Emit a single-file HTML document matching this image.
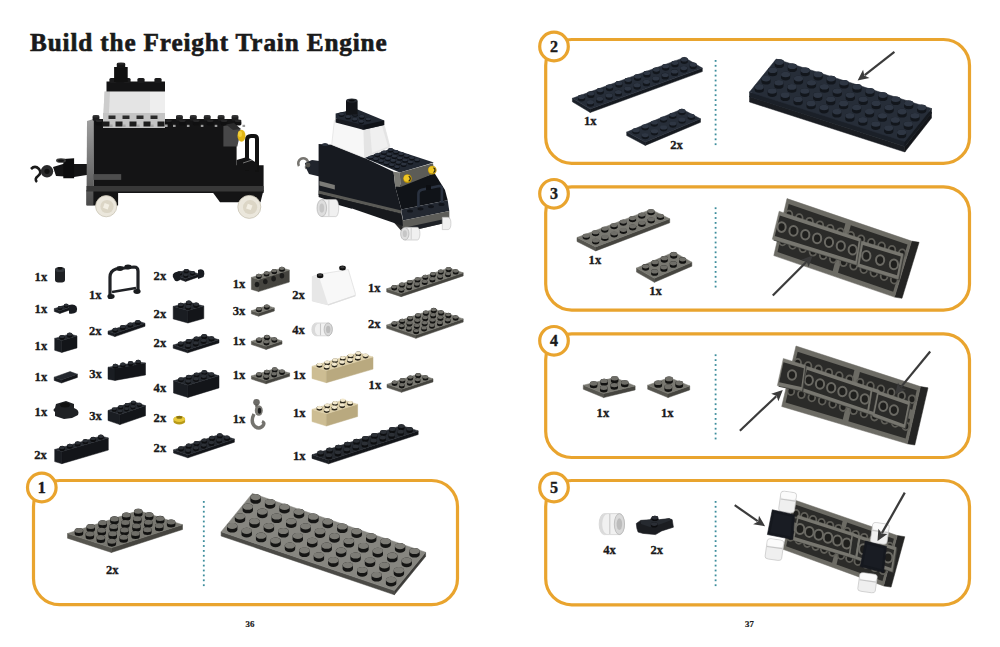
<!DOCTYPE html>
<html><head><meta charset="utf-8"><style>
html,body{margin:0;padding:0;background:#fff;}
svg{display:block;font-family:"Liberation Serif",serif;}
</style></head><body>
<svg width="1000" height="647" viewBox="0 0 1000 647">
<rect width="1000" height="647" fill="#ffffff"/>
<text x="30.0" y="50.6" font-size="25.2" text-anchor="start" font-weight="bold" fill="#1a1a1a" stroke="#1a1a1a" stroke-width="0.63" letter-spacing="0.86">Build the Freight Train Engine</text>
<rect x="33.5" y="480.5" width="424.0" height="124.20000000000005" rx="26" ry="26" fill="none" stroke="#e9a42e" stroke-width="3.2"/>
<circle cx="41.8" cy="487.5" r="14.3" fill="#fff" stroke="#e9a42e" stroke-width="3.2"/>
<text x="41.8" y="492.9" font-size="16" text-anchor="middle" font-weight="bold" fill="#1a1a1a" stroke="#1a1a1a" stroke-width="0.40" >1</text>
<rect x="202.9" y="501.0" width="1.8" height="1.8" fill="#3d8d9c"/><rect x="202.9" y="505.9" width="1.8" height="1.8" fill="#3d8d9c"/><rect x="202.9" y="510.8" width="1.8" height="1.8" fill="#3d8d9c"/><rect x="202.9" y="515.7" width="1.8" height="1.8" fill="#3d8d9c"/><rect x="202.9" y="520.6" width="1.8" height="1.8" fill="#3d8d9c"/><rect x="202.9" y="525.5" width="1.8" height="1.8" fill="#3d8d9c"/><rect x="202.9" y="530.4" width="1.8" height="1.8" fill="#3d8d9c"/><rect x="202.9" y="535.3" width="1.8" height="1.8" fill="#3d8d9c"/><rect x="202.9" y="540.2" width="1.8" height="1.8" fill="#3d8d9c"/><rect x="202.9" y="545.1" width="1.8" height="1.8" fill="#3d8d9c"/><rect x="202.9" y="550.0" width="1.8" height="1.8" fill="#3d8d9c"/><rect x="202.9" y="554.9" width="1.8" height="1.8" fill="#3d8d9c"/><rect x="202.9" y="559.8" width="1.8" height="1.8" fill="#3d8d9c"/><rect x="202.9" y="564.7" width="1.8" height="1.8" fill="#3d8d9c"/><rect x="202.9" y="569.6" width="1.8" height="1.8" fill="#3d8d9c"/><rect x="202.9" y="574.5" width="1.8" height="1.8" fill="#3d8d9c"/><rect x="202.9" y="579.4" width="1.8" height="1.8" fill="#3d8d9c"/><rect x="202.9" y="584.3" width="1.8" height="1.8" fill="#3d8d9c"/>
<rect x="545.7" y="39.5" width="423.79999999999995" height="123.80000000000001" rx="26" ry="26" fill="none" stroke="#e9a42e" stroke-width="3.2"/>
<circle cx="554.0" cy="46.5" r="14.3" fill="#fff" stroke="#e9a42e" stroke-width="3.2"/>
<text x="554.0" y="51.9" font-size="16" text-anchor="middle" font-weight="bold" fill="#1a1a1a" stroke="#1a1a1a" stroke-width="0.40" >2</text>
<rect x="714.7" y="60.0" width="1.8" height="1.8" fill="#3d8d9c"/><rect x="714.7" y="64.9" width="1.8" height="1.8" fill="#3d8d9c"/><rect x="714.7" y="69.8" width="1.8" height="1.8" fill="#3d8d9c"/><rect x="714.7" y="74.7" width="1.8" height="1.8" fill="#3d8d9c"/><rect x="714.7" y="79.6" width="1.8" height="1.8" fill="#3d8d9c"/><rect x="714.7" y="84.5" width="1.8" height="1.8" fill="#3d8d9c"/><rect x="714.7" y="89.4" width="1.8" height="1.8" fill="#3d8d9c"/><rect x="714.7" y="94.3" width="1.8" height="1.8" fill="#3d8d9c"/><rect x="714.7" y="99.2" width="1.8" height="1.8" fill="#3d8d9c"/><rect x="714.7" y="104.1" width="1.8" height="1.8" fill="#3d8d9c"/><rect x="714.7" y="109.0" width="1.8" height="1.8" fill="#3d8d9c"/><rect x="714.7" y="113.9" width="1.8" height="1.8" fill="#3d8d9c"/><rect x="714.7" y="118.8" width="1.8" height="1.8" fill="#3d8d9c"/><rect x="714.7" y="123.7" width="1.8" height="1.8" fill="#3d8d9c"/><rect x="714.7" y="128.6" width="1.8" height="1.8" fill="#3d8d9c"/><rect x="714.7" y="133.5" width="1.8" height="1.8" fill="#3d8d9c"/><rect x="714.7" y="138.4" width="1.8" height="1.8" fill="#3d8d9c"/><rect x="714.7" y="143.3" width="1.8" height="1.8" fill="#3d8d9c"/>
<rect x="545.7" y="186.8" width="423.79999999999995" height="123.30000000000001" rx="26" ry="26" fill="none" stroke="#e9a42e" stroke-width="3.2"/>
<circle cx="554.0" cy="193.8" r="14.3" fill="#fff" stroke="#e9a42e" stroke-width="3.2"/>
<text x="554.0" y="199.20000000000002" font-size="16" text-anchor="middle" font-weight="bold" fill="#1a1a1a" stroke="#1a1a1a" stroke-width="0.40" >3</text>
<rect x="714.7" y="207.3" width="1.8" height="1.8" fill="#3d8d9c"/><rect x="714.7" y="212.2" width="1.8" height="1.8" fill="#3d8d9c"/><rect x="714.7" y="217.1" width="1.8" height="1.8" fill="#3d8d9c"/><rect x="714.7" y="222.0" width="1.8" height="1.8" fill="#3d8d9c"/><rect x="714.7" y="226.9" width="1.8" height="1.8" fill="#3d8d9c"/><rect x="714.7" y="231.8" width="1.8" height="1.8" fill="#3d8d9c"/><rect x="714.7" y="236.7" width="1.8" height="1.8" fill="#3d8d9c"/><rect x="714.7" y="241.6" width="1.8" height="1.8" fill="#3d8d9c"/><rect x="714.7" y="246.5" width="1.8" height="1.8" fill="#3d8d9c"/><rect x="714.7" y="251.4" width="1.8" height="1.8" fill="#3d8d9c"/><rect x="714.7" y="256.3" width="1.8" height="1.8" fill="#3d8d9c"/><rect x="714.7" y="261.2" width="1.8" height="1.8" fill="#3d8d9c"/><rect x="714.7" y="266.1" width="1.8" height="1.8" fill="#3d8d9c"/><rect x="714.7" y="271.0" width="1.8" height="1.8" fill="#3d8d9c"/><rect x="714.7" y="275.9" width="1.8" height="1.8" fill="#3d8d9c"/><rect x="714.7" y="280.8" width="1.8" height="1.8" fill="#3d8d9c"/><rect x="714.7" y="285.7" width="1.8" height="1.8" fill="#3d8d9c"/>
<rect x="545.7" y="333.8" width="423.79999999999995" height="123.69999999999999" rx="26" ry="26" fill="none" stroke="#e9a42e" stroke-width="3.2"/>
<circle cx="554.0" cy="340.8" r="14.3" fill="#fff" stroke="#e9a42e" stroke-width="3.2"/>
<text x="554.0" y="346.2" font-size="16" text-anchor="middle" font-weight="bold" fill="#1a1a1a" stroke="#1a1a1a" stroke-width="0.40" >4</text>
<rect x="714.7" y="354.3" width="1.8" height="1.8" fill="#3d8d9c"/><rect x="714.7" y="359.2" width="1.8" height="1.8" fill="#3d8d9c"/><rect x="714.7" y="364.1" width="1.8" height="1.8" fill="#3d8d9c"/><rect x="714.7" y="369.0" width="1.8" height="1.8" fill="#3d8d9c"/><rect x="714.7" y="373.9" width="1.8" height="1.8" fill="#3d8d9c"/><rect x="714.7" y="378.8" width="1.8" height="1.8" fill="#3d8d9c"/><rect x="714.7" y="383.7" width="1.8" height="1.8" fill="#3d8d9c"/><rect x="714.7" y="388.6" width="1.8" height="1.8" fill="#3d8d9c"/><rect x="714.7" y="393.5" width="1.8" height="1.8" fill="#3d8d9c"/><rect x="714.7" y="398.4" width="1.8" height="1.8" fill="#3d8d9c"/><rect x="714.7" y="403.3" width="1.8" height="1.8" fill="#3d8d9c"/><rect x="714.7" y="408.2" width="1.8" height="1.8" fill="#3d8d9c"/><rect x="714.7" y="413.1" width="1.8" height="1.8" fill="#3d8d9c"/><rect x="714.7" y="418.0" width="1.8" height="1.8" fill="#3d8d9c"/><rect x="714.7" y="422.9" width="1.8" height="1.8" fill="#3d8d9c"/><rect x="714.7" y="427.8" width="1.8" height="1.8" fill="#3d8d9c"/><rect x="714.7" y="432.7" width="1.8" height="1.8" fill="#3d8d9c"/><rect x="714.7" y="437.6" width="1.8" height="1.8" fill="#3d8d9c"/>
<rect x="545.7" y="480.5" width="423.79999999999995" height="124.29999999999995" rx="26" ry="26" fill="none" stroke="#e9a42e" stroke-width="3.2"/>
<circle cx="554.0" cy="487.5" r="14.3" fill="#fff" stroke="#e9a42e" stroke-width="3.2"/>
<text x="554.0" y="492.9" font-size="16" text-anchor="middle" font-weight="bold" fill="#1a1a1a" stroke="#1a1a1a" stroke-width="0.40" >5</text>
<rect x="714.7" y="501.0" width="1.8" height="1.8" fill="#3d8d9c"/><rect x="714.7" y="505.9" width="1.8" height="1.8" fill="#3d8d9c"/><rect x="714.7" y="510.8" width="1.8" height="1.8" fill="#3d8d9c"/><rect x="714.7" y="515.7" width="1.8" height="1.8" fill="#3d8d9c"/><rect x="714.7" y="520.6" width="1.8" height="1.8" fill="#3d8d9c"/><rect x="714.7" y="525.5" width="1.8" height="1.8" fill="#3d8d9c"/><rect x="714.7" y="530.4" width="1.8" height="1.8" fill="#3d8d9c"/><rect x="714.7" y="535.3" width="1.8" height="1.8" fill="#3d8d9c"/><rect x="714.7" y="540.2" width="1.8" height="1.8" fill="#3d8d9c"/><rect x="714.7" y="545.1" width="1.8" height="1.8" fill="#3d8d9c"/><rect x="714.7" y="550.0" width="1.8" height="1.8" fill="#3d8d9c"/><rect x="714.7" y="554.9" width="1.8" height="1.8" fill="#3d8d9c"/><rect x="714.7" y="559.8" width="1.8" height="1.8" fill="#3d8d9c"/><rect x="714.7" y="564.7" width="1.8" height="1.8" fill="#3d8d9c"/><rect x="714.7" y="569.6" width="1.8" height="1.8" fill="#3d8d9c"/><rect x="714.7" y="574.5" width="1.8" height="1.8" fill="#3d8d9c"/><rect x="714.7" y="579.4" width="1.8" height="1.8" fill="#3d8d9c"/><rect x="714.7" y="584.3" width="1.8" height="1.8" fill="#3d8d9c"/>
<text x="250" y="627" font-size="8.8" text-anchor="middle" font-weight="bold" fill="#1a1a1a" stroke="#1a1a1a" stroke-width="0.22" >36</text>
<text x="749.5" y="627" font-size="8.8" text-anchor="middle" font-weight="bold" fill="#1a1a1a" stroke="#1a1a1a" stroke-width="0.22" >37</text>
<text x="34.6" y="281.3" font-size="12.6" text-anchor="start" font-weight="bold" fill="#1a1a1a" stroke="#1a1a1a" stroke-width="0.32" >1x</text>
<text x="34.6" y="312.5" font-size="12.6" text-anchor="start" font-weight="bold" fill="#1a1a1a" stroke="#1a1a1a" stroke-width="0.32" >1x</text>
<text x="34.6" y="349.6" font-size="12.6" text-anchor="start" font-weight="bold" fill="#1a1a1a" stroke="#1a1a1a" stroke-width="0.32" >1x</text>
<text x="34.6" y="381.2" font-size="12.6" text-anchor="start" font-weight="bold" fill="#1a1a1a" stroke="#1a1a1a" stroke-width="0.32" >1x</text>
<text x="34.6" y="416.1" font-size="12.6" text-anchor="start" font-weight="bold" fill="#1a1a1a" stroke="#1a1a1a" stroke-width="0.32" >1x</text>
<text x="34.3" y="459.4" font-size="12.6" text-anchor="start" font-weight="bold" fill="#1a1a1a" stroke="#1a1a1a" stroke-width="0.32" >2x</text>
<text x="89.0" y="298.6" font-size="12.6" text-anchor="start" font-weight="bold" fill="#1a1a1a" stroke="#1a1a1a" stroke-width="0.32" >1x</text>
<text x="89.0" y="334.7" font-size="12.6" text-anchor="start" font-weight="bold" fill="#1a1a1a" stroke="#1a1a1a" stroke-width="0.32" >2x</text>
<text x="89.3" y="377.8" font-size="12.6" text-anchor="start" font-weight="bold" fill="#1a1a1a" stroke="#1a1a1a" stroke-width="0.32" >3x</text>
<text x="89.3" y="419.5" font-size="12.6" text-anchor="start" font-weight="bold" fill="#1a1a1a" stroke="#1a1a1a" stroke-width="0.32" >3x</text>
<text x="153.6" y="279.7" font-size="12.6" text-anchor="start" font-weight="bold" fill="#1a1a1a" stroke="#1a1a1a" stroke-width="0.32" >2x</text>
<text x="153.6" y="317.6" font-size="12.6" text-anchor="start" font-weight="bold" fill="#1a1a1a" stroke="#1a1a1a" stroke-width="0.32" >2x</text>
<text x="153.6" y="346.8" font-size="12.6" text-anchor="start" font-weight="bold" fill="#1a1a1a" stroke="#1a1a1a" stroke-width="0.32" >2x</text>
<text x="153.6" y="391.5" font-size="12.6" text-anchor="start" font-weight="bold" fill="#1a1a1a" stroke="#1a1a1a" stroke-width="0.32" >4x</text>
<text x="153.6" y="422.1" font-size="12.6" text-anchor="start" font-weight="bold" fill="#1a1a1a" stroke="#1a1a1a" stroke-width="0.32" >2x</text>
<text x="153.6" y="451.8" font-size="12.6" text-anchor="start" font-weight="bold" fill="#1a1a1a" stroke="#1a1a1a" stroke-width="0.32" >2x</text>
<text x="232.7" y="288.2" font-size="12.6" text-anchor="start" font-weight="bold" fill="#1a1a1a" stroke="#1a1a1a" stroke-width="0.32" >1x</text>
<text x="232.7" y="315.4" font-size="12.6" text-anchor="start" font-weight="bold" fill="#1a1a1a" stroke="#1a1a1a" stroke-width="0.32" >3x</text>
<text x="232.7" y="345.1" font-size="12.6" text-anchor="start" font-weight="bold" fill="#1a1a1a" stroke="#1a1a1a" stroke-width="0.32" >1x</text>
<text x="232.7" y="378.7" font-size="12.6" text-anchor="start" font-weight="bold" fill="#1a1a1a" stroke="#1a1a1a" stroke-width="0.32" >1x</text>
<text x="232.7" y="422.6" font-size="12.6" text-anchor="start" font-weight="bold" fill="#1a1a1a" stroke="#1a1a1a" stroke-width="0.32" >1x</text>
<text x="292.2" y="299.2" font-size="12.6" text-anchor="start" font-weight="bold" fill="#1a1a1a" stroke="#1a1a1a" stroke-width="0.32" >2x</text>
<text x="292.2" y="334.0" font-size="12.6" text-anchor="start" font-weight="bold" fill="#1a1a1a" stroke="#1a1a1a" stroke-width="0.32" >4x</text>
<text x="293.0" y="378.7" font-size="12.6" text-anchor="start" font-weight="bold" fill="#1a1a1a" stroke="#1a1a1a" stroke-width="0.32" >1x</text>
<text x="293.0" y="417.0" font-size="12.6" text-anchor="start" font-weight="bold" fill="#1a1a1a" stroke="#1a1a1a" stroke-width="0.32" >1x</text>
<text x="293.0" y="460.3" font-size="12.6" text-anchor="start" font-weight="bold" fill="#1a1a1a" stroke="#1a1a1a" stroke-width="0.32" >1x</text>
<text x="368.0" y="292.0" font-size="12.6" text-anchor="start" font-weight="bold" fill="#1a1a1a" stroke="#1a1a1a" stroke-width="0.32" >1x</text>
<text x="368.0" y="328.1" font-size="12.6" text-anchor="start" font-weight="bold" fill="#1a1a1a" stroke="#1a1a1a" stroke-width="0.32" >2x</text>
<text x="368.6" y="388.5" font-size="12.6" text-anchor="start" font-weight="bold" fill="#1a1a1a" stroke="#1a1a1a" stroke-width="0.32" >1x</text>
<path d="M55,270 a5,2.6 0 0 1 10,0 v10 a5,2.6 0 0 1 -10,0z" fill="#1f2124"/>
<ellipse cx="60" cy="269.5" rx="5" ry="2.6" fill="#33373c"/>
<ellipse cx="60" cy="268.3" rx="2.6" ry="1.4" fill="#111"/>
<polygon points="54.3,308.7 59.9,310.7 59.9,313.4 54.3,311.4" fill="#1a1d22" stroke="#1a1d22" stroke-width="0.5" stroke-linejoin="round" />
<polygon points="59.9,310.7 72.0,306.5 72.0,309.2 59.9,313.4" fill="#131519" stroke="#131519" stroke-width="0.5" stroke-linejoin="round" />
<polygon points="54.3,308.7 59.9,310.7 72.0,306.5 66.4,304.5" fill="#25292f" stroke="#25292f" stroke-width="0.5" stroke-linejoin="round" />
<path d="M64.0,306.6 v-1.5 a2.2,1.3 0 0 1 4.4,0 v1.5 a2.2,1.3 0 0 1 -4.4,0z" fill="#0d0e10"/>
<ellipse cx="66.2" cy="305.1" rx="2.2" ry="1.3" fill="#2c3036"/>
<path d="M57.9,308.7 v-1.5 a2.2,1.3 0 0 1 4.4,0 v1.5 a2.2,1.3 0 0 1 -4.4,0z" fill="#0d0e10"/>
<ellipse cx="60.1" cy="307.2" rx="2.2" ry="1.3" fill="#2c3036"/>
<path d="M69,305 q5,-1.5 7.5,1.5 q1.5,3 0,5.5 q-3,2.5 -7.5,1.5z" fill="#181b20"/>
<polygon points="54.7,338.4 61.8,340.5 61.8,352.4 54.7,350.3" fill="#1a1d22" stroke="#1a1d22" stroke-width="0.5" stroke-linejoin="round" />
<polygon points="61.8,340.5 77.0,336.0 77.0,347.9 61.8,352.4" fill="#131519" stroke="#131519" stroke-width="0.5" stroke-linejoin="round" />
<polygon points="54.7,338.4 61.8,340.5 77.0,336.0 69.9,333.9" fill="#25292f" stroke="#25292f" stroke-width="0.5" stroke-linejoin="round" />
<path d="M67.0,336.1 v-1.8 a2.7,1.6 0 0 1 5.4,0 v1.8 a2.7,1.6 0 0 1 -5.4,0z" fill="#0d0e10"/>
<ellipse cx="69.7" cy="334.2" rx="2.7" ry="1.6" fill="#2c3036"/>
<path d="M59.3,338.3 v-1.8 a2.7,1.6 0 0 1 5.4,0 v1.8 a2.7,1.6 0 0 1 -5.4,0z" fill="#0d0e10"/>
<ellipse cx="62.0" cy="336.5" rx="2.7" ry="1.6" fill="#2c3036"/>
<polygon points="54.2,377.2 61.5,379.7 61.5,383.0 54.2,380.4" fill="#1a1d22" stroke="#1a1d22" stroke-width="0.5" stroke-linejoin="round" />
<polygon points="61.5,379.7 77.4,374.2 77.4,377.4 61.5,383.0" fill="#131519" stroke="#131519" stroke-width="0.5" stroke-linejoin="round" />
<polygon points="54.2,377.2 61.5,379.7 77.4,374.2 70.1,371.6" fill="#25292f" stroke="#25292f" stroke-width="0.5" stroke-linejoin="round" />
<path d="M56,404 l10,-3 l8,3 v4 q6,2 4,7 l-6,3 l-8,1 l-9,-3 v-4 q-3,-2 0,-4z" fill="#1f2124"/>
<ellipse cx="65" cy="405" rx="5" ry="2.5" fill="#111"/>
<polygon points="54.7,449.5 61.9,451.6 61.9,463.7 54.7,461.6" fill="#1a1d22" stroke="#1a1d22" stroke-width="0.5" stroke-linejoin="round" />
<polygon points="61.9,451.6 108.3,438.0 108.3,450.1 61.9,463.7" fill="#131519" stroke="#131519" stroke-width="0.5" stroke-linejoin="round" />
<polygon points="54.7,449.5 61.9,451.6 108.3,438.0 101.1,435.9" fill="#25292f" stroke="#25292f" stroke-width="0.5" stroke-linejoin="round" />
<path d="M98.1,438.1 v-1.9 a2.7,1.6 0 0 1 5.5,0 v1.9 a2.7,1.6 0 0 1 -5.5,0z" fill="#0d0e10"/>
<ellipse cx="100.9" cy="436.3" rx="2.7" ry="1.6" fill="#2c3036"/>
<path d="M90.4,440.4 v-1.9 a2.7,1.6 0 0 1 5.5,0 v1.9 a2.7,1.6 0 0 1 -5.5,0z" fill="#0d0e10"/>
<ellipse cx="93.1" cy="438.5" rx="2.7" ry="1.6" fill="#2c3036"/>
<path d="M82.6,442.6 v-1.9 a2.7,1.6 0 0 1 5.5,0 v1.9 a2.7,1.6 0 0 1 -5.5,0z" fill="#0d0e10"/>
<ellipse cx="85.4" cy="440.8" rx="2.7" ry="1.6" fill="#2c3036"/>
<path d="M74.9,444.9 v-1.9 a2.7,1.6 0 0 1 5.5,0 v1.9 a2.7,1.6 0 0 1 -5.5,0z" fill="#0d0e10"/>
<ellipse cx="77.6" cy="443.0" rx="2.7" ry="1.6" fill="#2c3036"/>
<path d="M67.1,447.2 v-1.9 a2.7,1.6 0 0 1 5.5,0 v1.9 a2.7,1.6 0 0 1 -5.5,0z" fill="#0d0e10"/>
<ellipse cx="69.9" cy="445.3" rx="2.7" ry="1.6" fill="#2c3036"/>
<path d="M59.4,449.4 v-1.9 a2.7,1.6 0 0 1 5.5,0 v1.9 a2.7,1.6 0 0 1 -5.5,0z" fill="#0d0e10"/>
<ellipse cx="62.1" cy="447.6" rx="2.7" ry="1.6" fill="#2c3036"/>
<path d="M110,299 v-22 q0,-6 6,-8 l18,-2 q4,0 4,4 v20" fill="none" stroke="#202226" stroke-width="3.2"/>
<path d="M112,292 l24,-4" stroke="#202226" stroke-width="2.6"/>
<ellipse cx="111" cy="296.5" rx="3.6" ry="2.4" fill="#1a1c1f"/>
<ellipse cx="137" cy="291.5" rx="3.6" ry="2.4" fill="#1a1c1f"/>
<ellipse cx="120" cy="268.5" rx="3.6" ry="2.4" fill="#1a1c1f"/>
<ellipse cx="128" cy="267" rx="3.6" ry="2.4" fill="#1a1c1f"/>
<polygon points="108.0,331.2 114.9,333.6 114.9,336.6 108.0,334.2" fill="#1a1d22" stroke="#1a1d22" stroke-width="0.5" stroke-linejoin="round" />
<polygon points="114.9,333.6 145.0,323.3 145.0,326.3 114.9,336.6" fill="#131519" stroke="#131519" stroke-width="0.5" stroke-linejoin="round" />
<polygon points="108.0,331.2 114.9,333.6 145.0,323.3 138.1,320.9" fill="#25292f" stroke="#25292f" stroke-width="0.5" stroke-linejoin="round" />
<path d="M135.1,323.4 v-1.8 a2.7,1.6 0 0 1 5.4,0 v1.8 a2.7,1.6 0 0 1 -5.4,0z" fill="#0d0e10"/>
<ellipse cx="137.8" cy="321.5" rx="2.7" ry="1.6" fill="#2c3036"/>
<path d="M127.6,325.9 v-1.8 a2.7,1.6 0 0 1 5.4,0 v1.8 a2.7,1.6 0 0 1 -5.4,0z" fill="#0d0e10"/>
<ellipse cx="130.3" cy="324.1" rx="2.7" ry="1.6" fill="#2c3036"/>
<path d="M120.0,328.5 v-1.8 a2.7,1.6 0 0 1 5.4,0 v1.8 a2.7,1.6 0 0 1 -5.4,0z" fill="#0d0e10"/>
<ellipse cx="122.7" cy="326.7" rx="2.7" ry="1.6" fill="#2c3036"/>
<path d="M112.5,331.1 v-1.8 a2.7,1.6 0 0 1 5.4,0 v1.8 a2.7,1.6 0 0 1 -5.4,0z" fill="#0d0e10"/>
<ellipse cx="115.2" cy="329.3" rx="2.7" ry="1.6" fill="#2c3036"/>
<polygon points="108.0,367.3 115.0,368.5 115.0,380.4 108.0,379.2" fill="#1a1d22" stroke="#1a1d22" stroke-width="0.5" stroke-linejoin="round" />
<polygon points="115.0,368.5 145.5,363.1 145.5,375.0 115.0,380.4" fill="#131519" stroke="#131519" stroke-width="0.5" stroke-linejoin="round" />
<polygon points="108.0,367.3 115.0,368.5 145.5,363.1 138.5,361.9" fill="#25292f" stroke="#25292f" stroke-width="0.5" stroke-linejoin="round" />
<path d="M135.5,363.2 v-1.8 a2.6,1.6 0 0 1 5.3,0 v1.8 a2.6,1.6 0 0 1 -5.3,0z" fill="#0d0e10"/>
<ellipse cx="138.2" cy="361.4" rx="2.6" ry="1.6" fill="#2c3036"/>
<path d="M127.9,364.5 v-1.8 a2.6,1.6 0 0 1 5.3,0 v1.8 a2.6,1.6 0 0 1 -5.3,0z" fill="#0d0e10"/>
<ellipse cx="130.6" cy="362.7" rx="2.6" ry="1.6" fill="#2c3036"/>
<path d="M120.3,365.9 v-1.8 a2.6,1.6 0 0 1 5.3,0 v1.8 a2.6,1.6 0 0 1 -5.3,0z" fill="#0d0e10"/>
<ellipse cx="122.9" cy="364.1" rx="2.6" ry="1.6" fill="#2c3036"/>
<path d="M112.7,367.2 v-1.8 a2.6,1.6 0 0 1 5.3,0 v1.8 a2.6,1.6 0 0 1 -5.3,0z" fill="#0d0e10"/>
<ellipse cx="115.3" cy="365.4" rx="2.6" ry="1.6" fill="#2c3036"/>
<polygon points="108.0,410.5 119.9,414.6 119.9,424.6 108.0,420.5" fill="#1a1d22" stroke="#1a1d22" stroke-width="0.5" stroke-linejoin="round" />
<polygon points="119.9,414.6 145.5,405.7 145.5,415.7 119.9,424.6" fill="#131519" stroke="#131519" stroke-width="0.5" stroke-linejoin="round" />
<polygon points="108.0,410.5 119.9,414.6 145.5,405.7 133.6,401.6" fill="#25292f" stroke="#25292f" stroke-width="0.5" stroke-linejoin="round" />
<path d="M131.1,403.7 v-1.6 a2.3,1.4 0 0 1 4.6,0 v1.6 a2.3,1.4 0 0 1 -4.6,0z" fill="#0d0e10"/>
<ellipse cx="133.4" cy="402.2" rx="2.3" ry="1.4" fill="#2c3036"/>
<path d="M137.0,405.8 v-1.6 a2.3,1.4 0 0 1 4.6,0 v1.6 a2.3,1.4 0 0 1 -4.6,0z" fill="#0d0e10"/>
<ellipse cx="139.3" cy="404.2" rx="2.3" ry="1.4" fill="#2c3036"/>
<path d="M124.7,406.0 v-1.6 a2.3,1.4 0 0 1 4.6,0 v1.6 a2.3,1.4 0 0 1 -4.6,0z" fill="#0d0e10"/>
<ellipse cx="127.0" cy="404.4" rx="2.3" ry="1.4" fill="#2c3036"/>
<path d="M130.6,408.0 v-1.6 a2.3,1.4 0 0 1 4.6,0 v1.6 a2.3,1.4 0 0 1 -4.6,0z" fill="#0d0e10"/>
<ellipse cx="132.9" cy="406.4" rx="2.3" ry="1.4" fill="#2c3036"/>
<path d="M118.3,408.2 v-1.6 a2.3,1.4 0 0 1 4.6,0 v1.6 a2.3,1.4 0 0 1 -4.6,0z" fill="#0d0e10"/>
<ellipse cx="120.6" cy="406.6" rx="2.3" ry="1.4" fill="#2c3036"/>
<path d="M124.2,410.2 v-1.6 a2.3,1.4 0 0 1 4.6,0 v1.6 a2.3,1.4 0 0 1 -4.6,0z" fill="#0d0e10"/>
<ellipse cx="126.5" cy="408.7" rx="2.3" ry="1.4" fill="#2c3036"/>
<path d="M111.9,410.4 v-1.6 a2.3,1.4 0 0 1 4.6,0 v1.6 a2.3,1.4 0 0 1 -4.6,0z" fill="#0d0e10"/>
<ellipse cx="114.2" cy="408.8" rx="2.3" ry="1.4" fill="#2c3036"/>
<path d="M117.8,412.4 v-1.6 a2.3,1.4 0 0 1 4.6,0 v1.6 a2.3,1.4 0 0 1 -4.6,0z" fill="#0d0e10"/>
<ellipse cx="120.1" cy="410.9" rx="2.3" ry="1.4" fill="#2c3036"/>
<polygon points="173.2,274.4 185.6,278.7 185.6,281.4 173.2,277.0" fill="#1a1d22" stroke="#1a1d22" stroke-width="0.5" stroke-linejoin="round" />
<polygon points="185.6,278.7 199.0,274.0 199.0,276.7 185.6,281.4" fill="#131519" stroke="#131519" stroke-width="0.5" stroke-linejoin="round" />
<polygon points="173.2,274.4 185.6,278.7 199.0,274.0 186.6,269.7" fill="#25292f" stroke="#25292f" stroke-width="0.5" stroke-linejoin="round" />
<path d="M183.9,271.9 v-1.6 a2.4,1.4 0 0 1 4.8,0 v1.6 a2.4,1.4 0 0 1 -4.8,0z" fill="#0d0e10"/>
<ellipse cx="186.4" cy="270.3" rx="2.4" ry="1.4" fill="#2c3036"/>
<path d="M190.1,274.1 v-1.6 a2.4,1.4 0 0 1 4.8,0 v1.6 a2.4,1.4 0 0 1 -4.8,0z" fill="#0d0e10"/>
<ellipse cx="192.5" cy="272.5" rx="2.4" ry="1.4" fill="#2c3036"/>
<path d="M177.2,274.3 v-1.6 a2.4,1.4 0 0 1 4.8,0 v1.6 a2.4,1.4 0 0 1 -4.8,0z" fill="#0d0e10"/>
<ellipse cx="179.6" cy="272.6" rx="2.4" ry="1.4" fill="#2c3036"/>
<path d="M183.4,276.5 v-1.6 a2.4,1.4 0 0 1 4.8,0 v1.6 a2.4,1.4 0 0 1 -4.8,0z" fill="#0d0e10"/>
<ellipse cx="185.8" cy="274.8" rx="2.4" ry="1.4" fill="#2c3036"/>
<path d="M174,273 q-2,3 0,6 q1,3 4,2 l2,-1 v-8 q-3,-1 -6,1z M198,270 q4,-2 6,1 q1,3 -0.5,6 l-5.5,2z" fill="#181b20"/>
<polygon points="173.2,306.4 187.9,310.6 187.9,323.0 173.2,318.9" fill="#1a1d22" stroke="#1a1d22" stroke-width="0.5" stroke-linejoin="round" />
<polygon points="187.9,310.6 203.8,306.1 203.8,318.5 187.9,323.0" fill="#131519" stroke="#131519" stroke-width="0.5" stroke-linejoin="round" />
<polygon points="173.2,306.4 187.9,310.6 203.8,306.1 189.1,302.0" fill="#25292f" stroke="#25292f" stroke-width="0.5" stroke-linejoin="round" />
<path d="M186.0,304.1 v-1.9 a2.8,1.7 0 0 1 5.6,0 v1.9 a2.8,1.7 0 0 1 -5.6,0z" fill="#0d0e10"/>
<ellipse cx="188.8" cy="302.2" rx="2.8" ry="1.7" fill="#2c3036"/>
<path d="M193.3,306.2 v-1.9 a2.8,1.7 0 0 1 5.6,0 v1.9 a2.8,1.7 0 0 1 -5.6,0z" fill="#0d0e10"/>
<ellipse cx="196.2" cy="304.3" rx="2.8" ry="1.7" fill="#2c3036"/>
<path d="M178.0,306.4 v-1.9 a2.8,1.7 0 0 1 5.6,0 v1.9 a2.8,1.7 0 0 1 -5.6,0z" fill="#0d0e10"/>
<ellipse cx="180.8" cy="304.5" rx="2.8" ry="1.7" fill="#2c3036"/>
<path d="M185.4,308.4 v-1.9 a2.8,1.7 0 0 1 5.6,0 v1.9 a2.8,1.7 0 0 1 -5.6,0z" fill="#0d0e10"/>
<ellipse cx="188.2" cy="306.5" rx="2.8" ry="1.7" fill="#2c3036"/>
<polygon points="173.2,345.1 187.7,349.7 187.7,352.8 173.2,348.2" fill="#1a1d22" stroke="#1a1d22" stroke-width="0.5" stroke-linejoin="round" />
<polygon points="187.7,349.7 219.0,339.8 219.0,342.9 187.7,352.8" fill="#131519" stroke="#131519" stroke-width="0.5" stroke-linejoin="round" />
<polygon points="173.2,345.1 187.7,349.7 219.0,339.8 204.5,335.2" fill="#25292f" stroke="#25292f" stroke-width="0.5" stroke-linejoin="round" />
<path d="M201.4,337.5 v-1.9 a2.8,1.7 0 0 1 5.6,0 v1.9 a2.8,1.7 0 0 1 -5.6,0z" fill="#0d0e10"/>
<ellipse cx="204.2" cy="335.6" rx="2.8" ry="1.7" fill="#2c3036"/>
<path d="M208.7,339.8 v-1.9 a2.8,1.7 0 0 1 5.6,0 v1.9 a2.8,1.7 0 0 1 -5.6,0z" fill="#0d0e10"/>
<ellipse cx="211.5" cy="337.9" rx="2.8" ry="1.7" fill="#2c3036"/>
<path d="M193.6,340.0 v-1.9 a2.8,1.7 0 0 1 5.6,0 v1.9 a2.8,1.7 0 0 1 -5.6,0z" fill="#0d0e10"/>
<ellipse cx="196.4" cy="338.1" rx="2.8" ry="1.7" fill="#2c3036"/>
<path d="M200.8,342.3 v-1.9 a2.8,1.7 0 0 1 5.6,0 v1.9 a2.8,1.7 0 0 1 -5.6,0z" fill="#0d0e10"/>
<ellipse cx="203.6" cy="340.4" rx="2.8" ry="1.7" fill="#2c3036"/>
<path d="M185.8,342.5 v-1.9 a2.8,1.7 0 0 1 5.6,0 v1.9 a2.8,1.7 0 0 1 -5.6,0z" fill="#0d0e10"/>
<ellipse cx="188.6" cy="340.6" rx="2.8" ry="1.7" fill="#2c3036"/>
<path d="M193.0,344.8 v-1.9 a2.8,1.7 0 0 1 5.6,0 v1.9 a2.8,1.7 0 0 1 -5.6,0z" fill="#0d0e10"/>
<ellipse cx="195.8" cy="342.9" rx="2.8" ry="1.7" fill="#2c3036"/>
<path d="M177.9,345.0 v-1.9 a2.8,1.7 0 0 1 5.6,0 v1.9 a2.8,1.7 0 0 1 -5.6,0z" fill="#0d0e10"/>
<ellipse cx="180.7" cy="343.1" rx="2.8" ry="1.7" fill="#2c3036"/>
<path d="M185.2,347.3 v-1.9 a2.8,1.7 0 0 1 5.6,0 v1.9 a2.8,1.7 0 0 1 -5.6,0z" fill="#0d0e10"/>
<ellipse cx="188.0" cy="345.4" rx="2.8" ry="1.7" fill="#2c3036"/>
<polygon points="173.5,380.8 187.9,385.2 187.9,397.4 173.5,393.0" fill="#1a1d22" stroke="#1a1d22" stroke-width="0.5" stroke-linejoin="round" />
<polygon points="187.9,385.2 219.0,375.8 219.0,387.9 187.9,397.4" fill="#131519" stroke="#131519" stroke-width="0.5" stroke-linejoin="round" />
<polygon points="173.5,380.8 187.9,385.2 219.0,375.8 204.6,371.3" fill="#25292f" stroke="#25292f" stroke-width="0.5" stroke-linejoin="round" />
<path d="M201.6,373.6 v-1.9 a2.8,1.7 0 0 1 5.5,0 v1.9 a2.8,1.7 0 0 1 -5.5,0z" fill="#0d0e10"/>
<ellipse cx="204.3" cy="371.8" rx="2.8" ry="1.7" fill="#2c3036"/>
<path d="M208.7,375.8 v-1.9 a2.8,1.7 0 0 1 5.5,0 v1.9 a2.8,1.7 0 0 1 -5.5,0z" fill="#0d0e10"/>
<ellipse cx="211.5" cy="374.0" rx="2.8" ry="1.7" fill="#2c3036"/>
<path d="M193.8,376.0 v-1.9 a2.8,1.7 0 0 1 5.5,0 v1.9 a2.8,1.7 0 0 1 -5.5,0z" fill="#0d0e10"/>
<ellipse cx="196.5" cy="374.1" rx="2.8" ry="1.7" fill="#2c3036"/>
<path d="M201.0,378.2 v-1.9 a2.8,1.7 0 0 1 5.5,0 v1.9 a2.8,1.7 0 0 1 -5.5,0z" fill="#0d0e10"/>
<ellipse cx="203.7" cy="376.3" rx="2.8" ry="1.7" fill="#2c3036"/>
<path d="M186.0,378.4 v-1.9 a2.8,1.7 0 0 1 5.5,0 v1.9 a2.8,1.7 0 0 1 -5.5,0z" fill="#0d0e10"/>
<ellipse cx="188.8" cy="376.5" rx="2.8" ry="1.7" fill="#2c3036"/>
<path d="M193.2,380.6 v-1.9 a2.8,1.7 0 0 1 5.5,0 v1.9 a2.8,1.7 0 0 1 -5.5,0z" fill="#0d0e10"/>
<ellipse cx="196.0" cy="378.7" rx="2.8" ry="1.7" fill="#2c3036"/>
<path d="M178.2,380.8 v-1.9 a2.8,1.7 0 0 1 5.5,0 v1.9 a2.8,1.7 0 0 1 -5.5,0z" fill="#0d0e10"/>
<ellipse cx="181.0" cy="378.9" rx="2.8" ry="1.7" fill="#2c3036"/>
<path d="M185.4,383.0 v-1.9 a2.8,1.7 0 0 1 5.5,0 v1.9 a2.8,1.7 0 0 1 -5.5,0z" fill="#0d0e10"/>
<ellipse cx="188.2" cy="381.1" rx="2.8" ry="1.7" fill="#2c3036"/>
<path d="M173.5,419 a5.8,3 0 0 1 11.6,0 v2.5 a5.8,3 0 0 1 -11.6,0z" fill="#b89a18"/>
<ellipse cx="179.3" cy="419" rx="5.8" ry="3" fill="#e8c93a"/>
<ellipse cx="179.3" cy="417.3" rx="3" ry="1.5" fill="#8a7412"/>
<polygon points="173.5,449.9 187.9,454.7 187.9,457.8 173.5,453.0" fill="#1a1d22" stroke="#1a1d22" stroke-width="0.5" stroke-linejoin="round" />
<polygon points="187.9,454.7 234.4,439.1 234.4,442.2 187.9,457.8" fill="#131519" stroke="#131519" stroke-width="0.5" stroke-linejoin="round" />
<polygon points="173.5,449.9 187.9,454.7 234.4,439.1 220.0,434.2" fill="#25292f" stroke="#25292f" stroke-width="0.5" stroke-linejoin="round" />
<path d="M217.0,436.8 v-1.9 a2.8,1.7 0 0 1 5.6,0 v1.9 a2.8,1.7 0 0 1 -5.6,0z" fill="#0d0e10"/>
<ellipse cx="219.8" cy="434.9" rx="2.8" ry="1.7" fill="#2c3036"/>
<path d="M224.2,439.2 v-1.9 a2.8,1.7 0 0 1 5.6,0 v1.9 a2.8,1.7 0 0 1 -5.6,0z" fill="#0d0e10"/>
<ellipse cx="226.9" cy="437.3" rx="2.8" ry="1.7" fill="#2c3036"/>
<path d="M209.2,439.4 v-1.9 a2.8,1.7 0 0 1 5.6,0 v1.9 a2.8,1.7 0 0 1 -5.6,0z" fill="#0d0e10"/>
<ellipse cx="212.0" cy="437.5" rx="2.8" ry="1.7" fill="#2c3036"/>
<path d="M216.4,441.8 v-1.9 a2.8,1.7 0 0 1 5.6,0 v1.9 a2.8,1.7 0 0 1 -5.6,0z" fill="#0d0e10"/>
<ellipse cx="219.2" cy="439.9" rx="2.8" ry="1.7" fill="#2c3036"/>
<path d="M201.5,442.0 v-1.9 a2.8,1.7 0 0 1 5.6,0 v1.9 a2.8,1.7 0 0 1 -5.6,0z" fill="#0d0e10"/>
<ellipse cx="204.2" cy="440.1" rx="2.8" ry="1.7" fill="#2c3036"/>
<path d="M208.6,444.4 v-1.9 a2.8,1.7 0 0 1 5.6,0 v1.9 a2.8,1.7 0 0 1 -5.6,0z" fill="#0d0e10"/>
<ellipse cx="211.4" cy="442.5" rx="2.8" ry="1.7" fill="#2c3036"/>
<path d="M193.7,444.6 v-1.9 a2.8,1.7 0 0 1 5.6,0 v1.9 a2.8,1.7 0 0 1 -5.6,0z" fill="#0d0e10"/>
<ellipse cx="196.5" cy="442.7" rx="2.8" ry="1.7" fill="#2c3036"/>
<path d="M200.9,447.0 v-1.9 a2.8,1.7 0 0 1 5.6,0 v1.9 a2.8,1.7 0 0 1 -5.6,0z" fill="#0d0e10"/>
<ellipse cx="203.7" cy="445.1" rx="2.8" ry="1.7" fill="#2c3036"/>
<path d="M185.9,447.2 v-1.9 a2.8,1.7 0 0 1 5.6,0 v1.9 a2.8,1.7 0 0 1 -5.6,0z" fill="#0d0e10"/>
<ellipse cx="188.7" cy="445.3" rx="2.8" ry="1.7" fill="#2c3036"/>
<path d="M193.1,449.6 v-1.9 a2.8,1.7 0 0 1 5.6,0 v1.9 a2.8,1.7 0 0 1 -5.6,0z" fill="#0d0e10"/>
<ellipse cx="195.9" cy="447.7" rx="2.8" ry="1.7" fill="#2c3036"/>
<path d="M178.2,449.8 v-1.9 a2.8,1.7 0 0 1 5.6,0 v1.9 a2.8,1.7 0 0 1 -5.6,0z" fill="#0d0e10"/>
<ellipse cx="181.0" cy="447.9" rx="2.8" ry="1.7" fill="#2c3036"/>
<path d="M185.4,452.2 v-1.9 a2.8,1.7 0 0 1 5.6,0 v1.9 a2.8,1.7 0 0 1 -5.6,0z" fill="#0d0e10"/>
<ellipse cx="188.1" cy="450.3" rx="2.8" ry="1.7" fill="#2c3036"/>
<polygon points="251.4,277.4 258.5,279.6 258.5,291.6 251.4,289.4" fill="#56554f" stroke="#56554f" stroke-width="0.5" stroke-linejoin="round" />
<polygon points="258.5,279.6 289.3,270.1 289.3,282.1 258.5,291.6" fill="#45443f" stroke="#45443f" stroke-width="0.5" stroke-linejoin="round" />
<polygon points="251.4,277.4 258.5,279.6 289.3,270.1 282.2,267.9" fill="#797871" stroke="#797871" stroke-width="0.5" stroke-linejoin="round" />
<path d="M279.2,270.2 v-1.9 a2.7,1.6 0 0 1 5.5,0 v1.9 a2.7,1.6 0 0 1 -5.5,0z" fill="#121211"/>
<ellipse cx="281.9" cy="268.3" rx="2.7" ry="1.6" fill="#6f6e68"/>
<path d="M271.5,272.6 v-1.9 a2.7,1.6 0 0 1 5.5,0 v1.9 a2.7,1.6 0 0 1 -5.5,0z" fill="#121211"/>
<ellipse cx="274.2" cy="270.7" rx="2.7" ry="1.6" fill="#6f6e68"/>
<path d="M263.8,274.9 v-1.9 a2.7,1.6 0 0 1 5.5,0 v1.9 a2.7,1.6 0 0 1 -5.5,0z" fill="#121211"/>
<ellipse cx="266.5" cy="273.1" rx="2.7" ry="1.6" fill="#6f6e68"/>
<path d="M256.1,277.3 v-1.9 a2.7,1.6 0 0 1 5.5,0 v1.9 a2.7,1.6 0 0 1 -5.5,0z" fill="#121211"/>
<ellipse cx="258.8" cy="275.4" rx="2.7" ry="1.6" fill="#6f6e68"/>
<ellipse cx="257.0" cy="284.5" rx="2.3" ry="2.7" fill="#1c1c1b"/>
<ellipse cx="265.3" cy="281.6" rx="2.3" ry="2.7" fill="#1c1c1b"/>
<ellipse cx="273.6" cy="278.7" rx="2.3" ry="2.7" fill="#1c1c1b"/>
<ellipse cx="281.9" cy="275.8" rx="2.3" ry="2.7" fill="#1c1c1b"/>
<polygon points="251.4,310.7 258.6,313.1 258.6,316.2 251.4,313.8" fill="#56554f" stroke="#56554f" stroke-width="0.5" stroke-linejoin="round" />
<polygon points="258.6,313.1 274.3,307.9 274.3,311.0 258.6,316.2" fill="#45443f" stroke="#45443f" stroke-width="0.5" stroke-linejoin="round" />
<polygon points="251.4,310.7 258.6,313.1 274.3,307.9 267.1,305.5" fill="#797871" stroke="#797871" stroke-width="0.5" stroke-linejoin="round" />
<path d="M264.0,308.0 v-1.9 a2.8,1.7 0 0 1 5.6,0 v1.9 a2.8,1.7 0 0 1 -5.6,0z" fill="#121211"/>
<ellipse cx="266.8" cy="306.1" rx="2.8" ry="1.7" fill="#6f6e68"/>
<path d="M256.1,310.6 v-1.9 a2.8,1.7 0 0 1 5.6,0 v1.9 a2.8,1.7 0 0 1 -5.6,0z" fill="#121211"/>
<ellipse cx="258.9" cy="308.7" rx="2.8" ry="1.7" fill="#6f6e68"/>
<polygon points="251.4,341.3 266.1,346.2 266.1,349.4 251.4,344.5" fill="#56554f" stroke="#56554f" stroke-width="0.5" stroke-linejoin="round" />
<polygon points="266.1,346.2 282.0,340.9 282.0,344.1 266.1,349.4" fill="#45443f" stroke="#45443f" stroke-width="0.5" stroke-linejoin="round" />
<polygon points="251.4,341.3 266.1,346.2 282.0,340.9 267.3,336.0" fill="#797871" stroke="#797871" stroke-width="0.5" stroke-linejoin="round" />
<path d="M264.1,338.5 v-1.9 a2.8,1.7 0 0 1 5.7,0 v1.9 a2.8,1.7 0 0 1 -5.7,0z" fill="#121211"/>
<ellipse cx="267.0" cy="336.6" rx="2.8" ry="1.7" fill="#6f6e68"/>
<path d="M271.5,341.0 v-1.9 a2.8,1.7 0 0 1 5.7,0 v1.9 a2.8,1.7 0 0 1 -5.7,0z" fill="#121211"/>
<ellipse cx="274.3" cy="339.1" rx="2.8" ry="1.7" fill="#6f6e68"/>
<path d="M256.2,341.2 v-1.9 a2.8,1.7 0 0 1 5.7,0 v1.9 a2.8,1.7 0 0 1 -5.7,0z" fill="#121211"/>
<ellipse cx="259.1" cy="339.3" rx="2.8" ry="1.7" fill="#6f6e68"/>
<path d="M263.6,343.7 v-1.9 a2.8,1.7 0 0 1 5.7,0 v1.9 a2.8,1.7 0 0 1 -5.7,0z" fill="#121211"/>
<ellipse cx="266.4" cy="341.7" rx="2.8" ry="1.7" fill="#6f6e68"/>
<polygon points="251.4,376.0 266.0,380.6 266.0,383.8 251.4,379.1" fill="#56554f" stroke="#56554f" stroke-width="0.5" stroke-linejoin="round" />
<polygon points="266.0,380.6 289.6,373.1 289.6,376.3 266.0,383.8" fill="#45443f" stroke="#45443f" stroke-width="0.5" stroke-linejoin="round" />
<polygon points="251.4,376.0 266.0,380.6 289.6,373.1 275.0,368.5" fill="#797871" stroke="#797871" stroke-width="0.5" stroke-linejoin="round" />
<path d="M271.9,370.9 v-1.9 a2.8,1.7 0 0 1 5.6,0 v1.9 a2.8,1.7 0 0 1 -5.6,0z" fill="#121211"/>
<ellipse cx="274.7" cy="369.0" rx="2.8" ry="1.7" fill="#6f6e68"/>
<path d="M279.2,373.2 v-1.9 a2.8,1.7 0 0 1 5.6,0 v1.9 a2.8,1.7 0 0 1 -5.6,0z" fill="#121211"/>
<ellipse cx="282.0" cy="371.3" rx="2.8" ry="1.7" fill="#6f6e68"/>
<path d="M264.0,373.4 v-1.9 a2.8,1.7 0 0 1 5.6,0 v1.9 a2.8,1.7 0 0 1 -5.6,0z" fill="#121211"/>
<ellipse cx="266.9" cy="371.5" rx="2.8" ry="1.7" fill="#6f6e68"/>
<path d="M271.3,375.7 v-1.9 a2.8,1.7 0 0 1 5.6,0 v1.9 a2.8,1.7 0 0 1 -5.6,0z" fill="#121211"/>
<ellipse cx="274.1" cy="373.8" rx="2.8" ry="1.7" fill="#6f6e68"/>
<path d="M256.2,375.9 v-1.9 a2.8,1.7 0 0 1 5.6,0 v1.9 a2.8,1.7 0 0 1 -5.6,0z" fill="#121211"/>
<ellipse cx="259.0" cy="374.0" rx="2.8" ry="1.7" fill="#6f6e68"/>
<path d="M263.5,378.2 v-1.9 a2.8,1.7 0 0 1 5.6,0 v1.9 a2.8,1.7 0 0 1 -5.6,0z" fill="#121211"/>
<ellipse cx="266.3" cy="376.3" rx="2.8" ry="1.7" fill="#6f6e68"/>
<circle cx="256.5" cy="402.2" r="3.3" fill="#6b6a66"/>
<rect x="255.3" y="404" width="2.6" height="3.5" fill="#5e5d59"/>
<path d="M254,414 q-4,8 1,12.5 q5,3.5 8.5,-1.5 q1.2,-2.5 -1.5,-3.5" fill="none" stroke="#74736e" stroke-width="3.4"/>
<ellipse cx="258.8" cy="410.5" rx="4" ry="5.2" fill="#7a7974"/>
<ellipse cx="259.5" cy="410.8" rx="1.7" ry="3" fill="#1e1e1e"/>
<polygon points="312.3,276.6 318,274.5 348.3,269.5 355.3,293.3 355.3,295.6 328.2,304.9 312.3,301" fill="#f8f8f8" stroke="#d6d6d6" stroke-width="0.6"/>
<polygon points="312.3,276.6 319,276.5 328.2,304.9 312.3,301" fill="#e7e7e7"/>
<polyline points="328.2,304.9 355.3,295.6" fill="none" stroke="#dedede" stroke-width="1.2"/>
<ellipse cx="320.1" cy="276.2" rx="3.9" ry="2.4" fill="#f0f0f0"/>
<path d="M316.90000000000003,276.5 v-1.5 a3.2,1.7 0 0 1 6.4,0 v1.5 a3.2,1.7 0 0 1 -6.4,0z" fill="#111"/>
<ellipse cx="320.1" cy="275.0" rx="2.2" ry="1.1" fill="#3a3a3a"/>
<ellipse cx="342.5" cy="268.5" rx="3.9" ry="2.4" fill="#f0f0f0"/>
<path d="M339.3,268.8 v-1.5 a3.2,1.7 0 0 1 6.4,0 v1.5 a3.2,1.7 0 0 1 -6.4,0z" fill="#111"/>
<ellipse cx="342.5" cy="267.3" rx="2.2" ry="1.1" fill="#3a3a3a"/>
<path d="M316.0,323.0 H328.2 a4.1,6.4 0 0 1 0,12.8 H316.0 a4.1,6.4 0 0 1 0,-12.8z" fill="#f1f1f1" stroke="#c4c4c4" stroke-width="0.6"/>
<path d="M316.0,323.4 a4.1,6.0 0 0 0 0,12.0 h3 a4.1,6.0 0 0 1 0,-12.0z" fill="#dadada"/>
<line x1="320.5" y1="323.5" x2="320.5" y2="335.3" stroke="#c9c9c9" stroke-width="1.1"/>
<ellipse cx="328.2" cy="329.4" rx="4.1" ry="6.4" fill="#d9d9d9" stroke="#a8a8a8" stroke-width="0.6"/>
<ellipse cx="328.2" cy="329.4" rx="2.2" ry="3.6" fill="#bcbcbc"/>
<polygon points="312.0,366.3 326.4,370.6 326.4,382.7 312.0,378.5" fill="#cdbd93" stroke="#cdbd93" stroke-width="0.5" stroke-linejoin="round" />
<polygon points="326.4,370.6 373.0,357.0 373.0,369.1 326.4,382.7" fill="#b9a97f" stroke="#b9a97f" stroke-width="0.5" stroke-linejoin="round" />
<polygon points="312.0,366.3 326.4,370.6 373.0,357.0 358.6,352.7" fill="#ddcfa8" stroke="#ddcfa8" stroke-width="0.5" stroke-linejoin="round" />
<path d="M355.6,354.9 v-1.9 a2.8,1.7 0 0 1 5.5,0 v1.9 a2.8,1.7 0 0 1 -5.5,0z" fill="#2a261c"/>
<ellipse cx="358.3" cy="353.1" rx="2.8" ry="1.7" fill="#f2e8cc"/>
<path d="M362.8,357.0 v-1.9 a2.8,1.7 0 0 1 5.5,0 v1.9 a2.8,1.7 0 0 1 -5.5,0z" fill="#2a261c"/>
<ellipse cx="365.5" cy="355.2" rx="2.8" ry="1.7" fill="#f2e8cc"/>
<path d="M347.8,357.2 v-1.9 a2.8,1.7 0 0 1 5.5,0 v1.9 a2.8,1.7 0 0 1 -5.5,0z" fill="#2a261c"/>
<ellipse cx="350.6" cy="355.3" rx="2.8" ry="1.7" fill="#f2e8cc"/>
<path d="M355.0,359.3 v-1.9 a2.8,1.7 0 0 1 5.5,0 v1.9 a2.8,1.7 0 0 1 -5.5,0z" fill="#2a261c"/>
<ellipse cx="357.8" cy="357.4" rx="2.8" ry="1.7" fill="#f2e8cc"/>
<path d="M340.0,359.5 v-1.9 a2.8,1.7 0 0 1 5.5,0 v1.9 a2.8,1.7 0 0 1 -5.5,0z" fill="#2a261c"/>
<ellipse cx="342.8" cy="357.6" rx="2.8" ry="1.7" fill="#f2e8cc"/>
<path d="M347.2,361.6 v-1.9 a2.8,1.7 0 0 1 5.5,0 v1.9 a2.8,1.7 0 0 1 -5.5,0z" fill="#2a261c"/>
<ellipse cx="350.0" cy="359.7" rx="2.8" ry="1.7" fill="#f2e8cc"/>
<path d="M332.3,361.7 v-1.9 a2.8,1.7 0 0 1 5.5,0 v1.9 a2.8,1.7 0 0 1 -5.5,0z" fill="#2a261c"/>
<ellipse cx="335.0" cy="359.9" rx="2.8" ry="1.7" fill="#f2e8cc"/>
<path d="M339.5,363.8 v-1.9 a2.8,1.7 0 0 1 5.5,0 v1.9 a2.8,1.7 0 0 1 -5.5,0z" fill="#2a261c"/>
<ellipse cx="342.2" cy="362.0" rx="2.8" ry="1.7" fill="#f2e8cc"/>
<path d="M324.5,364.0 v-1.9 a2.8,1.7 0 0 1 5.5,0 v1.9 a2.8,1.7 0 0 1 -5.5,0z" fill="#2a261c"/>
<ellipse cx="327.2" cy="362.1" rx="2.8" ry="1.7" fill="#f2e8cc"/>
<path d="M331.7,366.1 v-1.9 a2.8,1.7 0 0 1 5.5,0 v1.9 a2.8,1.7 0 0 1 -5.5,0z" fill="#2a261c"/>
<ellipse cx="334.4" cy="364.2" rx="2.8" ry="1.7" fill="#f2e8cc"/>
<path d="M316.7,366.3 v-1.9 a2.8,1.7 0 0 1 5.5,0 v1.9 a2.8,1.7 0 0 1 -5.5,0z" fill="#2a261c"/>
<ellipse cx="319.5" cy="364.4" rx="2.8" ry="1.7" fill="#f2e8cc"/>
<path d="M323.9,368.4 v-1.9 a2.8,1.7 0 0 1 5.5,0 v1.9 a2.8,1.7 0 0 1 -5.5,0z" fill="#2a261c"/>
<ellipse cx="326.7" cy="366.5" rx="2.8" ry="1.7" fill="#f2e8cc"/>
<polygon points="312.0,409.4 326.4,413.8 326.4,426.0 312.0,421.6" fill="#cdbd93" stroke="#cdbd93" stroke-width="0.5" stroke-linejoin="round" />
<polygon points="326.4,413.8 357.6,404.3 357.6,416.5 326.4,426.0" fill="#b9a97f" stroke="#b9a97f" stroke-width="0.5" stroke-linejoin="round" />
<polygon points="312.0,409.4 326.4,413.8 357.6,404.3 343.2,399.9" fill="#ddcfa8" stroke="#ddcfa8" stroke-width="0.5" stroke-linejoin="round" />
<path d="M340.1,402.2 v-1.9 a2.8,1.7 0 0 1 5.5,0 v1.9 a2.8,1.7 0 0 1 -5.5,0z" fill="#2a261c"/>
<ellipse cx="342.9" cy="400.3" rx="2.8" ry="1.7" fill="#f2e8cc"/>
<path d="M347.3,404.4 v-1.9 a2.8,1.7 0 0 1 5.5,0 v1.9 a2.8,1.7 0 0 1 -5.5,0z" fill="#2a261c"/>
<ellipse cx="350.1" cy="402.5" rx="2.8" ry="1.7" fill="#f2e8cc"/>
<path d="M332.3,404.6 v-1.9 a2.8,1.7 0 0 1 5.5,0 v1.9 a2.8,1.7 0 0 1 -5.5,0z" fill="#2a261c"/>
<ellipse cx="335.1" cy="402.7" rx="2.8" ry="1.7" fill="#f2e8cc"/>
<path d="M339.5,406.8 v-1.9 a2.8,1.7 0 0 1 5.5,0 v1.9 a2.8,1.7 0 0 1 -5.5,0z" fill="#2a261c"/>
<ellipse cx="342.3" cy="404.9" rx="2.8" ry="1.7" fill="#f2e8cc"/>
<path d="M324.5,407.0 v-1.9 a2.8,1.7 0 0 1 5.5,0 v1.9 a2.8,1.7 0 0 1 -5.5,0z" fill="#2a261c"/>
<ellipse cx="327.3" cy="405.1" rx="2.8" ry="1.7" fill="#f2e8cc"/>
<path d="M331.7,409.2 v-1.9 a2.8,1.7 0 0 1 5.5,0 v1.9 a2.8,1.7 0 0 1 -5.5,0z" fill="#2a261c"/>
<ellipse cx="334.5" cy="407.3" rx="2.8" ry="1.7" fill="#f2e8cc"/>
<path d="M316.7,409.3 v-1.9 a2.8,1.7 0 0 1 5.5,0 v1.9 a2.8,1.7 0 0 1 -5.5,0z" fill="#2a261c"/>
<ellipse cx="319.5" cy="407.5" rx="2.8" ry="1.7" fill="#f2e8cc"/>
<path d="M323.9,411.5 v-1.9 a2.8,1.7 0 0 1 5.5,0 v1.9 a2.8,1.7 0 0 1 -5.5,0z" fill="#2a261c"/>
<ellipse cx="326.7" cy="409.7" rx="2.8" ry="1.7" fill="#f2e8cc"/>
<polygon points="312.0,454.8 328.6,460.2 328.6,463.8 312.0,458.4" fill="#1a1d22" stroke="#1a1d22" stroke-width="0.5" stroke-linejoin="round" />
<polygon points="328.6,460.2 418.2,430.9 418.2,434.5 328.6,463.8" fill="#131519" stroke="#131519" stroke-width="0.5" stroke-linejoin="round" />
<polygon points="312.0,454.8 328.6,460.2 418.2,430.9 401.6,425.4" fill="#25292f" stroke="#25292f" stroke-width="0.5" stroke-linejoin="round" />
<path d="M398.1,428.3 v-2.2 a3.2,1.9 0 0 1 6.4,0 v2.2 a3.2,1.9 0 0 1 -6.4,0z" fill="#0d0e10"/>
<ellipse cx="401.3" cy="426.1" rx="3.2" ry="1.9" fill="#2c3036"/>
<path d="M406.4,431.0 v-2.2 a3.2,1.9 0 0 1 6.4,0 v2.2 a3.2,1.9 0 0 1 -6.4,0z" fill="#0d0e10"/>
<ellipse cx="409.6" cy="428.8" rx="3.2" ry="1.9" fill="#2c3036"/>
<path d="M389.1,431.2 v-2.2 a3.2,1.9 0 0 1 6.4,0 v2.2 a3.2,1.9 0 0 1 -6.4,0z" fill="#0d0e10"/>
<ellipse cx="392.3" cy="429.0" rx="3.2" ry="1.9" fill="#2c3036"/>
<path d="M397.4,433.9 v-2.2 a3.2,1.9 0 0 1 6.4,0 v2.2 a3.2,1.9 0 0 1 -6.4,0z" fill="#0d0e10"/>
<ellipse cx="400.6" cy="431.7" rx="3.2" ry="1.9" fill="#2c3036"/>
<path d="M380.2,434.1 v-2.2 a3.2,1.9 0 0 1 6.4,0 v2.2 a3.2,1.9 0 0 1 -6.4,0z" fill="#0d0e10"/>
<ellipse cx="383.4" cy="432.0" rx="3.2" ry="1.9" fill="#2c3036"/>
<path d="M388.4,436.9 v-2.2 a3.2,1.9 0 0 1 6.4,0 v2.2 a3.2,1.9 0 0 1 -6.4,0z" fill="#0d0e10"/>
<ellipse cx="391.7" cy="434.7" rx="3.2" ry="1.9" fill="#2c3036"/>
<path d="M371.2,437.1 v-2.2 a3.2,1.9 0 0 1 6.4,0 v2.2 a3.2,1.9 0 0 1 -6.4,0z" fill="#0d0e10"/>
<ellipse cx="374.4" cy="434.9" rx="3.2" ry="1.9" fill="#2c3036"/>
<path d="M379.5,439.8 v-2.2 a3.2,1.9 0 0 1 6.4,0 v2.2 a3.2,1.9 0 0 1 -6.4,0z" fill="#0d0e10"/>
<ellipse cx="382.7" cy="437.6" rx="3.2" ry="1.9" fill="#2c3036"/>
<path d="M362.2,440.0 v-2.2 a3.2,1.9 0 0 1 6.4,0 v2.2 a3.2,1.9 0 0 1 -6.4,0z" fill="#0d0e10"/>
<ellipse cx="365.4" cy="437.8" rx="3.2" ry="1.9" fill="#2c3036"/>
<path d="M370.5,442.7 v-2.2 a3.2,1.9 0 0 1 6.4,0 v2.2 a3.2,1.9 0 0 1 -6.4,0z" fill="#0d0e10"/>
<ellipse cx="373.7" cy="440.5" rx="3.2" ry="1.9" fill="#2c3036"/>
<path d="M353.3,442.9 v-2.2 a3.2,1.9 0 0 1 6.4,0 v2.2 a3.2,1.9 0 0 1 -6.4,0z" fill="#0d0e10"/>
<ellipse cx="356.5" cy="440.8" rx="3.2" ry="1.9" fill="#2c3036"/>
<path d="M361.6,445.7 v-2.2 a3.2,1.9 0 0 1 6.4,0 v2.2 a3.2,1.9 0 0 1 -6.4,0z" fill="#0d0e10"/>
<ellipse cx="364.8" cy="443.5" rx="3.2" ry="1.9" fill="#2c3036"/>
<path d="M344.3,445.9 v-2.2 a3.2,1.9 0 0 1 6.4,0 v2.2 a3.2,1.9 0 0 1 -6.4,0z" fill="#0d0e10"/>
<ellipse cx="347.5" cy="443.7" rx="3.2" ry="1.9" fill="#2c3036"/>
<path d="M352.6,448.6 v-2.2 a3.2,1.9 0 0 1 6.4,0 v2.2 a3.2,1.9 0 0 1 -6.4,0z" fill="#0d0e10"/>
<ellipse cx="355.8" cy="446.4" rx="3.2" ry="1.9" fill="#2c3036"/>
<path d="M335.3,448.8 v-2.2 a3.2,1.9 0 0 1 6.4,0 v2.2 a3.2,1.9 0 0 1 -6.4,0z" fill="#0d0e10"/>
<ellipse cx="338.6" cy="446.6" rx="3.2" ry="1.9" fill="#2c3036"/>
<path d="M343.6,451.5 v-2.2 a3.2,1.9 0 0 1 6.4,0 v2.2 a3.2,1.9 0 0 1 -6.4,0z" fill="#0d0e10"/>
<ellipse cx="346.8" cy="449.3" rx="3.2" ry="1.9" fill="#2c3036"/>
<path d="M326.4,451.7 v-2.2 a3.2,1.9 0 0 1 6.4,0 v2.2 a3.2,1.9 0 0 1 -6.4,0z" fill="#0d0e10"/>
<ellipse cx="329.6" cy="449.6" rx="3.2" ry="1.9" fill="#2c3036"/>
<path d="M334.7,454.5 v-2.2 a3.2,1.9 0 0 1 6.4,0 v2.2 a3.2,1.9 0 0 1 -6.4,0z" fill="#0d0e10"/>
<ellipse cx="337.9" cy="452.3" rx="3.2" ry="1.9" fill="#2c3036"/>
<path d="M317.4,454.7 v-2.2 a3.2,1.9 0 0 1 6.4,0 v2.2 a3.2,1.9 0 0 1 -6.4,0z" fill="#0d0e10"/>
<ellipse cx="320.6" cy="452.5" rx="3.2" ry="1.9" fill="#2c3036"/>
<path d="M325.7,457.4 v-2.2 a3.2,1.9 0 0 1 6.4,0 v2.2 a3.2,1.9 0 0 1 -6.4,0z" fill="#0d0e10"/>
<ellipse cx="328.9" cy="455.2" rx="3.2" ry="1.9" fill="#2c3036"/>
<polygon points="386.7,288.8 401.1,293.6 401.1,296.7 386.7,291.9" fill="#56554f" stroke="#56554f" stroke-width="0.5" stroke-linejoin="round" />
<polygon points="401.1,293.6 463.2,272.8 463.2,275.9 401.1,296.7" fill="#45443f" stroke="#45443f" stroke-width="0.5" stroke-linejoin="round" />
<polygon points="386.7,288.8 401.1,293.6 463.2,272.8 448.8,267.9" fill="#797871" stroke="#797871" stroke-width="0.5" stroke-linejoin="round" />
<path d="M445.8,270.5 v-1.9 a2.8,1.7 0 0 1 5.6,0 v1.9 a2.8,1.7 0 0 1 -5.6,0z" fill="#121211"/>
<ellipse cx="448.5" cy="268.6" rx="2.8" ry="1.7" fill="#6f6e68"/>
<path d="M452.9,272.9 v-1.9 a2.8,1.7 0 0 1 5.6,0 v1.9 a2.8,1.7 0 0 1 -5.6,0z" fill="#121211"/>
<ellipse cx="455.7" cy="271.0" rx="2.8" ry="1.7" fill="#6f6e68"/>
<path d="M438.0,273.1 v-1.9 a2.8,1.7 0 0 1 5.6,0 v1.9 a2.8,1.7 0 0 1 -5.6,0z" fill="#121211"/>
<ellipse cx="440.8" cy="271.2" rx="2.8" ry="1.7" fill="#6f6e68"/>
<path d="M445.2,275.5 v-1.9 a2.8,1.7 0 0 1 5.6,0 v1.9 a2.8,1.7 0 0 1 -5.6,0z" fill="#121211"/>
<ellipse cx="448.0" cy="273.6" rx="2.8" ry="1.7" fill="#6f6e68"/>
<path d="M430.2,275.7 v-1.9 a2.8,1.7 0 0 1 5.6,0 v1.9 a2.8,1.7 0 0 1 -5.6,0z" fill="#121211"/>
<ellipse cx="433.0" cy="273.8" rx="2.8" ry="1.7" fill="#6f6e68"/>
<path d="M437.4,278.1 v-1.9 a2.8,1.7 0 0 1 5.6,0 v1.9 a2.8,1.7 0 0 1 -5.6,0z" fill="#121211"/>
<ellipse cx="440.2" cy="276.2" rx="2.8" ry="1.7" fill="#6f6e68"/>
<path d="M422.5,278.3 v-1.9 a2.8,1.7 0 0 1 5.6,0 v1.9 a2.8,1.7 0 0 1 -5.6,0z" fill="#121211"/>
<ellipse cx="425.2" cy="276.4" rx="2.8" ry="1.7" fill="#6f6e68"/>
<path d="M429.6,280.7 v-1.9 a2.8,1.7 0 0 1 5.6,0 v1.9 a2.8,1.7 0 0 1 -5.6,0z" fill="#121211"/>
<ellipse cx="432.4" cy="278.8" rx="2.8" ry="1.7" fill="#6f6e68"/>
<path d="M414.7,280.9 v-1.9 a2.8,1.7 0 0 1 5.6,0 v1.9 a2.8,1.7 0 0 1 -5.6,0z" fill="#121211"/>
<ellipse cx="417.5" cy="279.0" rx="2.8" ry="1.7" fill="#6f6e68"/>
<path d="M421.9,283.3 v-1.9 a2.8,1.7 0 0 1 5.6,0 v1.9 a2.8,1.7 0 0 1 -5.6,0z" fill="#121211"/>
<ellipse cx="424.7" cy="281.4" rx="2.8" ry="1.7" fill="#6f6e68"/>
<path d="M406.9,283.5 v-1.9 a2.8,1.7 0 0 1 5.6,0 v1.9 a2.8,1.7 0 0 1 -5.6,0z" fill="#121211"/>
<ellipse cx="409.7" cy="281.6" rx="2.8" ry="1.7" fill="#6f6e68"/>
<path d="M414.1,285.9 v-1.9 a2.8,1.7 0 0 1 5.6,0 v1.9 a2.8,1.7 0 0 1 -5.6,0z" fill="#121211"/>
<ellipse cx="416.9" cy="284.0" rx="2.8" ry="1.7" fill="#6f6e68"/>
<path d="M399.2,286.1 v-1.9 a2.8,1.7 0 0 1 5.6,0 v1.9 a2.8,1.7 0 0 1 -5.6,0z" fill="#121211"/>
<ellipse cx="401.9" cy="284.2" rx="2.8" ry="1.7" fill="#6f6e68"/>
<path d="M406.3,288.5 v-1.9 a2.8,1.7 0 0 1 5.6,0 v1.9 a2.8,1.7 0 0 1 -5.6,0z" fill="#121211"/>
<ellipse cx="409.1" cy="286.6" rx="2.8" ry="1.7" fill="#6f6e68"/>
<path d="M391.4,288.7 v-1.9 a2.8,1.7 0 0 1 5.6,0 v1.9 a2.8,1.7 0 0 1 -5.6,0z" fill="#121211"/>
<ellipse cx="394.2" cy="286.8" rx="2.8" ry="1.7" fill="#6f6e68"/>
<path d="M398.6,291.1 v-1.9 a2.8,1.7 0 0 1 5.6,0 v1.9 a2.8,1.7 0 0 1 -5.6,0z" fill="#121211"/>
<ellipse cx="401.4" cy="289.2" rx="2.8" ry="1.7" fill="#6f6e68"/>
<polygon points="386.7,325.1 415.9,335.1 415.9,338.3 386.7,328.3" fill="#56554f" stroke="#56554f" stroke-width="0.5" stroke-linejoin="round" />
<polygon points="415.9,335.1 463.2,318.9 463.2,322.1 415.9,338.3" fill="#45443f" stroke="#45443f" stroke-width="0.5" stroke-linejoin="round" />
<polygon points="386.7,325.1 415.9,335.1 463.2,318.9 434.0,308.9" fill="#797871" stroke="#797871" stroke-width="0.5" stroke-linejoin="round" />
<path d="M430.9,311.5 v-1.9 a2.8,1.7 0 0 1 5.7,0 v1.9 a2.8,1.7 0 0 1 -5.7,0z" fill="#121211"/>
<ellipse cx="433.7" cy="309.6" rx="2.8" ry="1.7" fill="#6f6e68"/>
<path d="M438.2,314.0 v-1.9 a2.8,1.7 0 0 1 5.7,0 v1.9 a2.8,1.7 0 0 1 -5.7,0z" fill="#121211"/>
<ellipse cx="441.0" cy="312.1" rx="2.8" ry="1.7" fill="#6f6e68"/>
<path d="M445.5,316.5 v-1.9 a2.8,1.7 0 0 1 5.7,0 v1.9 a2.8,1.7 0 0 1 -5.7,0z" fill="#121211"/>
<ellipse cx="448.3" cy="314.6" rx="2.8" ry="1.7" fill="#6f6e68"/>
<path d="M452.8,319.0 v-1.9 a2.8,1.7 0 0 1 5.7,0 v1.9 a2.8,1.7 0 0 1 -5.7,0z" fill="#121211"/>
<ellipse cx="455.6" cy="317.1" rx="2.8" ry="1.7" fill="#6f6e68"/>
<path d="M423.0,314.2 v-1.9 a2.8,1.7 0 0 1 5.7,0 v1.9 a2.8,1.7 0 0 1 -5.7,0z" fill="#121211"/>
<ellipse cx="425.8" cy="312.3" rx="2.8" ry="1.7" fill="#6f6e68"/>
<path d="M430.3,316.7 v-1.9 a2.8,1.7 0 0 1 5.7,0 v1.9 a2.8,1.7 0 0 1 -5.7,0z" fill="#121211"/>
<ellipse cx="433.1" cy="314.8" rx="2.8" ry="1.7" fill="#6f6e68"/>
<path d="M437.6,319.2 v-1.9 a2.8,1.7 0 0 1 5.7,0 v1.9 a2.8,1.7 0 0 1 -5.7,0z" fill="#121211"/>
<ellipse cx="440.4" cy="317.3" rx="2.8" ry="1.7" fill="#6f6e68"/>
<path d="M444.9,321.7 v-1.9 a2.8,1.7 0 0 1 5.7,0 v1.9 a2.8,1.7 0 0 1 -5.7,0z" fill="#121211"/>
<ellipse cx="447.7" cy="319.8" rx="2.8" ry="1.7" fill="#6f6e68"/>
<path d="M415.1,316.9 v-1.9 a2.8,1.7 0 0 1 5.7,0 v1.9 a2.8,1.7 0 0 1 -5.7,0z" fill="#121211"/>
<ellipse cx="418.0" cy="315.0" rx="2.8" ry="1.7" fill="#6f6e68"/>
<path d="M422.4,319.4 v-1.9 a2.8,1.7 0 0 1 5.7,0 v1.9 a2.8,1.7 0 0 1 -5.7,0z" fill="#121211"/>
<ellipse cx="425.2" cy="317.5" rx="2.8" ry="1.7" fill="#6f6e68"/>
<path d="M429.7,321.9 v-1.9 a2.8,1.7 0 0 1 5.7,0 v1.9 a2.8,1.7 0 0 1 -5.7,0z" fill="#121211"/>
<ellipse cx="432.5" cy="320.0" rx="2.8" ry="1.7" fill="#6f6e68"/>
<path d="M437.0,324.4 v-1.9 a2.8,1.7 0 0 1 5.7,0 v1.9 a2.8,1.7 0 0 1 -5.7,0z" fill="#121211"/>
<ellipse cx="439.8" cy="322.5" rx="2.8" ry="1.7" fill="#6f6e68"/>
<path d="M407.2,319.6 v-1.9 a2.8,1.7 0 0 1 5.7,0 v1.9 a2.8,1.7 0 0 1 -5.7,0z" fill="#121211"/>
<ellipse cx="410.1" cy="317.7" rx="2.8" ry="1.7" fill="#6f6e68"/>
<path d="M414.5,322.1 v-1.9 a2.8,1.7 0 0 1 5.7,0 v1.9 a2.8,1.7 0 0 1 -5.7,0z" fill="#121211"/>
<ellipse cx="417.4" cy="320.2" rx="2.8" ry="1.7" fill="#6f6e68"/>
<path d="M421.8,324.6 v-1.9 a2.8,1.7 0 0 1 5.7,0 v1.9 a2.8,1.7 0 0 1 -5.7,0z" fill="#121211"/>
<ellipse cx="424.7" cy="322.7" rx="2.8" ry="1.7" fill="#6f6e68"/>
<path d="M429.1,327.1 v-1.9 a2.8,1.7 0 0 1 5.7,0 v1.9 a2.8,1.7 0 0 1 -5.7,0z" fill="#121211"/>
<ellipse cx="431.9" cy="325.2" rx="2.8" ry="1.7" fill="#6f6e68"/>
<path d="M399.3,322.3 v-1.9 a2.8,1.7 0 0 1 5.7,0 v1.9 a2.8,1.7 0 0 1 -5.7,0z" fill="#121211"/>
<ellipse cx="402.2" cy="320.4" rx="2.8" ry="1.7" fill="#6f6e68"/>
<path d="M406.6,324.8 v-1.9 a2.8,1.7 0 0 1 5.7,0 v1.9 a2.8,1.7 0 0 1 -5.7,0z" fill="#121211"/>
<ellipse cx="409.5" cy="322.9" rx="2.8" ry="1.7" fill="#6f6e68"/>
<path d="M413.9,327.3 v-1.9 a2.8,1.7 0 0 1 5.7,0 v1.9 a2.8,1.7 0 0 1 -5.7,0z" fill="#121211"/>
<ellipse cx="416.8" cy="325.4" rx="2.8" ry="1.7" fill="#6f6e68"/>
<path d="M421.2,329.8 v-1.9 a2.8,1.7 0 0 1 5.7,0 v1.9 a2.8,1.7 0 0 1 -5.7,0z" fill="#121211"/>
<ellipse cx="424.1" cy="327.9" rx="2.8" ry="1.7" fill="#6f6e68"/>
<path d="M391.5,325.0 v-1.9 a2.8,1.7 0 0 1 5.7,0 v1.9 a2.8,1.7 0 0 1 -5.7,0z" fill="#121211"/>
<ellipse cx="394.3" cy="323.1" rx="2.8" ry="1.7" fill="#6f6e68"/>
<path d="M398.8,327.5 v-1.9 a2.8,1.7 0 0 1 5.7,0 v1.9 a2.8,1.7 0 0 1 -5.7,0z" fill="#121211"/>
<ellipse cx="401.6" cy="325.6" rx="2.8" ry="1.7" fill="#6f6e68"/>
<path d="M406.0,330.0 v-1.9 a2.8,1.7 0 0 1 5.7,0 v1.9 a2.8,1.7 0 0 1 -5.7,0z" fill="#121211"/>
<ellipse cx="408.9" cy="328.1" rx="2.8" ry="1.7" fill="#6f6e68"/>
<path d="M413.3,332.5 v-1.9 a2.8,1.7 0 0 1 5.7,0 v1.9 a2.8,1.7 0 0 1 -5.7,0z" fill="#121211"/>
<ellipse cx="416.2" cy="330.6" rx="2.8" ry="1.7" fill="#6f6e68"/>
<polygon points="387.0,384.3 401.5,389.2 401.5,392.3 387.0,387.5" fill="#56554f" stroke="#56554f" stroke-width="0.5" stroke-linejoin="round" />
<polygon points="401.5,389.2 433.0,378.8 433.0,381.9 401.5,392.3" fill="#45443f" stroke="#45443f" stroke-width="0.5" stroke-linejoin="round" />
<polygon points="387.0,384.3 401.5,389.2 433.0,378.8 418.5,374.0" fill="#797871" stroke="#797871" stroke-width="0.5" stroke-linejoin="round" />
<path d="M415.3,376.5 v-1.9 a2.8,1.7 0 0 1 5.6,0 v1.9 a2.8,1.7 0 0 1 -5.6,0z" fill="#121211"/>
<ellipse cx="418.2" cy="374.6" rx="2.8" ry="1.7" fill="#6f6e68"/>
<path d="M422.6,378.9 v-1.9 a2.8,1.7 0 0 1 5.6,0 v1.9 a2.8,1.7 0 0 1 -5.6,0z" fill="#121211"/>
<ellipse cx="425.4" cy="377.0" rx="2.8" ry="1.7" fill="#6f6e68"/>
<path d="M407.5,379.1 v-1.9 a2.8,1.7 0 0 1 5.6,0 v1.9 a2.8,1.7 0 0 1 -5.6,0z" fill="#121211"/>
<ellipse cx="410.3" cy="377.1" rx="2.8" ry="1.7" fill="#6f6e68"/>
<path d="M414.8,381.5 v-1.9 a2.8,1.7 0 0 1 5.6,0 v1.9 a2.8,1.7 0 0 1 -5.6,0z" fill="#121211"/>
<ellipse cx="417.6" cy="379.6" rx="2.8" ry="1.7" fill="#6f6e68"/>
<path d="M399.6,381.7 v-1.9 a2.8,1.7 0 0 1 5.6,0 v1.9 a2.8,1.7 0 0 1 -5.6,0z" fill="#121211"/>
<ellipse cx="402.4" cy="379.7" rx="2.8" ry="1.7" fill="#6f6e68"/>
<path d="M406.9,384.1 v-1.9 a2.8,1.7 0 0 1 5.6,0 v1.9 a2.8,1.7 0 0 1 -5.6,0z" fill="#121211"/>
<ellipse cx="409.7" cy="382.1" rx="2.8" ry="1.7" fill="#6f6e68"/>
<path d="M391.8,384.2 v-1.9 a2.8,1.7 0 0 1 5.6,0 v1.9 a2.8,1.7 0 0 1 -5.6,0z" fill="#121211"/>
<ellipse cx="394.6" cy="382.3" rx="2.8" ry="1.7" fill="#6f6e68"/>
<path d="M399.0,386.7 v-1.9 a2.8,1.7 0 0 1 5.6,0 v1.9 a2.8,1.7 0 0 1 -5.6,0z" fill="#121211"/>
<ellipse cx="401.8" cy="384.7" rx="2.8" ry="1.7" fill="#6f6e68"/>
<polygon points="67.5,533.5 111.4,547.8 111.4,552.5 67.5,538.2" fill="#56554f" stroke="#56554f" stroke-width="0.5" stroke-linejoin="round" />
<polygon points="111.4,547.8 182.5,524.7 182.5,529.5 111.4,552.5" fill="#45443f" stroke="#45443f" stroke-width="0.5" stroke-linejoin="round" />
<polygon points="67.5,533.5 111.4,547.8 182.5,524.7 138.6,510.5" fill="#797871" stroke="#797871" stroke-width="0.5" stroke-linejoin="round" />
<path d="M134.0,514.2 v-2.9 a4.2,2.5 0 0 1 8.5,0 v2.9 a4.2,2.5 0 0 1 -8.5,0z" fill="#121211"/>
<ellipse cx="138.2" cy="511.3" rx="4.2" ry="2.5" fill="#6f6e68"/>
<path d="M144.9,517.7 v-2.9 a4.2,2.5 0 0 1 8.5,0 v2.9 a4.2,2.5 0 0 1 -8.5,0z" fill="#121211"/>
<ellipse cx="149.2" cy="514.8" rx="4.2" ry="2.5" fill="#6f6e68"/>
<path d="M155.9,521.3 v-2.9 a4.2,2.5 0 0 1 8.5,0 v2.9 a4.2,2.5 0 0 1 -8.5,0z" fill="#121211"/>
<ellipse cx="160.1" cy="518.4" rx="4.2" ry="2.5" fill="#6f6e68"/>
<path d="M166.9,524.9 v-2.9 a4.2,2.5 0 0 1 8.5,0 v2.9 a4.2,2.5 0 0 1 -8.5,0z" fill="#121211"/>
<ellipse cx="171.1" cy="522.0" rx="4.2" ry="2.5" fill="#6f6e68"/>
<path d="M122.1,518.0 v-2.9 a4.2,2.5 0 0 1 8.5,0 v2.9 a4.2,2.5 0 0 1 -8.5,0z" fill="#121211"/>
<ellipse cx="126.3" cy="515.1" rx="4.2" ry="2.5" fill="#6f6e68"/>
<path d="M133.1,521.6 v-2.9 a4.2,2.5 0 0 1 8.5,0 v2.9 a4.2,2.5 0 0 1 -8.5,0z" fill="#121211"/>
<ellipse cx="137.3" cy="518.7" rx="4.2" ry="2.5" fill="#6f6e68"/>
<path d="M144.0,525.1 v-2.9 a4.2,2.5 0 0 1 8.5,0 v2.9 a4.2,2.5 0 0 1 -8.5,0z" fill="#121211"/>
<ellipse cx="148.3" cy="522.3" rx="4.2" ry="2.5" fill="#6f6e68"/>
<path d="M155.0,528.7 v-2.9 a4.2,2.5 0 0 1 8.5,0 v2.9 a4.2,2.5 0 0 1 -8.5,0z" fill="#121211"/>
<ellipse cx="159.2" cy="525.8" rx="4.2" ry="2.5" fill="#6f6e68"/>
<path d="M110.2,521.8 v-2.9 a4.2,2.5 0 0 1 8.5,0 v2.9 a4.2,2.5 0 0 1 -8.5,0z" fill="#121211"/>
<ellipse cx="114.5" cy="519.0" rx="4.2" ry="2.5" fill="#6f6e68"/>
<path d="M121.2,525.4 v-2.9 a4.2,2.5 0 0 1 8.5,0 v2.9 a4.2,2.5 0 0 1 -8.5,0z" fill="#121211"/>
<ellipse cx="125.4" cy="522.5" rx="4.2" ry="2.5" fill="#6f6e68"/>
<path d="M132.2,529.0 v-2.9 a4.2,2.5 0 0 1 8.5,0 v2.9 a4.2,2.5 0 0 1 -8.5,0z" fill="#121211"/>
<ellipse cx="136.4" cy="526.1" rx="4.2" ry="2.5" fill="#6f6e68"/>
<path d="M143.1,532.5 v-2.9 a4.2,2.5 0 0 1 8.5,0 v2.9 a4.2,2.5 0 0 1 -8.5,0z" fill="#121211"/>
<ellipse cx="147.4" cy="529.7" rx="4.2" ry="2.5" fill="#6f6e68"/>
<path d="M98.4,525.7 v-2.9 a4.2,2.5 0 0 1 8.5,0 v2.9 a4.2,2.5 0 0 1 -8.5,0z" fill="#121211"/>
<ellipse cx="102.6" cy="522.8" rx="4.2" ry="2.5" fill="#6f6e68"/>
<path d="M109.4,529.2 v-2.9 a4.2,2.5 0 0 1 8.5,0 v2.9 a4.2,2.5 0 0 1 -8.5,0z" fill="#121211"/>
<ellipse cx="113.6" cy="526.4" rx="4.2" ry="2.5" fill="#6f6e68"/>
<path d="M120.3,532.8 v-2.9 a4.2,2.5 0 0 1 8.5,0 v2.9 a4.2,2.5 0 0 1 -8.5,0z" fill="#121211"/>
<ellipse cx="124.6" cy="529.9" rx="4.2" ry="2.5" fill="#6f6e68"/>
<path d="M131.3,536.4 v-2.9 a4.2,2.5 0 0 1 8.5,0 v2.9 a4.2,2.5 0 0 1 -8.5,0z" fill="#121211"/>
<ellipse cx="135.5" cy="533.5" rx="4.2" ry="2.5" fill="#6f6e68"/>
<path d="M86.5,529.5 v-2.9 a4.2,2.5 0 0 1 8.5,0 v2.9 a4.2,2.5 0 0 1 -8.5,0z" fill="#121211"/>
<ellipse cx="90.8" cy="526.6" rx="4.2" ry="2.5" fill="#6f6e68"/>
<path d="M97.5,533.1 v-2.9 a4.2,2.5 0 0 1 8.5,0 v2.9 a4.2,2.5 0 0 1 -8.5,0z" fill="#121211"/>
<ellipse cx="101.7" cy="530.2" rx="4.2" ry="2.5" fill="#6f6e68"/>
<path d="M108.5,536.7 v-2.9 a4.2,2.5 0 0 1 8.5,0 v2.9 a4.2,2.5 0 0 1 -8.5,0z" fill="#121211"/>
<ellipse cx="112.7" cy="533.8" rx="4.2" ry="2.5" fill="#6f6e68"/>
<path d="M119.4,540.2 v-2.9 a4.2,2.5 0 0 1 8.5,0 v2.9 a4.2,2.5 0 0 1 -8.5,0z" fill="#121211"/>
<ellipse cx="123.7" cy="537.3" rx="4.2" ry="2.5" fill="#6f6e68"/>
<path d="M74.7,533.4 v-2.9 a4.2,2.5 0 0 1 8.5,0 v2.9 a4.2,2.5 0 0 1 -8.5,0z" fill="#121211"/>
<ellipse cx="78.9" cy="530.5" rx="4.2" ry="2.5" fill="#6f6e68"/>
<path d="M85.6,536.9 v-2.9 a4.2,2.5 0 0 1 8.5,0 v2.9 a4.2,2.5 0 0 1 -8.5,0z" fill="#121211"/>
<ellipse cx="89.9" cy="534.0" rx="4.2" ry="2.5" fill="#6f6e68"/>
<path d="M96.6,540.5 v-2.9 a4.2,2.5 0 0 1 8.5,0 v2.9 a4.2,2.5 0 0 1 -8.5,0z" fill="#121211"/>
<ellipse cx="100.8" cy="537.6" rx="4.2" ry="2.5" fill="#6f6e68"/>
<path d="M107.6,544.1 v-2.9 a4.2,2.5 0 0 1 8.5,0 v2.9 a4.2,2.5 0 0 1 -8.5,0z" fill="#121211"/>
<ellipse cx="111.8" cy="541.2" rx="4.2" ry="2.5" fill="#6f6e68"/>
<text x="106" y="574" font-size="12.6" text-anchor="start" font-weight="bold" fill="#1a1a1a" stroke="#1a1a1a" stroke-width="0.32" >2x</text>
<polygon points="221.1,531.8 394.4,590.6 394.4,594.8 221.1,536.0" fill="#4b4a46" stroke="#4b4a46" stroke-width="0.5" stroke-linejoin="round" />
<polygon points="394.4,590.6 425.6,552.2 425.6,556.4 394.4,594.8" fill="#3d3c39" stroke="#3d3c39" stroke-width="0.5" stroke-linejoin="round" />
<polygon points="221.1,531.8 394.4,590.6 425.6,552.2 252.3,493.4" fill="#878680" stroke="#878680" stroke-width="0.5" stroke-linejoin="round" />
<path d="M250.4,500.7 v-3.5 a5.2,3.1 0 0 1 10.4,0 v3.5 a5.2,3.1 0 0 1 -10.4,0z" fill="#151514"/>
<ellipse cx="255.6" cy="497.1" rx="5.2" ry="3.1" fill="#7d7c76"/>
<path d="M264.9,505.6 v-3.5 a5.2,3.1 0 0 1 10.4,0 v3.5 a5.2,3.1 0 0 1 -10.4,0z" fill="#151514"/>
<ellipse cx="270.1" cy="502.0" rx="5.2" ry="3.1" fill="#7d7c76"/>
<path d="M279.3,510.4 v-3.5 a5.2,3.1 0 0 1 10.4,0 v3.5 a5.2,3.1 0 0 1 -10.4,0z" fill="#151514"/>
<ellipse cx="284.5" cy="506.9" rx="5.2" ry="3.1" fill="#7d7c76"/>
<path d="M293.8,515.3 v-3.5 a5.2,3.1 0 0 1 10.4,0 v3.5 a5.2,3.1 0 0 1 -10.4,0z" fill="#151514"/>
<ellipse cx="298.9" cy="511.8" rx="5.2" ry="3.1" fill="#7d7c76"/>
<path d="M308.2,520.2 v-3.5 a5.2,3.1 0 0 1 10.4,0 v3.5 a5.2,3.1 0 0 1 -10.4,0z" fill="#151514"/>
<ellipse cx="313.4" cy="516.7" rx="5.2" ry="3.1" fill="#7d7c76"/>
<path d="M322.6,525.1 v-3.5 a5.2,3.1 0 0 1 10.4,0 v3.5 a5.2,3.1 0 0 1 -10.4,0z" fill="#151514"/>
<ellipse cx="327.8" cy="521.6" rx="5.2" ry="3.1" fill="#7d7c76"/>
<path d="M337.1,530.0 v-3.5 a5.2,3.1 0 0 1 10.4,0 v3.5 a5.2,3.1 0 0 1 -10.4,0z" fill="#151514"/>
<ellipse cx="342.3" cy="526.5" rx="5.2" ry="3.1" fill="#7d7c76"/>
<path d="M351.5,534.9 v-3.5 a5.2,3.1 0 0 1 10.4,0 v3.5 a5.2,3.1 0 0 1 -10.4,0z" fill="#151514"/>
<ellipse cx="356.7" cy="531.4" rx="5.2" ry="3.1" fill="#7d7c76"/>
<path d="M366.0,539.9 v-3.5 a5.2,3.1 0 0 1 10.4,0 v3.5 a5.2,3.1 0 0 1 -10.4,0z" fill="#151514"/>
<ellipse cx="371.2" cy="536.3" rx="5.2" ry="3.1" fill="#7d7c76"/>
<path d="M380.4,544.8 v-3.5 a5.2,3.1 0 0 1 10.4,0 v3.5 a5.2,3.1 0 0 1 -10.4,0z" fill="#151514"/>
<ellipse cx="385.6" cy="541.2" rx="5.2" ry="3.1" fill="#7d7c76"/>
<path d="M394.9,549.6 v-3.5 a5.2,3.1 0 0 1 10.4,0 v3.5 a5.2,3.1 0 0 1 -10.4,0z" fill="#151514"/>
<ellipse cx="400.0" cy="546.1" rx="5.2" ry="3.1" fill="#7d7c76"/>
<path d="M409.3,554.5 v-3.5 a5.2,3.1 0 0 1 10.4,0 v3.5 a5.2,3.1 0 0 1 -10.4,0z" fill="#151514"/>
<ellipse cx="414.5" cy="551.0" rx="5.2" ry="3.1" fill="#7d7c76"/>
<path d="M242.6,510.2 v-3.5 a5.2,3.1 0 0 1 10.4,0 v3.5 a5.2,3.1 0 0 1 -10.4,0z" fill="#151514"/>
<ellipse cx="247.8" cy="506.7" rx="5.2" ry="3.1" fill="#7d7c76"/>
<path d="M257.1,515.1 v-3.5 a5.2,3.1 0 0 1 10.4,0 v3.5 a5.2,3.1 0 0 1 -10.4,0z" fill="#151514"/>
<ellipse cx="262.3" cy="511.6" rx="5.2" ry="3.1" fill="#7d7c76"/>
<path d="M271.5,520.0 v-3.5 a5.2,3.1 0 0 1 10.4,0 v3.5 a5.2,3.1 0 0 1 -10.4,0z" fill="#151514"/>
<ellipse cx="276.7" cy="516.5" rx="5.2" ry="3.1" fill="#7d7c76"/>
<path d="M286.0,524.9 v-3.5 a5.2,3.1 0 0 1 10.4,0 v3.5 a5.2,3.1 0 0 1 -10.4,0z" fill="#151514"/>
<ellipse cx="291.1" cy="521.4" rx="5.2" ry="3.1" fill="#7d7c76"/>
<path d="M300.4,529.9 v-3.5 a5.2,3.1 0 0 1 10.4,0 v3.5 a5.2,3.1 0 0 1 -10.4,0z" fill="#151514"/>
<ellipse cx="305.6" cy="526.3" rx="5.2" ry="3.1" fill="#7d7c76"/>
<path d="M314.8,534.8 v-3.5 a5.2,3.1 0 0 1 10.4,0 v3.5 a5.2,3.1 0 0 1 -10.4,0z" fill="#151514"/>
<ellipse cx="320.0" cy="531.2" rx="5.2" ry="3.1" fill="#7d7c76"/>
<path d="M329.3,539.6 v-3.5 a5.2,3.1 0 0 1 10.4,0 v3.5 a5.2,3.1 0 0 1 -10.4,0z" fill="#151514"/>
<ellipse cx="334.5" cy="536.1" rx="5.2" ry="3.1" fill="#7d7c76"/>
<path d="M343.7,544.5 v-3.5 a5.2,3.1 0 0 1 10.4,0 v3.5 a5.2,3.1 0 0 1 -10.4,0z" fill="#151514"/>
<ellipse cx="348.9" cy="541.0" rx="5.2" ry="3.1" fill="#7d7c76"/>
<path d="M358.2,549.5 v-3.5 a5.2,3.1 0 0 1 10.4,0 v3.5 a5.2,3.1 0 0 1 -10.4,0z" fill="#151514"/>
<ellipse cx="363.4" cy="545.9" rx="5.2" ry="3.1" fill="#7d7c76"/>
<path d="M372.6,554.4 v-3.5 a5.2,3.1 0 0 1 10.4,0 v3.5 a5.2,3.1 0 0 1 -10.4,0z" fill="#151514"/>
<ellipse cx="377.8" cy="550.8" rx="5.2" ry="3.1" fill="#7d7c76"/>
<path d="M387.1,559.2 v-3.5 a5.2,3.1 0 0 1 10.4,0 v3.5 a5.2,3.1 0 0 1 -10.4,0z" fill="#151514"/>
<ellipse cx="392.2" cy="555.7" rx="5.2" ry="3.1" fill="#7d7c76"/>
<path d="M401.5,564.1 v-3.5 a5.2,3.1 0 0 1 10.4,0 v3.5 a5.2,3.1 0 0 1 -10.4,0z" fill="#151514"/>
<ellipse cx="406.7" cy="560.6" rx="5.2" ry="3.1" fill="#7d7c76"/>
<path d="M234.8,519.9 v-3.5 a5.2,3.1 0 0 1 10.4,0 v3.5 a5.2,3.1 0 0 1 -10.4,0z" fill="#151514"/>
<ellipse cx="240.0" cy="516.3" rx="5.2" ry="3.1" fill="#7d7c76"/>
<path d="M249.3,524.8 v-3.5 a5.2,3.1 0 0 1 10.4,0 v3.5 a5.2,3.1 0 0 1 -10.4,0z" fill="#151514"/>
<ellipse cx="254.5" cy="521.2" rx="5.2" ry="3.1" fill="#7d7c76"/>
<path d="M263.7,529.6 v-3.5 a5.2,3.1 0 0 1 10.4,0 v3.5 a5.2,3.1 0 0 1 -10.4,0z" fill="#151514"/>
<ellipse cx="268.9" cy="526.1" rx="5.2" ry="3.1" fill="#7d7c76"/>
<path d="M278.2,534.5 v-3.5 a5.2,3.1 0 0 1 10.4,0 v3.5 a5.2,3.1 0 0 1 -10.4,0z" fill="#151514"/>
<ellipse cx="283.3" cy="531.0" rx="5.2" ry="3.1" fill="#7d7c76"/>
<path d="M292.6,539.5 v-3.5 a5.2,3.1 0 0 1 10.4,0 v3.5 a5.2,3.1 0 0 1 -10.4,0z" fill="#151514"/>
<ellipse cx="297.8" cy="535.9" rx="5.2" ry="3.1" fill="#7d7c76"/>
<path d="M307.0,544.4 v-3.5 a5.2,3.1 0 0 1 10.4,0 v3.5 a5.2,3.1 0 0 1 -10.4,0z" fill="#151514"/>
<ellipse cx="312.2" cy="540.8" rx="5.2" ry="3.1" fill="#7d7c76"/>
<path d="M321.5,549.2 v-3.5 a5.2,3.1 0 0 1 10.4,0 v3.5 a5.2,3.1 0 0 1 -10.4,0z" fill="#151514"/>
<ellipse cx="326.7" cy="545.7" rx="5.2" ry="3.1" fill="#7d7c76"/>
<path d="M335.9,554.1 v-3.5 a5.2,3.1 0 0 1 10.4,0 v3.5 a5.2,3.1 0 0 1 -10.4,0z" fill="#151514"/>
<ellipse cx="341.1" cy="550.6" rx="5.2" ry="3.1" fill="#7d7c76"/>
<path d="M350.4,559.1 v-3.5 a5.2,3.1 0 0 1 10.4,0 v3.5 a5.2,3.1 0 0 1 -10.4,0z" fill="#151514"/>
<ellipse cx="355.6" cy="555.5" rx="5.2" ry="3.1" fill="#7d7c76"/>
<path d="M364.8,564.0 v-3.5 a5.2,3.1 0 0 1 10.4,0 v3.5 a5.2,3.1 0 0 1 -10.4,0z" fill="#151514"/>
<ellipse cx="370.0" cy="560.4" rx="5.2" ry="3.1" fill="#7d7c76"/>
<path d="M379.3,568.9 v-3.5 a5.2,3.1 0 0 1 10.4,0 v3.5 a5.2,3.1 0 0 1 -10.4,0z" fill="#151514"/>
<ellipse cx="384.4" cy="565.3" rx="5.2" ry="3.1" fill="#7d7c76"/>
<path d="M393.7,573.8 v-3.5 a5.2,3.1 0 0 1 10.4,0 v3.5 a5.2,3.1 0 0 1 -10.4,0z" fill="#151514"/>
<ellipse cx="398.9" cy="570.2" rx="5.2" ry="3.1" fill="#7d7c76"/>
<path d="M227.0,529.5 v-3.5 a5.2,3.1 0 0 1 10.4,0 v3.5 a5.2,3.1 0 0 1 -10.4,0z" fill="#151514"/>
<ellipse cx="232.2" cy="525.9" rx="5.2" ry="3.1" fill="#7d7c76"/>
<path d="M241.5,534.4 v-3.5 a5.2,3.1 0 0 1 10.4,0 v3.5 a5.2,3.1 0 0 1 -10.4,0z" fill="#151514"/>
<ellipse cx="246.7" cy="530.8" rx="5.2" ry="3.1" fill="#7d7c76"/>
<path d="M255.9,539.2 v-3.5 a5.2,3.1 0 0 1 10.4,0 v3.5 a5.2,3.1 0 0 1 -10.4,0z" fill="#151514"/>
<ellipse cx="261.1" cy="535.7" rx="5.2" ry="3.1" fill="#7d7c76"/>
<path d="M270.4,544.1 v-3.5 a5.2,3.1 0 0 1 10.4,0 v3.5 a5.2,3.1 0 0 1 -10.4,0z" fill="#151514"/>
<ellipse cx="275.5" cy="540.6" rx="5.2" ry="3.1" fill="#7d7c76"/>
<path d="M284.8,549.1 v-3.5 a5.2,3.1 0 0 1 10.4,0 v3.5 a5.2,3.1 0 0 1 -10.4,0z" fill="#151514"/>
<ellipse cx="290.0" cy="545.5" rx="5.2" ry="3.1" fill="#7d7c76"/>
<path d="M299.2,554.0 v-3.5 a5.2,3.1 0 0 1 10.4,0 v3.5 a5.2,3.1 0 0 1 -10.4,0z" fill="#151514"/>
<ellipse cx="304.4" cy="550.4" rx="5.2" ry="3.1" fill="#7d7c76"/>
<path d="M313.7,558.9 v-3.5 a5.2,3.1 0 0 1 10.4,0 v3.5 a5.2,3.1 0 0 1 -10.4,0z" fill="#151514"/>
<ellipse cx="318.9" cy="555.3" rx="5.2" ry="3.1" fill="#7d7c76"/>
<path d="M328.1,563.8 v-3.5 a5.2,3.1 0 0 1 10.4,0 v3.5 a5.2,3.1 0 0 1 -10.4,0z" fill="#151514"/>
<ellipse cx="333.3" cy="560.2" rx="5.2" ry="3.1" fill="#7d7c76"/>
<path d="M342.6,568.7 v-3.5 a5.2,3.1 0 0 1 10.4,0 v3.5 a5.2,3.1 0 0 1 -10.4,0z" fill="#151514"/>
<ellipse cx="347.8" cy="565.1" rx="5.2" ry="3.1" fill="#7d7c76"/>
<path d="M357.0,573.6 v-3.5 a5.2,3.1 0 0 1 10.4,0 v3.5 a5.2,3.1 0 0 1 -10.4,0z" fill="#151514"/>
<ellipse cx="362.2" cy="570.0" rx="5.2" ry="3.1" fill="#7d7c76"/>
<path d="M371.5,578.5 v-3.5 a5.2,3.1 0 0 1 10.4,0 v3.5 a5.2,3.1 0 0 1 -10.4,0z" fill="#151514"/>
<ellipse cx="376.6" cy="574.9" rx="5.2" ry="3.1" fill="#7d7c76"/>
<path d="M385.9,583.4 v-3.5 a5.2,3.1 0 0 1 10.4,0 v3.5 a5.2,3.1 0 0 1 -10.4,0z" fill="#151514"/>
<ellipse cx="391.1" cy="579.8" rx="5.2" ry="3.1" fill="#7d7c76"/>
<polygon points="572.4,98.3 590.2,109.0 590.2,112.5 572.4,101.8" fill="#1b2028" stroke="#1b2028" stroke-width="0.5" stroke-linejoin="round" />
<polygon points="590.2,109.0 702.3,68.1 702.3,71.6 590.2,112.5" fill="#15191f" stroke="#15191f" stroke-width="0.5" stroke-linejoin="round" />
<polygon points="572.4,98.3 590.2,109.0 702.3,68.1 684.5,57.4" fill="#262d38" stroke="#262d38" stroke-width="0.5" stroke-linejoin="round" />
<path d="M680.7,61.8 v-2.4 a3.5,2.1 0 0 1 7.1,0 v2.4 a3.5,2.1 0 0 1 -7.1,0z" fill="#12161c"/>
<ellipse cx="684.3" cy="59.4" rx="3.5" ry="2.1" fill="#2e3643"/>
<path d="M689.6,67.1 v-2.4 a3.5,2.1 0 0 1 7.1,0 v2.4 a3.5,2.1 0 0 1 -7.1,0z" fill="#12161c"/>
<ellipse cx="693.2" cy="64.7" rx="3.5" ry="2.1" fill="#2e3643"/>
<path d="M671.4,65.2 v-2.4 a3.5,2.1 0 0 1 7.1,0 v2.4 a3.5,2.1 0 0 1 -7.1,0z" fill="#12161c"/>
<ellipse cx="674.9" cy="62.8" rx="3.5" ry="2.1" fill="#2e3643"/>
<path d="M680.3,70.5 v-2.4 a3.5,2.1 0 0 1 7.1,0 v2.4 a3.5,2.1 0 0 1 -7.1,0z" fill="#12161c"/>
<ellipse cx="683.8" cy="68.1" rx="3.5" ry="2.1" fill="#2e3643"/>
<path d="M662.1,68.6 v-2.4 a3.5,2.1 0 0 1 7.1,0 v2.4 a3.5,2.1 0 0 1 -7.1,0z" fill="#12161c"/>
<ellipse cx="665.6" cy="66.2" rx="3.5" ry="2.1" fill="#2e3643"/>
<path d="M671.0,73.9 v-2.4 a3.5,2.1 0 0 1 7.1,0 v2.4 a3.5,2.1 0 0 1 -7.1,0z" fill="#12161c"/>
<ellipse cx="674.5" cy="71.5" rx="3.5" ry="2.1" fill="#2e3643"/>
<path d="M652.7,72.0 v-2.4 a3.5,2.1 0 0 1 7.1,0 v2.4 a3.5,2.1 0 0 1 -7.1,0z" fill="#12161c"/>
<ellipse cx="656.3" cy="69.6" rx="3.5" ry="2.1" fill="#2e3643"/>
<path d="M661.6,77.4 v-2.4 a3.5,2.1 0 0 1 7.1,0 v2.4 a3.5,2.1 0 0 1 -7.1,0z" fill="#12161c"/>
<ellipse cx="665.2" cy="75.0" rx="3.5" ry="2.1" fill="#2e3643"/>
<path d="M643.4,75.4 v-2.4 a3.5,2.1 0 0 1 7.1,0 v2.4 a3.5,2.1 0 0 1 -7.1,0z" fill="#12161c"/>
<ellipse cx="646.9" cy="73.0" rx="3.5" ry="2.1" fill="#2e3643"/>
<path d="M652.3,80.8 v-2.4 a3.5,2.1 0 0 1 7.1,0 v2.4 a3.5,2.1 0 0 1 -7.1,0z" fill="#12161c"/>
<ellipse cx="655.8" cy="78.4" rx="3.5" ry="2.1" fill="#2e3643"/>
<path d="M634.0,78.8 v-2.4 a3.5,2.1 0 0 1 7.1,0 v2.4 a3.5,2.1 0 0 1 -7.1,0z" fill="#12161c"/>
<ellipse cx="637.6" cy="76.4" rx="3.5" ry="2.1" fill="#2e3643"/>
<path d="M642.9,84.2 v-2.4 a3.5,2.1 0 0 1 7.1,0 v2.4 a3.5,2.1 0 0 1 -7.1,0z" fill="#12161c"/>
<ellipse cx="646.5" cy="81.8" rx="3.5" ry="2.1" fill="#2e3643"/>
<path d="M624.7,82.2 v-2.4 a3.5,2.1 0 0 1 7.1,0 v2.4 a3.5,2.1 0 0 1 -7.1,0z" fill="#12161c"/>
<ellipse cx="628.2" cy="79.8" rx="3.5" ry="2.1" fill="#2e3643"/>
<path d="M633.6,87.6 v-2.4 a3.5,2.1 0 0 1 7.1,0 v2.4 a3.5,2.1 0 0 1 -7.1,0z" fill="#12161c"/>
<ellipse cx="637.1" cy="85.2" rx="3.5" ry="2.1" fill="#2e3643"/>
<path d="M615.4,85.6 v-2.4 a3.5,2.1 0 0 1 7.1,0 v2.4 a3.5,2.1 0 0 1 -7.1,0z" fill="#12161c"/>
<ellipse cx="618.9" cy="83.2" rx="3.5" ry="2.1" fill="#2e3643"/>
<path d="M624.3,91.0 v-2.4 a3.5,2.1 0 0 1 7.1,0 v2.4 a3.5,2.1 0 0 1 -7.1,0z" fill="#12161c"/>
<ellipse cx="627.8" cy="88.6" rx="3.5" ry="2.1" fill="#2e3643"/>
<path d="M606.0,89.0 v-2.4 a3.5,2.1 0 0 1 7.1,0 v2.4 a3.5,2.1 0 0 1 -7.1,0z" fill="#12161c"/>
<ellipse cx="609.5" cy="86.6" rx="3.5" ry="2.1" fill="#2e3643"/>
<path d="M614.9,94.4 v-2.4 a3.5,2.1 0 0 1 7.1,0 v2.4 a3.5,2.1 0 0 1 -7.1,0z" fill="#12161c"/>
<ellipse cx="618.4" cy="92.0" rx="3.5" ry="2.1" fill="#2e3643"/>
<path d="M596.7,92.5 v-2.4 a3.5,2.1 0 0 1 7.1,0 v2.4 a3.5,2.1 0 0 1 -7.1,0z" fill="#12161c"/>
<ellipse cx="600.2" cy="90.1" rx="3.5" ry="2.1" fill="#2e3643"/>
<path d="M605.6,97.8 v-2.4 a3.5,2.1 0 0 1 7.1,0 v2.4 a3.5,2.1 0 0 1 -7.1,0z" fill="#12161c"/>
<ellipse cx="609.1" cy="95.4" rx="3.5" ry="2.1" fill="#2e3643"/>
<path d="M587.3,95.9 v-2.4 a3.5,2.1 0 0 1 7.1,0 v2.4 a3.5,2.1 0 0 1 -7.1,0z" fill="#12161c"/>
<ellipse cx="590.9" cy="93.5" rx="3.5" ry="2.1" fill="#2e3643"/>
<path d="M596.2,101.2 v-2.4 a3.5,2.1 0 0 1 7.1,0 v2.4 a3.5,2.1 0 0 1 -7.1,0z" fill="#12161c"/>
<ellipse cx="599.8" cy="98.8" rx="3.5" ry="2.1" fill="#2e3643"/>
<path d="M578.0,99.3 v-2.4 a3.5,2.1 0 0 1 7.1,0 v2.4 a3.5,2.1 0 0 1 -7.1,0z" fill="#12161c"/>
<ellipse cx="581.5" cy="96.9" rx="3.5" ry="2.1" fill="#2e3643"/>
<path d="M586.9,104.6 v-2.4 a3.5,2.1 0 0 1 7.1,0 v2.4 a3.5,2.1 0 0 1 -7.1,0z" fill="#12161c"/>
<ellipse cx="590.4" cy="102.2" rx="3.5" ry="2.1" fill="#2e3643"/>
<text x="584" y="125" font-size="12.6" text-anchor="start" font-weight="bold" fill="#1a1a1a" stroke="#1a1a1a" stroke-width="0.32" >1x</text>
<polygon points="626.7,132.1 645.3,141.9 645.3,145.4 626.7,135.6" fill="#1b2028" stroke="#1b2028" stroke-width="0.5" stroke-linejoin="round" />
<polygon points="645.3,141.9 700.5,118.8 700.5,122.3 645.3,145.4" fill="#15191f" stroke="#15191f" stroke-width="0.5" stroke-linejoin="round" />
<polygon points="626.7,132.1 645.3,141.9 700.5,118.8 681.9,109.0" fill="#262d38" stroke="#262d38" stroke-width="0.5" stroke-linejoin="round" />
<path d="M678.4,113.4 v-2.4 a3.6,2.1 0 0 1 7.1,0 v2.4 a3.6,2.1 0 0 1 -7.1,0z" fill="#12161c"/>
<ellipse cx="682.0" cy="110.9" rx="3.6" ry="2.1" fill="#2e3643"/>
<path d="M687.7,118.3 v-2.4 a3.6,2.1 0 0 1 7.1,0 v2.4 a3.6,2.1 0 0 1 -7.1,0z" fill="#12161c"/>
<ellipse cx="691.2" cy="115.8" rx="3.6" ry="2.1" fill="#2e3643"/>
<path d="M669.2,117.2 v-2.4 a3.6,2.1 0 0 1 7.1,0 v2.4 a3.6,2.1 0 0 1 -7.1,0z" fill="#12161c"/>
<ellipse cx="672.8" cy="114.8" rx="3.6" ry="2.1" fill="#2e3643"/>
<path d="M678.5,122.1 v-2.4 a3.6,2.1 0 0 1 7.1,0 v2.4 a3.6,2.1 0 0 1 -7.1,0z" fill="#12161c"/>
<ellipse cx="682.0" cy="119.7" rx="3.6" ry="2.1" fill="#2e3643"/>
<path d="M660.0,121.1 v-2.4 a3.6,2.1 0 0 1 7.1,0 v2.4 a3.6,2.1 0 0 1 -7.1,0z" fill="#12161c"/>
<ellipse cx="663.6" cy="118.6" rx="3.6" ry="2.1" fill="#2e3643"/>
<path d="M669.3,126.0 v-2.4 a3.6,2.1 0 0 1 7.1,0 v2.4 a3.6,2.1 0 0 1 -7.1,0z" fill="#12161c"/>
<ellipse cx="672.9" cy="123.5" rx="3.6" ry="2.1" fill="#2e3643"/>
<path d="M650.8,124.9 v-2.4 a3.6,2.1 0 0 1 7.1,0 v2.4 a3.6,2.1 0 0 1 -7.1,0z" fill="#12161c"/>
<ellipse cx="654.4" cy="122.5" rx="3.6" ry="2.1" fill="#2e3643"/>
<path d="M660.1,129.8 v-2.4 a3.6,2.1 0 0 1 7.1,0 v2.4 a3.6,2.1 0 0 1 -7.1,0z" fill="#12161c"/>
<ellipse cx="663.6" cy="127.4" rx="3.6" ry="2.1" fill="#2e3643"/>
<path d="M641.6,128.8 v-2.4 a3.6,2.1 0 0 1 7.1,0 v2.4 a3.6,2.1 0 0 1 -7.1,0z" fill="#12161c"/>
<ellipse cx="645.2" cy="126.3" rx="3.6" ry="2.1" fill="#2e3643"/>
<path d="M650.9,133.7 v-2.4 a3.6,2.1 0 0 1 7.1,0 v2.4 a3.6,2.1 0 0 1 -7.1,0z" fill="#12161c"/>
<ellipse cx="654.5" cy="131.2" rx="3.6" ry="2.1" fill="#2e3643"/>
<path d="M632.4,132.6 v-2.4 a3.6,2.1 0 0 1 7.1,0 v2.4 a3.6,2.1 0 0 1 -7.1,0z" fill="#12161c"/>
<ellipse cx="636.0" cy="130.2" rx="3.6" ry="2.1" fill="#2e3643"/>
<path d="M641.7,137.5 v-2.4 a3.6,2.1 0 0 1 7.1,0 v2.4 a3.6,2.1 0 0 1 -7.1,0z" fill="#12161c"/>
<ellipse cx="645.2" cy="135.1" rx="3.6" ry="2.1" fill="#2e3643"/>
<text x="670.2" y="149" font-size="12.6" text-anchor="start" font-weight="bold" fill="#1a1a1a" stroke="#1a1a1a" stroke-width="0.32" >2x</text>
<polygon points="749.5,96.5 904.8,146.5 904.8,152.0 749.5,102.0" fill="#1a1d22" stroke="#1a1d22" stroke-width="0.5" stroke-linejoin="round" />
<polygon points="904.8,146.5 931.5,112.5 931.5,118.0 904.8,152.0" fill="#131519" stroke="#131519" stroke-width="0.5" stroke-linejoin="round" />
<polygon points="749.5,96.5 904.8,146.5 931.5,112.5 776.2,62.5" fill="#25292f" stroke="#25292f" stroke-width="0.5" stroke-linejoin="round" />
<polygon points="749.5,92.1 904.8,141.6 904.8,146.1 749.5,96.6" fill="#1b2028" stroke="#1b2028" stroke-width="0.5" stroke-linejoin="round" />
<polygon points="904.8,141.6 931.5,108.5 931.5,113.0 904.8,146.1" fill="#15191f" stroke="#15191f" stroke-width="0.5" stroke-linejoin="round" />
<polygon points="749.5,92.1 904.8,141.6 931.5,108.5 776.2,59.0" fill="#262d38" stroke="#262d38" stroke-width="0.5" stroke-linejoin="round" />
<path d="M774.7,65.2 v-3.1 a4.6,2.8 0 0 1 9.2,0 v3.1 a4.6,2.8 0 0 1 -9.2,0z" fill="#12161c"/>
<ellipse cx="779.3" cy="62.1" rx="4.6" ry="2.8" fill="#2e3643"/>
<path d="M787.7,69.3 v-3.1 a4.6,2.8 0 0 1 9.2,0 v3.1 a4.6,2.8 0 0 1 -9.2,0z" fill="#12161c"/>
<ellipse cx="792.3" cy="66.2" rx="4.6" ry="2.8" fill="#2e3643"/>
<path d="M800.6,73.5 v-3.1 a4.6,2.8 0 0 1 9.2,0 v3.1 a4.6,2.8 0 0 1 -9.2,0z" fill="#12161c"/>
<ellipse cx="805.2" cy="70.3" rx="4.6" ry="2.8" fill="#2e3643"/>
<path d="M813.5,77.6 v-3.1 a4.6,2.8 0 0 1 9.2,0 v3.1 a4.6,2.8 0 0 1 -9.2,0z" fill="#12161c"/>
<ellipse cx="818.2" cy="74.4" rx="4.6" ry="2.8" fill="#2e3643"/>
<path d="M826.5,81.7 v-3.1 a4.6,2.8 0 0 1 9.2,0 v3.1 a4.6,2.8 0 0 1 -9.2,0z" fill="#12161c"/>
<ellipse cx="831.1" cy="78.6" rx="4.6" ry="2.8" fill="#2e3643"/>
<path d="M839.4,85.8 v-3.1 a4.6,2.8 0 0 1 9.2,0 v3.1 a4.6,2.8 0 0 1 -9.2,0z" fill="#12161c"/>
<ellipse cx="844.0" cy="82.7" rx="4.6" ry="2.8" fill="#2e3643"/>
<path d="M852.4,90.0 v-3.1 a4.6,2.8 0 0 1 9.2,0 v3.1 a4.6,2.8 0 0 1 -9.2,0z" fill="#12161c"/>
<ellipse cx="857.0" cy="86.8" rx="4.6" ry="2.8" fill="#2e3643"/>
<path d="M865.3,94.1 v-3.1 a4.6,2.8 0 0 1 9.2,0 v3.1 a4.6,2.8 0 0 1 -9.2,0z" fill="#12161c"/>
<ellipse cx="869.9" cy="90.9" rx="4.6" ry="2.8" fill="#2e3643"/>
<path d="M878.2,98.2 v-3.1 a4.6,2.8 0 0 1 9.2,0 v3.1 a4.6,2.8 0 0 1 -9.2,0z" fill="#12161c"/>
<ellipse cx="882.9" cy="95.1" rx="4.6" ry="2.8" fill="#2e3643"/>
<path d="M891.2,102.3 v-3.1 a4.6,2.8 0 0 1 9.2,0 v3.1 a4.6,2.8 0 0 1 -9.2,0z" fill="#12161c"/>
<ellipse cx="895.8" cy="99.2" rx="4.6" ry="2.8" fill="#2e3643"/>
<path d="M904.1,106.5 v-3.1 a4.6,2.8 0 0 1 9.2,0 v3.1 a4.6,2.8 0 0 1 -9.2,0z" fill="#12161c"/>
<ellipse cx="908.8" cy="103.3" rx="4.6" ry="2.8" fill="#2e3643"/>
<path d="M917.1,110.6 v-3.1 a4.6,2.8 0 0 1 9.2,0 v3.1 a4.6,2.8 0 0 1 -9.2,0z" fill="#12161c"/>
<ellipse cx="921.7" cy="107.4" rx="4.6" ry="2.8" fill="#2e3643"/>
<path d="M768.0,73.5 v-3.1 a4.6,2.8 0 0 1 9.2,0 v3.1 a4.6,2.8 0 0 1 -9.2,0z" fill="#12161c"/>
<ellipse cx="772.7" cy="70.3" rx="4.6" ry="2.8" fill="#2e3643"/>
<path d="M781.0,77.6 v-3.1 a4.6,2.8 0 0 1 9.2,0 v3.1 a4.6,2.8 0 0 1 -9.2,0z" fill="#12161c"/>
<ellipse cx="785.6" cy="74.5" rx="4.6" ry="2.8" fill="#2e3643"/>
<path d="M793.9,81.7 v-3.1 a4.6,2.8 0 0 1 9.2,0 v3.1 a4.6,2.8 0 0 1 -9.2,0z" fill="#12161c"/>
<ellipse cx="798.5" cy="78.6" rx="4.6" ry="2.8" fill="#2e3643"/>
<path d="M806.9,85.8 v-3.1 a4.6,2.8 0 0 1 9.2,0 v3.1 a4.6,2.8 0 0 1 -9.2,0z" fill="#12161c"/>
<ellipse cx="811.5" cy="82.7" rx="4.6" ry="2.8" fill="#2e3643"/>
<path d="M819.8,90.0 v-3.1 a4.6,2.8 0 0 1 9.2,0 v3.1 a4.6,2.8 0 0 1 -9.2,0z" fill="#12161c"/>
<ellipse cx="824.4" cy="86.8" rx="4.6" ry="2.8" fill="#2e3643"/>
<path d="M832.7,94.1 v-3.1 a4.6,2.8 0 0 1 9.2,0 v3.1 a4.6,2.8 0 0 1 -9.2,0z" fill="#12161c"/>
<ellipse cx="837.4" cy="91.0" rx="4.6" ry="2.8" fill="#2e3643"/>
<path d="M845.7,98.2 v-3.1 a4.6,2.8 0 0 1 9.2,0 v3.1 a4.6,2.8 0 0 1 -9.2,0z" fill="#12161c"/>
<ellipse cx="850.3" cy="95.1" rx="4.6" ry="2.8" fill="#2e3643"/>
<path d="M858.6,102.3 v-3.1 a4.6,2.8 0 0 1 9.2,0 v3.1 a4.6,2.8 0 0 1 -9.2,0z" fill="#12161c"/>
<ellipse cx="863.2" cy="99.2" rx="4.6" ry="2.8" fill="#2e3643"/>
<path d="M871.6,106.5 v-3.1 a4.6,2.8 0 0 1 9.2,0 v3.1 a4.6,2.8 0 0 1 -9.2,0z" fill="#12161c"/>
<ellipse cx="876.2" cy="103.3" rx="4.6" ry="2.8" fill="#2e3643"/>
<path d="M884.5,110.6 v-3.1 a4.6,2.8 0 0 1 9.2,0 v3.1 a4.6,2.8 0 0 1 -9.2,0z" fill="#12161c"/>
<ellipse cx="889.1" cy="107.5" rx="4.6" ry="2.8" fill="#2e3643"/>
<path d="M897.5,114.7 v-3.1 a4.6,2.8 0 0 1 9.2,0 v3.1 a4.6,2.8 0 0 1 -9.2,0z" fill="#12161c"/>
<ellipse cx="902.1" cy="111.6" rx="4.6" ry="2.8" fill="#2e3643"/>
<path d="M910.4,118.8 v-3.1 a4.6,2.8 0 0 1 9.2,0 v3.1 a4.6,2.8 0 0 1 -9.2,0z" fill="#12161c"/>
<ellipse cx="915.0" cy="115.7" rx="4.6" ry="2.8" fill="#2e3643"/>
<path d="M761.4,81.8 v-3.1 a4.6,2.8 0 0 1 9.2,0 v3.1 a4.6,2.8 0 0 1 -9.2,0z" fill="#12161c"/>
<ellipse cx="766.0" cy="78.6" rx="4.6" ry="2.8" fill="#2e3643"/>
<path d="M774.3,85.9 v-3.1 a4.6,2.8 0 0 1 9.2,0 v3.1 a4.6,2.8 0 0 1 -9.2,0z" fill="#12161c"/>
<ellipse cx="778.9" cy="82.7" rx="4.6" ry="2.8" fill="#2e3643"/>
<path d="M787.2,90.0 v-3.1 a4.6,2.8 0 0 1 9.2,0 v3.1 a4.6,2.8 0 0 1 -9.2,0z" fill="#12161c"/>
<ellipse cx="791.9" cy="86.9" rx="4.6" ry="2.8" fill="#2e3643"/>
<path d="M800.2,94.1 v-3.1 a4.6,2.8 0 0 1 9.2,0 v3.1 a4.6,2.8 0 0 1 -9.2,0z" fill="#12161c"/>
<ellipse cx="804.8" cy="91.0" rx="4.6" ry="2.8" fill="#2e3643"/>
<path d="M813.1,98.2 v-3.1 a4.6,2.8 0 0 1 9.2,0 v3.1 a4.6,2.8 0 0 1 -9.2,0z" fill="#12161c"/>
<ellipse cx="817.8" cy="95.1" rx="4.6" ry="2.8" fill="#2e3643"/>
<path d="M826.1,102.4 v-3.1 a4.6,2.8 0 0 1 9.2,0 v3.1 a4.6,2.8 0 0 1 -9.2,0z" fill="#12161c"/>
<ellipse cx="830.7" cy="99.2" rx="4.6" ry="2.8" fill="#2e3643"/>
<path d="M839.0,106.5 v-3.1 a4.6,2.8 0 0 1 9.2,0 v3.1 a4.6,2.8 0 0 1 -9.2,0z" fill="#12161c"/>
<ellipse cx="843.6" cy="103.4" rx="4.6" ry="2.8" fill="#2e3643"/>
<path d="M852.0,110.6 v-3.1 a4.6,2.8 0 0 1 9.2,0 v3.1 a4.6,2.8 0 0 1 -9.2,0z" fill="#12161c"/>
<ellipse cx="856.6" cy="107.5" rx="4.6" ry="2.8" fill="#2e3643"/>
<path d="M864.9,114.8 v-3.1 a4.6,2.8 0 0 1 9.2,0 v3.1 a4.6,2.8 0 0 1 -9.2,0z" fill="#12161c"/>
<ellipse cx="869.5" cy="111.6" rx="4.6" ry="2.8" fill="#2e3643"/>
<path d="M877.8,118.9 v-3.1 a4.6,2.8 0 0 1 9.2,0 v3.1 a4.6,2.8 0 0 1 -9.2,0z" fill="#12161c"/>
<ellipse cx="882.5" cy="115.7" rx="4.6" ry="2.8" fill="#2e3643"/>
<path d="M890.8,123.0 v-3.1 a4.6,2.8 0 0 1 9.2,0 v3.1 a4.6,2.8 0 0 1 -9.2,0z" fill="#12161c"/>
<ellipse cx="895.4" cy="119.9" rx="4.6" ry="2.8" fill="#2e3643"/>
<path d="M903.7,127.1 v-3.1 a4.6,2.8 0 0 1 9.2,0 v3.1 a4.6,2.8 0 0 1 -9.2,0z" fill="#12161c"/>
<ellipse cx="908.3" cy="124.0" rx="4.6" ry="2.8" fill="#2e3643"/>
<path d="M754.7,90.0 v-3.1 a4.6,2.8 0 0 1 9.2,0 v3.1 a4.6,2.8 0 0 1 -9.2,0z" fill="#12161c"/>
<ellipse cx="759.3" cy="86.9" rx="4.6" ry="2.8" fill="#2e3643"/>
<path d="M767.6,94.1 v-3.1 a4.6,2.8 0 0 1 9.2,0 v3.1 a4.6,2.8 0 0 1 -9.2,0z" fill="#12161c"/>
<ellipse cx="772.2" cy="91.0" rx="4.6" ry="2.8" fill="#2e3643"/>
<path d="M780.6,98.3 v-3.1 a4.6,2.8 0 0 1 9.2,0 v3.1 a4.6,2.8 0 0 1 -9.2,0z" fill="#12161c"/>
<ellipse cx="785.2" cy="95.1" rx="4.6" ry="2.8" fill="#2e3643"/>
<path d="M793.5,102.4 v-3.1 a4.6,2.8 0 0 1 9.2,0 v3.1 a4.6,2.8 0 0 1 -9.2,0z" fill="#12161c"/>
<ellipse cx="798.1" cy="99.3" rx="4.6" ry="2.8" fill="#2e3643"/>
<path d="M806.5,106.5 v-3.1 a4.6,2.8 0 0 1 9.2,0 v3.1 a4.6,2.8 0 0 1 -9.2,0z" fill="#12161c"/>
<ellipse cx="811.1" cy="103.4" rx="4.6" ry="2.8" fill="#2e3643"/>
<path d="M819.4,110.6 v-3.1 a4.6,2.8 0 0 1 9.2,0 v3.1 a4.6,2.8 0 0 1 -9.2,0z" fill="#12161c"/>
<ellipse cx="824.0" cy="107.5" rx="4.6" ry="2.8" fill="#2e3643"/>
<path d="M832.3,114.8 v-3.1 a4.6,2.8 0 0 1 9.2,0 v3.1 a4.6,2.8 0 0 1 -9.2,0z" fill="#12161c"/>
<ellipse cx="837.0" cy="111.6" rx="4.6" ry="2.8" fill="#2e3643"/>
<path d="M845.3,118.9 v-3.1 a4.6,2.8 0 0 1 9.2,0 v3.1 a4.6,2.8 0 0 1 -9.2,0z" fill="#12161c"/>
<ellipse cx="849.9" cy="115.8" rx="4.6" ry="2.8" fill="#2e3643"/>
<path d="M858.2,123.0 v-3.1 a4.6,2.8 0 0 1 9.2,0 v3.1 a4.6,2.8 0 0 1 -9.2,0z" fill="#12161c"/>
<ellipse cx="862.8" cy="119.9" rx="4.6" ry="2.8" fill="#2e3643"/>
<path d="M871.2,127.1 v-3.1 a4.6,2.8 0 0 1 9.2,0 v3.1 a4.6,2.8 0 0 1 -9.2,0z" fill="#12161c"/>
<ellipse cx="875.8" cy="124.0" rx="4.6" ry="2.8" fill="#2e3643"/>
<path d="M884.1,131.3 v-3.1 a4.6,2.8 0 0 1 9.2,0 v3.1 a4.6,2.8 0 0 1 -9.2,0z" fill="#12161c"/>
<ellipse cx="888.7" cy="128.1" rx="4.6" ry="2.8" fill="#2e3643"/>
<path d="M897.0,135.4 v-3.1 a4.6,2.8 0 0 1 9.2,0 v3.1 a4.6,2.8 0 0 1 -9.2,0z" fill="#12161c"/>
<ellipse cx="901.7" cy="132.3" rx="4.6" ry="2.8" fill="#2e3643"/>
<line x1="894.4" y1="51.9" x2="864.7" y2="75.1" stroke="#3b3b3b" stroke-width="2.2"/>
<polygon points="857.6,80.6 863.1,69.7 864.3,75.4 869.5,77.9" fill="#3b3b3b"/>
<polygon points="577.0,237.5 595.7,246.9 595.7,250.9 577.0,241.5" fill="#56554f" stroke="#56554f" stroke-width="0.5" stroke-linejoin="round" />
<polygon points="595.7,246.9 669.7,218.8 669.7,222.8 595.7,250.9" fill="#45443f" stroke="#45443f" stroke-width="0.5" stroke-linejoin="round" />
<polygon points="577.0,237.5 595.7,246.9 669.7,218.8 651.0,209.4" fill="#797871" stroke="#797871" stroke-width="0.5" stroke-linejoin="round" />
<path d="M647.5,213.5 v-2.4 a3.6,2.1 0 0 1 7.1,0 v2.4 a3.6,2.1 0 0 1 -7.1,0z" fill="#121211"/>
<ellipse cx="651.0" cy="211.1" rx="3.6" ry="2.1" fill="#6f6e68"/>
<path d="M656.8,218.2 v-2.4 a3.6,2.1 0 0 1 7.1,0 v2.4 a3.6,2.1 0 0 1 -7.1,0z" fill="#121211"/>
<ellipse cx="660.4" cy="215.8" rx="3.6" ry="2.1" fill="#6f6e68"/>
<path d="M638.2,217.0 v-2.4 a3.6,2.1 0 0 1 7.1,0 v2.4 a3.6,2.1 0 0 1 -7.1,0z" fill="#121211"/>
<ellipse cx="641.8" cy="214.6" rx="3.6" ry="2.1" fill="#6f6e68"/>
<path d="M647.6,221.7 v-2.4 a3.6,2.1 0 0 1 7.1,0 v2.4 a3.6,2.1 0 0 1 -7.1,0z" fill="#121211"/>
<ellipse cx="651.2" cy="219.3" rx="3.6" ry="2.1" fill="#6f6e68"/>
<path d="M629.0,220.5 v-2.4 a3.6,2.1 0 0 1 7.1,0 v2.4 a3.6,2.1 0 0 1 -7.1,0z" fill="#121211"/>
<ellipse cx="632.5" cy="218.1" rx="3.6" ry="2.1" fill="#6f6e68"/>
<path d="M638.3,225.2 v-2.4 a3.6,2.1 0 0 1 7.1,0 v2.4 a3.6,2.1 0 0 1 -7.1,0z" fill="#121211"/>
<ellipse cx="641.9" cy="222.8" rx="3.6" ry="2.1" fill="#6f6e68"/>
<path d="M619.7,224.0 v-2.4 a3.6,2.1 0 0 1 7.1,0 v2.4 a3.6,2.1 0 0 1 -7.1,0z" fill="#121211"/>
<ellipse cx="623.3" cy="221.6" rx="3.6" ry="2.1" fill="#6f6e68"/>
<path d="M629.1,228.7 v-2.4 a3.6,2.1 0 0 1 7.1,0 v2.4 a3.6,2.1 0 0 1 -7.1,0z" fill="#121211"/>
<ellipse cx="632.7" cy="226.3" rx="3.6" ry="2.1" fill="#6f6e68"/>
<path d="M610.5,227.6 v-2.4 a3.6,2.1 0 0 1 7.1,0 v2.4 a3.6,2.1 0 0 1 -7.1,0z" fill="#121211"/>
<ellipse cx="614.0" cy="225.1" rx="3.6" ry="2.1" fill="#6f6e68"/>
<path d="M619.8,232.3 v-2.4 a3.6,2.1 0 0 1 7.1,0 v2.4 a3.6,2.1 0 0 1 -7.1,0z" fill="#121211"/>
<ellipse cx="623.4" cy="229.8" rx="3.6" ry="2.1" fill="#6f6e68"/>
<path d="M601.2,231.1 v-2.4 a3.6,2.1 0 0 1 7.1,0 v2.4 a3.6,2.1 0 0 1 -7.1,0z" fill="#121211"/>
<ellipse cx="604.8" cy="228.6" rx="3.6" ry="2.1" fill="#6f6e68"/>
<path d="M610.6,235.8 v-2.4 a3.6,2.1 0 0 1 7.1,0 v2.4 a3.6,2.1 0 0 1 -7.1,0z" fill="#121211"/>
<ellipse cx="614.2" cy="233.3" rx="3.6" ry="2.1" fill="#6f6e68"/>
<path d="M592.0,234.6 v-2.4 a3.6,2.1 0 0 1 7.1,0 v2.4 a3.6,2.1 0 0 1 -7.1,0z" fill="#121211"/>
<ellipse cx="595.5" cy="232.2" rx="3.6" ry="2.1" fill="#6f6e68"/>
<path d="M601.3,239.3 v-2.4 a3.6,2.1 0 0 1 7.1,0 v2.4 a3.6,2.1 0 0 1 -7.1,0z" fill="#121211"/>
<ellipse cx="604.9" cy="236.9" rx="3.6" ry="2.1" fill="#6f6e68"/>
<path d="M582.7,238.1 v-2.4 a3.6,2.1 0 0 1 7.1,0 v2.4 a3.6,2.1 0 0 1 -7.1,0z" fill="#121211"/>
<ellipse cx="586.3" cy="235.7" rx="3.6" ry="2.1" fill="#6f6e68"/>
<path d="M592.1,242.8 v-2.4 a3.6,2.1 0 0 1 7.1,0 v2.4 a3.6,2.1 0 0 1 -7.1,0z" fill="#121211"/>
<ellipse cx="595.7" cy="240.4" rx="3.6" ry="2.1" fill="#6f6e68"/>
<text x="588.6" y="263.9" font-size="12.6" text-anchor="start" font-weight="bold" fill="#1a1a1a" stroke="#1a1a1a" stroke-width="0.32" >1x</text>
<polygon points="636.5,268.1 654.4,278.3 654.4,282.3 636.5,272.1" fill="#56554f" stroke="#56554f" stroke-width="0.5" stroke-linejoin="round" />
<polygon points="654.4,278.3 691.8,262.2 691.8,266.2 654.4,282.3" fill="#45443f" stroke="#45443f" stroke-width="0.5" stroke-linejoin="round" />
<polygon points="636.5,268.1 654.4,278.3 691.8,262.2 673.9,252.0" fill="#797871" stroke="#797871" stroke-width="0.5" stroke-linejoin="round" />
<path d="M670.2,256.6 v-2.4 a3.5,2.1 0 0 1 7.0,0 v2.4 a3.5,2.1 0 0 1 -7.0,0z" fill="#121211"/>
<ellipse cx="673.7" cy="254.2" rx="3.5" ry="2.1" fill="#6f6e68"/>
<path d="M679.1,261.7 v-2.4 a3.5,2.1 0 0 1 7.0,0 v2.4 a3.5,2.1 0 0 1 -7.0,0z" fill="#121211"/>
<ellipse cx="682.6" cy="259.3" rx="3.5" ry="2.1" fill="#6f6e68"/>
<path d="M660.8,260.6 v-2.4 a3.5,2.1 0 0 1 7.0,0 v2.4 a3.5,2.1 0 0 1 -7.0,0z" fill="#121211"/>
<ellipse cx="664.4" cy="258.2" rx="3.5" ry="2.1" fill="#6f6e68"/>
<path d="M669.8,265.7 v-2.4 a3.5,2.1 0 0 1 7.0,0 v2.4 a3.5,2.1 0 0 1 -7.0,0z" fill="#121211"/>
<ellipse cx="673.3" cy="263.3" rx="3.5" ry="2.1" fill="#6f6e68"/>
<path d="M651.5,264.6 v-2.4 a3.5,2.1 0 0 1 7.0,0 v2.4 a3.5,2.1 0 0 1 -7.0,0z" fill="#121211"/>
<ellipse cx="655.0" cy="262.2" rx="3.5" ry="2.1" fill="#6f6e68"/>
<path d="M660.4,269.7 v-2.4 a3.5,2.1 0 0 1 7.0,0 v2.4 a3.5,2.1 0 0 1 -7.0,0z" fill="#121211"/>
<ellipse cx="663.9" cy="267.3" rx="3.5" ry="2.1" fill="#6f6e68"/>
<path d="M642.1,268.6 v-2.4 a3.5,2.1 0 0 1 7.0,0 v2.4 a3.5,2.1 0 0 1 -7.0,0z" fill="#121211"/>
<ellipse cx="645.6" cy="266.3" rx="3.5" ry="2.1" fill="#6f6e68"/>
<path d="M651.1,273.7 v-2.4 a3.5,2.1 0 0 1 7.0,0 v2.4 a3.5,2.1 0 0 1 -7.0,0z" fill="#121211"/>
<ellipse cx="654.6" cy="271.4" rx="3.5" ry="2.1" fill="#6f6e68"/>
<text x="649.3" y="295.3" font-size="12.6" text-anchor="start" font-weight="bold" fill="#1a1a1a" stroke="#1a1a1a" stroke-width="0.32" >1x</text>
<polygon points="911.6,241.1 919.1,242.3 902.0,298.3 894.5,297.1" fill="#242423" stroke="#242423" stroke-width="0.5" stroke-linejoin="round" />
<polygon points="787.0,198.6 911.6,241.1 894.5,297.1 773.8,255.6" fill="#6c6b64" stroke="#6c6b64" stroke-width="0.5" stroke-linejoin="round" />
<polygon points="788.7,204.1 845.4,223.4 840.2,242.7 784.2,223.5" fill="#2b2b29" />
<ellipse cx="788.9" cy="214.6" rx="3.4" ry="3.9" fill="#1f1f1d" stroke="#605f59" stroke-width="1.8"/>
<ellipse cx="799.2" cy="218.1" rx="3.4" ry="3.9" fill="#1f1f1d" stroke="#605f59" stroke-width="1.8"/>
<ellipse cx="809.5" cy="221.7" rx="3.4" ry="3.9" fill="#1f1f1d" stroke="#605f59" stroke-width="1.8"/>
<ellipse cx="819.8" cy="225.2" rx="3.4" ry="3.9" fill="#1f1f1d" stroke="#605f59" stroke-width="1.8"/>
<ellipse cx="830.1" cy="228.7" rx="3.4" ry="3.9" fill="#1f1f1d" stroke="#605f59" stroke-width="1.8"/>
<ellipse cx="840.4" cy="232.2" rx="3.4" ry="3.9" fill="#1f1f1d" stroke="#605f59" stroke-width="1.8"/>
<polygon points="850.8,225.3 907.5,244.6 901.7,263.7 845.6,244.5" fill="#2b2b29" />
<ellipse cx="850.7" cy="235.7" rx="3.4" ry="3.9" fill="#1f1f1d" stroke="#605f59" stroke-width="1.8"/>
<ellipse cx="861.0" cy="239.3" rx="3.4" ry="3.9" fill="#1f1f1d" stroke="#605f59" stroke-width="1.8"/>
<ellipse cx="871.3" cy="242.8" rx="3.4" ry="3.9" fill="#1f1f1d" stroke="#605f59" stroke-width="1.8"/>
<ellipse cx="881.6" cy="246.3" rx="3.4" ry="3.9" fill="#1f1f1d" stroke="#605f59" stroke-width="1.8"/>
<ellipse cx="891.9" cy="249.8" rx="3.4" ry="3.9" fill="#1f1f1d" stroke="#605f59" stroke-width="1.8"/>
<ellipse cx="902.2" cy="253.3" rx="3.4" ry="3.9" fill="#1f1f1d" stroke="#605f59" stroke-width="1.8"/>
<polygon points="782.0,232.6 837.8,251.7 832.7,270.9 777.5,252.0" fill="#2b2b29" />
<ellipse cx="782.6" cy="241.4" rx="3.4" ry="3.9" fill="#1f1f1d" stroke="#605f59" stroke-width="1.8"/>
<ellipse cx="792.7" cy="244.9" rx="3.4" ry="3.9" fill="#1f1f1d" stroke="#605f59" stroke-width="1.8"/>
<ellipse cx="802.9" cy="248.3" rx="3.4" ry="3.9" fill="#1f1f1d" stroke="#605f59" stroke-width="1.8"/>
<ellipse cx="813.0" cy="251.8" rx="3.4" ry="3.9" fill="#1f1f1d" stroke="#605f59" stroke-width="1.8"/>
<ellipse cx="823.2" cy="255.3" rx="3.4" ry="3.9" fill="#1f1f1d" stroke="#605f59" stroke-width="1.8"/>
<ellipse cx="833.3" cy="258.8" rx="3.4" ry="3.9" fill="#1f1f1d" stroke="#605f59" stroke-width="1.8"/>
<polygon points="843.2,253.5 899.0,272.7 893.2,291.7 838.0,272.7" fill="#2b2b29" />
<ellipse cx="843.5" cy="262.3" rx="3.4" ry="3.9" fill="#1f1f1d" stroke="#605f59" stroke-width="1.8"/>
<ellipse cx="853.6" cy="265.8" rx="3.4" ry="3.9" fill="#1f1f1d" stroke="#605f59" stroke-width="1.8"/>
<ellipse cx="863.8" cy="269.2" rx="3.4" ry="3.9" fill="#1f1f1d" stroke="#605f59" stroke-width="1.8"/>
<ellipse cx="873.9" cy="272.7" rx="3.4" ry="3.9" fill="#1f1f1d" stroke="#605f59" stroke-width="1.8"/>
<ellipse cx="884.1" cy="276.2" rx="3.4" ry="3.9" fill="#1f1f1d" stroke="#605f59" stroke-width="1.8"/>
<ellipse cx="894.2" cy="279.7" rx="3.4" ry="3.9" fill="#1f1f1d" stroke="#605f59" stroke-width="1.8"/>
<polygon points="780.3,212.4 861.9,239.6 857.7,266.0 773.5,240.5" fill="#3c3c39" />
<polygon points="779.1,211.2 860.7,238.4 856.5,264.8 772.3,239.3" fill="#77766f" stroke="#77766f" stroke-width="0.4" stroke-linejoin="round" />
<polygon points="779.8,215.4 858.6,241.3 855.4,260.9 774.8,236.1" fill="#2b2b29" />
<ellipse cx="781.6" cy="227.1" rx="4.1" ry="4.8" fill="#1f1f1d" stroke="#6a6963" stroke-width="2.0"/>
<ellipse cx="793.5" cy="230.9" rx="4.1" ry="4.8" fill="#1f1f1d" stroke="#6a6963" stroke-width="2.0"/>
<ellipse cx="805.3" cy="234.7" rx="4.1" ry="4.8" fill="#1f1f1d" stroke="#6a6963" stroke-width="2.0"/>
<ellipse cx="817.1" cy="238.4" rx="4.1" ry="4.8" fill="#1f1f1d" stroke="#6a6963" stroke-width="2.0"/>
<ellipse cx="829.0" cy="242.2" rx="4.1" ry="4.8" fill="#1f1f1d" stroke="#6a6963" stroke-width="2.0"/>
<ellipse cx="840.8" cy="246.0" rx="4.1" ry="4.8" fill="#1f1f1d" stroke="#6a6963" stroke-width="2.0"/>
<ellipse cx="852.7" cy="249.7" rx="4.1" ry="4.8" fill="#1f1f1d" stroke="#6a6963" stroke-width="2.0"/>
<polygon points="862.8,242.2 904.5,255.0 899.4,280.4 858.5,267.7" fill="#3c3c39" />
<polygon points="861.6,241.0 903.3,253.8 898.2,279.2 857.3,266.5" fill="#77766f" stroke="#77766f" stroke-width="0.4" stroke-linejoin="round" />
<polygon points="862.9,244.9 900.8,256.5 897.0,275.3 859.7,263.8" fill="#2b2b29" />
<ellipse cx="866.3" cy="255.9" rx="4.1" ry="4.8" fill="#1f1f1d" stroke="#6a6963" stroke-width="2.0"/>
<ellipse cx="880.1" cy="260.1" rx="4.1" ry="4.8" fill="#1f1f1d" stroke="#6a6963" stroke-width="2.0"/>
<ellipse cx="893.9" cy="264.4" rx="4.1" ry="4.8" fill="#1f1f1d" stroke="#6a6963" stroke-width="2.0"/>
<line x1="772.8" y1="295.5" x2="806.3" y2="262.0" stroke="#3b3b3b" stroke-width="2.2"/>
<polygon points="812.7,255.6 808.6,267.1 806.7,261.6 801.2,259.7" fill="#3b3b3b"/>
<polygon points="583.3,385.2 603.6,393.6 603.6,397.6 583.3,389.2" fill="#56554f" stroke="#56554f" stroke-width="0.5" stroke-linejoin="round" />
<polygon points="603.6,393.6 635.1,385.9 635.1,389.9 603.6,397.6" fill="#45443f" stroke="#45443f" stroke-width="0.5" stroke-linejoin="round" />
<polygon points="583.3,385.2 603.6,393.6 635.1,385.9 614.8,377.5" fill="#797871" stroke="#797871" stroke-width="0.5" stroke-linejoin="round" />
<path d="M610.9,380.9 v-2.5 a3.7,2.2 0 0 1 7.5,0 v2.5 a3.7,2.2 0 0 1 -7.5,0z" fill="#121211"/>
<ellipse cx="614.6" cy="378.3" rx="3.7" ry="2.2" fill="#6f6e68"/>
<path d="M621.0,385.1 v-2.5 a3.7,2.2 0 0 1 7.5,0 v2.5 a3.7,2.2 0 0 1 -7.5,0z" fill="#121211"/>
<ellipse cx="624.8" cy="382.5" rx="3.7" ry="2.2" fill="#6f6e68"/>
<path d="M600.4,383.4 v-2.5 a3.7,2.2 0 0 1 7.5,0 v2.5 a3.7,2.2 0 0 1 -7.5,0z" fill="#121211"/>
<ellipse cx="604.1" cy="380.9" rx="3.7" ry="2.2" fill="#6f6e68"/>
<path d="M610.5,387.6 v-2.5 a3.7,2.2 0 0 1 7.5,0 v2.5 a3.7,2.2 0 0 1 -7.5,0z" fill="#121211"/>
<ellipse cx="614.3" cy="385.1" rx="3.7" ry="2.2" fill="#6f6e68"/>
<path d="M589.9,386.0 v-2.5 a3.7,2.2 0 0 1 7.5,0 v2.5 a3.7,2.2 0 0 1 -7.5,0z" fill="#121211"/>
<ellipse cx="593.6" cy="383.5" rx="3.7" ry="2.2" fill="#6f6e68"/>
<path d="M600.0,390.2 v-2.5 a3.7,2.2 0 0 1 7.5,0 v2.5 a3.7,2.2 0 0 1 -7.5,0z" fill="#121211"/>
<ellipse cx="603.8" cy="387.7" rx="3.7" ry="2.2" fill="#6f6e68"/>
<text x="596.6" y="416.7" font-size="12.6" text-anchor="start" font-weight="bold" fill="#1a1a1a" stroke="#1a1a1a" stroke-width="0.32" >1x</text>
<polygon points="647.7,385.2 668.0,393.6 668.0,397.6 647.7,389.2" fill="#56554f" stroke="#56554f" stroke-width="0.5" stroke-linejoin="round" />
<polygon points="668.0,393.6 689.7,385.9 689.7,389.9 668.0,397.6" fill="#45443f" stroke="#45443f" stroke-width="0.5" stroke-linejoin="round" />
<polygon points="647.7,385.2 668.0,393.6 689.7,385.9 669.4,377.5" fill="#797871" stroke="#797871" stroke-width="0.5" stroke-linejoin="round" />
<path d="M665.1,381.5 v-2.7 a3.9,2.3 0 0 1 7.8,0 v2.7 a3.9,2.3 0 0 1 -7.8,0z" fill="#121211"/>
<ellipse cx="669.1" cy="378.9" rx="3.9" ry="2.3" fill="#6f6e68"/>
<path d="M675.3,385.7 v-2.7 a3.9,2.3 0 0 1 7.8,0 v2.7 a3.9,2.3 0 0 1 -7.8,0z" fill="#121211"/>
<ellipse cx="679.2" cy="383.1" rx="3.9" ry="2.3" fill="#6f6e68"/>
<path d="M654.3,385.4 v-2.7 a3.9,2.3 0 0 1 7.8,0 v2.7 a3.9,2.3 0 0 1 -7.8,0z" fill="#121211"/>
<ellipse cx="658.2" cy="382.7" rx="3.9" ry="2.3" fill="#6f6e68"/>
<path d="M664.4,389.6 v-2.7 a3.9,2.3 0 0 1 7.8,0 v2.7 a3.9,2.3 0 0 1 -7.8,0z" fill="#121211"/>
<ellipse cx="668.3" cy="386.9" rx="3.9" ry="2.3" fill="#6f6e68"/>
<text x="661" y="416.7" font-size="12.6" text-anchor="start" font-weight="bold" fill="#1a1a1a" stroke="#1a1a1a" stroke-width="0.32" >1x</text>
<polygon points="920.5,386.6 928.0,387.8 914.8,445.0 907.3,443.8" fill="#242423" stroke="#242423" stroke-width="0.5" stroke-linejoin="round" />
<polygon points="796.0,346.0 920.5,386.6 907.3,443.8 781.7,406.5" fill="#6c6b64" stroke="#6c6b64" stroke-width="0.5" stroke-linejoin="round" />
<polygon points="797.6,351.7 854.4,370.1 849.7,390.2 792.7,372.3" fill="#2b2b29" />
<ellipse cx="797.6" cy="362.8" rx="3.4" ry="3.9" fill="#1f1f1d" stroke="#605f59" stroke-width="1.8"/>
<ellipse cx="808.0" cy="366.1" rx="3.4" ry="3.9" fill="#1f1f1d" stroke="#605f59" stroke-width="1.8"/>
<ellipse cx="818.4" cy="369.4" rx="3.4" ry="3.9" fill="#1f1f1d" stroke="#605f59" stroke-width="1.8"/>
<ellipse cx="828.8" cy="372.7" rx="3.4" ry="3.9" fill="#1f1f1d" stroke="#605f59" stroke-width="1.8"/>
<ellipse cx="839.2" cy="376.0" rx="3.4" ry="3.9" fill="#1f1f1d" stroke="#605f59" stroke-width="1.8"/>
<ellipse cx="849.6" cy="379.4" rx="3.4" ry="3.9" fill="#1f1f1d" stroke="#605f59" stroke-width="1.8"/>
<polygon points="859.9,371.9 916.7,390.3 912.2,409.8 855.2,391.9" fill="#2b2b29" />
<ellipse cx="860.0" cy="382.7" rx="3.4" ry="3.9" fill="#1f1f1d" stroke="#605f59" stroke-width="1.8"/>
<ellipse cx="870.4" cy="386.0" rx="3.4" ry="3.9" fill="#1f1f1d" stroke="#605f59" stroke-width="1.8"/>
<ellipse cx="880.8" cy="389.3" rx="3.4" ry="3.9" fill="#1f1f1d" stroke="#605f59" stroke-width="1.8"/>
<ellipse cx="891.2" cy="392.6" rx="3.4" ry="3.9" fill="#1f1f1d" stroke="#605f59" stroke-width="1.8"/>
<ellipse cx="901.6" cy="395.9" rx="3.4" ry="3.9" fill="#1f1f1d" stroke="#605f59" stroke-width="1.8"/>
<ellipse cx="912.0" cy="399.2" rx="3.4" ry="3.9" fill="#1f1f1d" stroke="#605f59" stroke-width="1.8"/>
<polygon points="790.5,381.9 847.5,399.6 842.8,419.6 785.6,402.5" fill="#2b2b29" />
<ellipse cx="790.9" cy="391.2" rx="3.4" ry="3.9" fill="#1f1f1d" stroke="#605f59" stroke-width="1.8"/>
<ellipse cx="801.4" cy="394.3" rx="3.4" ry="3.9" fill="#1f1f1d" stroke="#605f59" stroke-width="1.8"/>
<ellipse cx="811.8" cy="397.5" rx="3.4" ry="3.9" fill="#1f1f1d" stroke="#605f59" stroke-width="1.8"/>
<ellipse cx="822.2" cy="400.7" rx="3.4" ry="3.9" fill="#1f1f1d" stroke="#605f59" stroke-width="1.8"/>
<ellipse cx="832.7" cy="403.9" rx="3.4" ry="3.9" fill="#1f1f1d" stroke="#605f59" stroke-width="1.8"/>
<ellipse cx="843.1" cy="407.1" rx="3.4" ry="3.9" fill="#1f1f1d" stroke="#605f59" stroke-width="1.8"/>
<polygon points="853.0,401.3 910.1,418.9 905.6,438.4 848.4,421.3" fill="#2b2b29" />
<ellipse cx="853.6" cy="410.3" rx="3.4" ry="3.9" fill="#1f1f1d" stroke="#605f59" stroke-width="1.8"/>
<ellipse cx="864.0" cy="413.4" rx="3.4" ry="3.9" fill="#1f1f1d" stroke="#605f59" stroke-width="1.8"/>
<ellipse cx="874.5" cy="416.6" rx="3.4" ry="3.9" fill="#1f1f1d" stroke="#605f59" stroke-width="1.8"/>
<ellipse cx="884.9" cy="419.8" rx="3.4" ry="3.9" fill="#1f1f1d" stroke="#605f59" stroke-width="1.8"/>
<ellipse cx="895.3" cy="423.0" rx="3.4" ry="3.9" fill="#1f1f1d" stroke="#605f59" stroke-width="1.8"/>
<ellipse cx="905.8" cy="426.2" rx="3.4" ry="3.9" fill="#1f1f1d" stroke="#605f59" stroke-width="1.8"/>
<polygon points="807.4,367.2 873.8,389.3 869.5,414.8 801.5,391.9" fill="#3c3c39" />
<polygon points="806.2,366.0 872.6,388.1 868.3,413.6 800.3,390.7" fill="#77766f" stroke="#77766f" stroke-width="0.4" stroke-linejoin="round" />
<polygon points="806.9,369.7 870.5,390.9 867.3,409.8 802.6,388.0" fill="#2b2b29" />
<ellipse cx="808.8" cy="380.2" rx="4.1" ry="4.8" fill="#1f1f1d" stroke="#6a6963" stroke-width="2.0"/>
<ellipse cx="820.0" cy="384.0" rx="4.1" ry="4.8" fill="#1f1f1d" stroke="#6a6963" stroke-width="2.0"/>
<ellipse cx="831.2" cy="387.7" rx="4.1" ry="4.8" fill="#1f1f1d" stroke="#6a6963" stroke-width="2.0"/>
<ellipse cx="842.4" cy="391.5" rx="4.1" ry="4.8" fill="#1f1f1d" stroke="#6a6963" stroke-width="2.0"/>
<ellipse cx="853.6" cy="395.2" rx="4.1" ry="4.8" fill="#1f1f1d" stroke="#6a6963" stroke-width="2.0"/>
<ellipse cx="864.8" cy="399.0" rx="4.1" ry="4.8" fill="#1f1f1d" stroke="#6a6963" stroke-width="2.0"/>
<polygon points="873.8,389.3 880.5,391.5 876.5,417.0 869.5,414.8" fill="#3c3c39" />
<polygon points="872.6,388.1 879.3,390.3 875.3,415.8 868.3,413.6" fill="#77766f" stroke="#77766f" stroke-width="0.4" stroke-linejoin="round" />
<polygon points="872.3,391.5 878.5,393.5 875.5,412.4 869.2,410.4" fill="#2b2b29" />
<polygon points="878.9,391.9 911.2,403.0 906.0,429.3 873.8,417.4" fill="#3c3c39" />
<polygon points="877.7,390.7 910.0,401.8 904.8,428.1 872.6,416.2" fill="#77766f" stroke="#77766f" stroke-width="0.4" stroke-linejoin="round" />
<polygon points="878.5,394.5 907.9,404.7 904.0,424.2 874.7,413.4" fill="#2b2b29" />
<ellipse cx="883.2" cy="406.3" rx="4.1" ry="4.8" fill="#1f1f1d" stroke="#6a6963" stroke-width="2.0"/>
<ellipse cx="893.9" cy="410.1" rx="4.1" ry="4.8" fill="#1f1f1d" stroke="#6a6963" stroke-width="2.0"/>
<polygon points="784.5,359.6 806.6,366.4 803.2,391.9 778.5,386.8" fill="#3c3c39" />
<polygon points="783.3,358.4 805.4,365.2 802.0,390.7 777.3,385.6" fill="#77766f" stroke="#77766f" stroke-width="0.4" stroke-linejoin="round" />
<polygon points="783.5,362.2 803.9,368.2 801.3,387.1 779.2,382.3" fill="#2b2b29" />
<ellipse cx="792.0" cy="375.0" rx="4.1" ry="4.8" fill="#1f1f1d" stroke="#6a6963" stroke-width="2.0"/>
<line x1="739.9" y1="430.7" x2="776.3" y2="396.2" stroke="#3b3b3b" stroke-width="2.2"/>
<polygon points="782.8,390.0 778.4,401.3 776.6,395.9 771.2,393.8" fill="#3b3b3b"/>
<line x1="930.2" y1="351.5" x2="900.7" y2="387.4" stroke="#3b3b3b" stroke-width="2.2"/>
<polygon points="895.0,394.4 898.0,382.6 900.4,387.8 906.0,389.2" fill="#3b3b3b"/>
<path d="M604.3,513.6 H619.4 a5.1,10.5 0 0 1 0,21.0 H604.3 a5.1,10.5 0 0 1 0,-21.0z" fill="#f1f1f1" stroke="#c4c4c4" stroke-width="0.6"/>
<path d="M604.3,514.0 a5.1,10.1 0 0 0 0,20.2 h3 a5.1,10.1 0 0 1 0,-20.2z" fill="#dadada"/>
<line x1="609.8" y1="514.1" x2="609.8" y2="534.1" stroke="#c9c9c9" stroke-width="1.1"/>
<ellipse cx="619.4" cy="524.1" rx="5.1" ry="10.5" fill="#d9d9d9" stroke="#a8a8a8" stroke-width="0.6"/>
<ellipse cx="619.4" cy="524.1" rx="2.8" ry="5.9" fill="#bcbcbc"/>
<text x="603.3" y="554.1" font-size="12.6" text-anchor="start" font-weight="bold" fill="#1a1a1a" stroke="#1a1a1a" stroke-width="0.32" >4x</text>
<polygon points="636.3,523.5 640.6,520.4 649.9,519.7 653,516.6 656.7,517.3 659.2,519.7 669.1,518.5 672.2,519.7 673.4,527.2 661.7,530.9 655.5,534.6 643.1,533.4 638.1,532.1 636.9,528.4" fill="#1b1d21" stroke="#1b1d21" stroke-width="0.6"/>
<polygon points="640.6,520.4 649.9,519.7 659.2,519.7 669.1,518.5 672.2,519.7 661,524 650,527 641,524" fill="#262a30"/>
<path d="M651.6,519.2 v-1.6 a3.3,1.8 0 0 1 6.6,0 v1.6 a3.3,1.8 0 0 1 -6.6,0z" fill="#0c0d0f"/>
<ellipse cx="654.9" cy="517.6" rx="3.3" ry="1.8" fill="#2a2e35"/>
<path d="M650.9000000000001,525.7 v-1.6 a3.3,1.8 0 0 1 6.6,0 v1.6 a3.3,1.8 0 0 1 -6.6,0z" fill="#0c0d0f"/>
<ellipse cx="654.2" cy="524.1" rx="3.3" ry="1.8" fill="#2a2e35"/>
<text x="650.5" y="554.1" font-size="12.6" text-anchor="start" font-weight="bold" fill="#1a1a1a" stroke="#1a1a1a" stroke-width="0.32" >2x</text>
<polygon points="897.3,535.5 904.8,536.7 891.1,587.1 883.6,585.9" fill="#242423" stroke="#242423" stroke-width="0.5" stroke-linejoin="round" />
<polygon points="794.5,500.0 897.3,535.5 883.6,585.9 783.0,549.3" fill="#6c6b64" stroke="#6c6b64" stroke-width="0.5" stroke-linejoin="round" />
<polygon points="795.8,504.7 842.6,521.0 838.4,537.9 791.9,521.5" fill="#2b2b29" />
<ellipse cx="795.9" cy="513.8" rx="3.4" ry="3.9" fill="#1f1f1d" stroke="#605f59" stroke-width="1.8"/>
<ellipse cx="804.4" cy="516.8" rx="3.4" ry="3.9" fill="#1f1f1d" stroke="#605f59" stroke-width="1.8"/>
<ellipse cx="812.9" cy="519.8" rx="3.4" ry="3.9" fill="#1f1f1d" stroke="#605f59" stroke-width="1.8"/>
<ellipse cx="821.4" cy="522.8" rx="3.4" ry="3.9" fill="#1f1f1d" stroke="#605f59" stroke-width="1.8"/>
<ellipse cx="830.0" cy="525.7" rx="3.4" ry="3.9" fill="#1f1f1d" stroke="#605f59" stroke-width="1.8"/>
<ellipse cx="838.5" cy="528.7" rx="3.4" ry="3.9" fill="#1f1f1d" stroke="#605f59" stroke-width="1.8"/>
<polygon points="847.1,522.5 893.9,538.7 889.3,555.9 842.8,539.5" fill="#2b2b29" />
<ellipse cx="847.0" cy="531.7" rx="3.4" ry="3.9" fill="#1f1f1d" stroke="#605f59" stroke-width="1.8"/>
<ellipse cx="855.5" cy="534.7" rx="3.4" ry="3.9" fill="#1f1f1d" stroke="#605f59" stroke-width="1.8"/>
<ellipse cx="864.1" cy="537.7" rx="3.4" ry="3.9" fill="#1f1f1d" stroke="#605f59" stroke-width="1.8"/>
<ellipse cx="872.6" cy="540.6" rx="3.4" ry="3.9" fill="#1f1f1d" stroke="#605f59" stroke-width="1.8"/>
<ellipse cx="881.1" cy="543.6" rx="3.4" ry="3.9" fill="#1f1f1d" stroke="#605f59" stroke-width="1.8"/>
<ellipse cx="889.6" cy="546.6" rx="3.4" ry="3.9" fill="#1f1f1d" stroke="#605f59" stroke-width="1.8"/>
<polygon points="790.1,529.4 836.4,545.9 832.1,562.8 786.1,546.2" fill="#2b2b29" />
<ellipse cx="790.4" cy="537.0" rx="3.4" ry="3.9" fill="#1f1f1d" stroke="#605f59" stroke-width="1.8"/>
<ellipse cx="798.9" cy="540.0" rx="3.4" ry="3.9" fill="#1f1f1d" stroke="#605f59" stroke-width="1.8"/>
<ellipse cx="807.3" cy="543.1" rx="3.4" ry="3.9" fill="#1f1f1d" stroke="#605f59" stroke-width="1.8"/>
<ellipse cx="815.7" cy="546.1" rx="3.4" ry="3.9" fill="#1f1f1d" stroke="#605f59" stroke-width="1.8"/>
<ellipse cx="824.2" cy="549.1" rx="3.4" ry="3.9" fill="#1f1f1d" stroke="#605f59" stroke-width="1.8"/>
<ellipse cx="832.6" cy="552.1" rx="3.4" ry="3.9" fill="#1f1f1d" stroke="#605f59" stroke-width="1.8"/>
<polygon points="840.8,547.5 887.1,563.9 882.5,581.1 836.5,564.4" fill="#2b2b29" />
<ellipse cx="841.0" cy="555.2" rx="3.4" ry="3.9" fill="#1f1f1d" stroke="#605f59" stroke-width="1.8"/>
<ellipse cx="849.5" cy="558.2" rx="3.4" ry="3.9" fill="#1f1f1d" stroke="#605f59" stroke-width="1.8"/>
<ellipse cx="857.9" cy="561.2" rx="3.4" ry="3.9" fill="#1f1f1d" stroke="#605f59" stroke-width="1.8"/>
<ellipse cx="866.3" cy="564.2" rx="3.4" ry="3.9" fill="#1f1f1d" stroke="#605f59" stroke-width="1.8"/>
<ellipse cx="874.8" cy="567.3" rx="3.4" ry="3.9" fill="#1f1f1d" stroke="#605f59" stroke-width="1.8"/>
<ellipse cx="883.2" cy="570.3" rx="3.4" ry="3.9" fill="#1f1f1d" stroke="#605f59" stroke-width="1.8"/>
<polygon points="799.0,516.4 854.3,534.3 850.9,558.1 794.0,541.1" fill="#3c3c39" />
<polygon points="797.8,515.2 853.1,533.1 849.7,556.9 792.8,539.9" fill="#77766f" stroke="#77766f" stroke-width="0.4" stroke-linejoin="round" />
<polygon points="798.4,518.8 851.4,535.8 848.9,553.4 794.7,537.1" fill="#2b2b29" />
<ellipse cx="800.0" cy="529.0" rx="4.3" ry="5.0" fill="#1f1f1d" stroke="#6a6963" stroke-width="2.0"/>
<ellipse cx="809.3" cy="531.9" rx="4.3" ry="5.0" fill="#1f1f1d" stroke="#6a6963" stroke-width="2.0"/>
<ellipse cx="818.7" cy="534.8" rx="4.3" ry="5.0" fill="#1f1f1d" stroke="#6a6963" stroke-width="2.0"/>
<ellipse cx="828.0" cy="537.7" rx="4.3" ry="5.0" fill="#1f1f1d" stroke="#6a6963" stroke-width="2.0"/>
<ellipse cx="837.4" cy="540.6" rx="4.3" ry="5.0" fill="#1f1f1d" stroke="#6a6963" stroke-width="2.0"/>
<ellipse cx="846.7" cy="543.5" rx="4.3" ry="5.0" fill="#1f1f1d" stroke="#6a6963" stroke-width="2.0"/>
<polygon points="854.3,534.3 860.3,536.8 856.5,560.0 850.9,558.1" fill="#3c3c39" />
<polygon points="853.1,533.1 859.1,535.6 855.3,558.8 849.7,556.9" fill="#77766f" stroke="#77766f" stroke-width="0.4" stroke-linejoin="round" />
<polygon points="852.9,536.3 858.3,538.5 855.5,555.7 850.4,553.9" fill="#2b2b29" />
<polygon points="860.3,536.8 897.5,548.5 893.5,573.0 856.5,560.0" fill="#3c3c39" />
<polygon points="859.1,535.6 896.3,547.3 892.3,571.8 855.3,558.8" fill="#77766f" stroke="#77766f" stroke-width="0.4" stroke-linejoin="round" />
<polygon points="860.3,539.2 894.1,550.0 891.2,568.0 857.5,556.4" fill="#2b2b29" />
<ellipse cx="863.4" cy="549.3" rx="4.3" ry="5.0" fill="#1f1f1d" stroke="#6a6963" stroke-width="2.0"/>
<ellipse cx="875.8" cy="553.4" rx="4.3" ry="5.0" fill="#1f1f1d" stroke="#6a6963" stroke-width="2.0"/>
<ellipse cx="888.1" cy="557.5" rx="4.3" ry="5.0" fill="#1f1f1d" stroke="#6a6963" stroke-width="2.0"/>
<g transform="rotate(8 787.6 502.0)">
<rect x="779.7" y="491.8" width="15.8" height="20.4" rx="3.2" ry="2.4" fill="#efefef" stroke="#c4c4c4" stroke-width="0.7"/>
<rect x="780.2" y="492.3" width="14.8" height="6.7" rx="3.2" ry="2.4" fill="#fbfbfb"/>
<line x1="780.2" y1="500.0" x2="795.0" y2="500.0" stroke="#c6c6c6" stroke-width="1.2"/>
</g>
<polygon points="772.3,509.8 794.6,514.7 792.8,539.5 767.4,534.5" fill="#15181e" stroke="#15181e" stroke-width="0.6" stroke-linejoin="round" />
<polygon points="774.2,512.8 792.0,516.7 790.6,536.5 770.3,532.5" fill="#191c23" />
<g transform="rotate(8 774.5 549.6)">
<rect x="766.1" y="539.4" width="16.7" height="20.4" rx="3.4" ry="2.4" fill="#efefef" stroke="#c4c4c4" stroke-width="0.7"/>
<rect x="766.6" y="539.9" width="15.7" height="6.7" rx="3.4" ry="2.4" fill="#fbfbfb"/>
<line x1="766.6" y1="547.6" x2="782.3" y2="547.6" stroke="#c6c6c6" stroke-width="1.2"/>
</g>
<g transform="rotate(8 879.9 533.4)">
<rect x="871.5" y="523.2" width="16.7" height="20.4" rx="3.4" ry="2.4" fill="#efefef" stroke="#c4c4c4" stroke-width="0.7"/>
<rect x="872.0" y="523.7" width="15.7" height="6.7" rx="3.4" ry="2.4" fill="#fbfbfb"/>
<line x1="872.0" y1="531.4" x2="887.7" y2="531.4" stroke="#c6c6c6" stroke-width="1.2"/>
</g>
<polygon points="865.4,541.1 886.5,546.5 883.5,572.5 860.3,566.6" fill="#15181e" stroke="#15181e" stroke-width="0.6" stroke-linejoin="round" />
<polygon points="867.1,544.2 884.0,548.5 881.6,569.3 863.0,564.6" fill="#191c23" />
<g transform="rotate(8 867.5 582.8)">
<rect x="858.7" y="573.4" width="17.6" height="18.7" rx="3.5" ry="2.2" fill="#efefef" stroke="#c4c4c4" stroke-width="0.7"/>
<rect x="859.2" y="573.9" width="16.6" height="6.2" rx="3.5" ry="2.2" fill="#fbfbfb"/>
<line x1="859.2" y1="580.9" x2="875.8" y2="580.9" stroke="#c6c6c6" stroke-width="1.2"/>
</g>
<line x1="734.7" y1="505.2" x2="757.7" y2="521.1" stroke="#3b3b3b" stroke-width="2.2"/>
<polygon points="765.1,526.2 753.1,524.2 758.1,521.4 759.0,515.7" fill="#3b3b3b"/>
<line x1="904.8" y1="492.6" x2="881.9" y2="533.1" stroke="#3b3b3b" stroke-width="2.2"/>
<polygon points="877.5,540.9 878.4,528.8 881.7,533.5 887.4,533.9" fill="#3b3b3b"/>
<path d="M31,169 q4,-4 8,0 q3,4 -1,7 q-4,3 -1,6" fill="none" stroke="#1a1a1a" stroke-width="2.6"/>
<circle cx="47" cy="171.3" r="6.2" fill="#2a2a2b"/>
<circle cx="47" cy="171.3" r="2.6" fill="#111"/>
<polygon points="53.0,167.0 63.0,164.0 88.0,164.0 93.0,166.0 93.0,174.0 74.0,177.0 56.0,176.0" fill="#141415" />
<polygon points="63.3,159.0 74.1,158.2 74.1,178.3 63.3,178.3" fill="#0d0d0e" />
<ellipse cx="61" cy="160.5" rx="5" ry="2.3" fill="#3a3a3a"/>
<ellipse cx="61" cy="160.8" rx="3" ry="1.2" fill="#151515"/>
<polygon points="86.5,190.0 118.1,190.0 118.1,205.4 86.5,205.4" fill="#141415" />
<polygon points="211.0,190.0 263.6,190.0 260.5,202.3 220.0,202.3" fill="#141415" />
<circle cx="106.2" cy="206.2" r="10.6" fill="#ebe7dc" stroke="#c9c4b5" stroke-width="0.8"/>
<circle cx="107.0" cy="206.5" r="6.6" fill="#dcd6c6"/>
<rect x="103.7" y="203.7" width="5" height="5" fill="#f3efe4" transform="rotate(20 106.2 206.2)"/>
<circle cx="249.3" cy="206.9" r="11.5" fill="#ebe7dc" stroke="#c9c4b5" stroke-width="0.8"/>
<circle cx="250.10000000000002" cy="207.20000000000002" r="7.1" fill="#dcd6c6"/>
<rect x="246.8" y="204.4" width="5" height="5" fill="#f3efe4" transform="rotate(20 249.3 206.9)"/>
<polygon points="93.4,119.0 236.6,119.0 236.6,165.2 263.6,165.2 263.6,193.0 93.4,193.0" fill="#141415" />
<defs><linearGradient id="lsg" x1="0" y1="0" x2="0" y2="1"><stop offset="0" stop-color="#a0a0a0"/><stop offset="0.6" stop-color="#6e6e6e"/><stop offset="1" stop-color="#4a4a4a"/></linearGradient></defs>
<polygon points="87.0,121.0 93.4,119.0 93.4,205.0 86.5,205.0" fill="url(#lsg)" />
<polygon points="93.4,174.1 121.2,174.1 121.2,179.9 93.4,179.9" fill="#4d4d4d" />
<polygon points="86.5,186.0 263.6,186.0 263.6,191.5 86.5,191.5" fill="#383838" />
<rect x="92.6" y="115.8" width="6.8" height="5" rx="1.4" fill="#1d1d1e"/>
<ellipse cx="96.0" cy="116.2" rx="3.4" ry="1.3" fill="#2e2e2f"/>
<rect x="176.0" y="115.8" width="6.8" height="5" rx="1.4" fill="#1d1d1e"/>
<ellipse cx="179.4" cy="116.2" rx="3.4" ry="1.3" fill="#2e2e2f"/>
<rect x="189.9" y="115.8" width="6.8" height="5" rx="1.4" fill="#1d1d1e"/>
<ellipse cx="193.3" cy="116.2" rx="3.4" ry="1.3" fill="#2e2e2f"/>
<rect x="203.8" y="115.8" width="6.8" height="5" rx="1.4" fill="#1d1d1e"/>
<ellipse cx="207.2" cy="116.2" rx="3.4" ry="1.3" fill="#2e2e2f"/>
<rect x="217.7" y="115.8" width="6.8" height="5" rx="1.4" fill="#1d1d1e"/>
<ellipse cx="221.1" cy="116.2" rx="3.4" ry="1.3" fill="#2e2e2f"/>
<rect x="231.6" y="115.8" width="6.8" height="5" rx="1.4" fill="#1d1d1e"/>
<ellipse cx="235.0" cy="116.2" rx="3.4" ry="1.3" fill="#2e2e2f"/>
<rect x="95.6" y="120.5" width="6.8" height="5" rx="1.4" fill="#101011"/>
<ellipse cx="99.0" cy="120.8" rx="3.4" ry="1.3" fill="#262627"/>
<rect x="103.5" y="124.8" width="2.6" height="2.2" fill="#9a9a9a"/>
<rect x="165.1" y="120.5" width="6.8" height="5" rx="1.4" fill="#101011"/>
<ellipse cx="168.5" cy="120.8" rx="3.4" ry="1.3" fill="#262627"/>
<rect x="173.0" y="124.8" width="2.6" height="2.2" fill="#9a9a9a"/>
<rect x="179.0" y="120.5" width="6.8" height="5" rx="1.4" fill="#101011"/>
<ellipse cx="182.4" cy="120.8" rx="3.4" ry="1.3" fill="#262627"/>
<rect x="186.9" y="124.8" width="2.6" height="2.2" fill="#9a9a9a"/>
<rect x="192.9" y="120.5" width="6.8" height="5" rx="1.4" fill="#101011"/>
<ellipse cx="196.3" cy="120.8" rx="3.4" ry="1.3" fill="#262627"/>
<rect x="200.8" y="124.8" width="2.6" height="2.2" fill="#9a9a9a"/>
<rect x="206.8" y="120.5" width="6.8" height="5" rx="1.4" fill="#101011"/>
<ellipse cx="210.2" cy="120.8" rx="3.4" ry="1.3" fill="#262627"/>
<rect x="214.7" y="124.8" width="2.6" height="2.2" fill="#9a9a9a"/>
<rect x="220.7" y="120.5" width="6.8" height="5" rx="1.4" fill="#101011"/>
<ellipse cx="224.1" cy="120.8" rx="3.4" ry="1.3" fill="#262627"/>
<rect x="228.6" y="124.8" width="2.6" height="2.2" fill="#9a9a9a"/>
<rect x="234.6" y="120.5" width="6.8" height="5" rx="1.4" fill="#101011"/>
<ellipse cx="238.0" cy="120.8" rx="3.4" ry="1.3" fill="#262627"/>
<rect x="242.5" y="124.8" width="2.6" height="2.2" fill="#9a9a9a"/>
<polygon points="223.4,126.0 234.0,124.0 241.0,130.0 237.3,146.6 223.4,146.6" fill="#474748" />
<polygon points="226.0,124.5 234.0,123.0 241.0,129.0 233.0,130.0" fill="#2b2b2c" />
<ellipse cx="241.5" cy="135.8" rx="4" ry="6" fill="#e0b516"/>
<ellipse cx="240" cy="134" rx="2" ry="3" fill="#f2cf3a"/>
<path d="M247,171 v-31 q0,-4 4,-4 h3 q3,0 3,3 v33" fill="none" stroke="#111" stroke-width="4"/>
<polygon points="236.6,160.0 247.0,157.0 257.0,163.0 257.0,170.0 236.6,170.0" fill="#141415" />
<line x1="243" y1="163" x2="252" y2="160" stroke="#8c8c8c" stroke-width="0.8"/>
<polygon points="104.5,91.5 165.0,91.5 165.0,122.0 103.0,122.0" fill="#e4e4e4" />
<polygon points="104.5,91.5 110.0,91.5 108.5,122.0 103.0,122.0" fill="#cdcdcd" />
<polygon points="150.0,91.5 165.0,91.5 165.0,122.0 150.0,122.0" fill="#eeeeee" />
<polygon points="103.0,113.0 165.0,113.0 165.0,128.0 103.0,128.0" fill="#c4c4c4" />
<rect x="108.5" y="115.5" width="7" height="3.5" fill="#2a2a2a"/>
<rect x="122.5" y="115.5" width="7" height="3.5" fill="#2a2a2a"/>
<rect x="136.5" y="115.5" width="7" height="3.5" fill="#2a2a2a"/>
<rect x="150.5" y="115.5" width="7" height="3.5" fill="#2a2a2a"/>
<rect x="102.5" y="121.5" width="7" height="5" fill="#1c1c1c"/>
<rect x="110" y="124.5" width="2.6" height="2.5" fill="#a5a5a5"/>
<rect x="115.5" y="121.5" width="7" height="5" fill="#1c1c1c"/>
<rect x="123" y="124.5" width="2.6" height="2.5" fill="#a5a5a5"/>
<rect x="129.5" y="121.5" width="7" height="5" fill="#1c1c1c"/>
<rect x="137" y="124.5" width="2.6" height="2.5" fill="#a5a5a5"/>
<rect x="143.5" y="121.5" width="7" height="5" fill="#1c1c1c"/>
<rect x="151" y="124.5" width="2.6" height="2.5" fill="#a5a5a5"/>
<rect x="157.5" y="121.5" width="7" height="5" fill="#1c1c1c"/>
<rect x="165" y="124.5" width="2.6" height="2.5" fill="#a5a5a5"/>
<polygon points="106.5,81.5 165.0,81.5 165.0,91.5 106.5,91.5" fill="#141415" />
<rect x="109.4" y="78" width="7.2" height="5" rx="1.5" fill="#1b1b1c"/>
<rect x="123.4" y="78" width="7.2" height="5" rx="1.5" fill="#1b1b1c"/>
<rect x="137.4" y="78" width="7.2" height="5" rx="1.5" fill="#1b1b1c"/>
<rect x="154.4" y="78" width="7.2" height="5" rx="1.5" fill="#1b1b1c"/>
<polygon points="114.1,67.0 127.7,67.0 127.7,82.0 114.1,82.0" fill="#111" />
<rect x="116.8" y="63" width="8.4" height="5" rx="1.2" fill="#151515"/>
<ellipse cx="121" cy="63.6" rx="4.2" ry="1.2" fill="#262626"/>
<path d="M299,166 a5,5 0 1 1 6,2" fill="none" stroke="#777570" stroke-width="2.6"/>
<polygon points="305.0,163.0 312.0,160.0 319.4,161.0 319.4,176.4 309.0,174.0 306.0,168.0" fill="#20242c" />
<circle cx="308" cy="165" r="2.4" fill="#55544f"/>
<polygon points="326.3,194.0 351.8,201.0 351.8,208.8 326.3,201.5" fill="#101318" />
<polygon points="318.6,143.9 331.7,144.7 364.2,157.8 393.6,171.7 395.2,186.4 401.4,209.5 401.4,214.2 318.6,194.9" fill="#171a20" />
<polygon points="395.2,186.4 434.6,173.2 445.0,190.0 447.7,200.3 401.4,209.5" fill="#101318" />
<polygon points="319.4,181.0 334.8,185.0 334.8,189.5 319.4,185.5" fill="#7b7b77" />
<polygon points="318.6,190.5 401.4,210.5 401.4,213.8 318.6,193.8" fill="#5a5a56" />
<polygon points="401.4,209.5 447.7,200.3 449.3,211.1 402.9,220.4" fill="#232831" />
<polygon points="401.4,214.2 402.9,220.4 402.9,232.7 390.0,218.1" fill="#2a2a2a" />
<polygon points="402.9,220.4 449.3,211.1 449.3,222.0 402.9,232.7" fill="#5d5d59" />
<polygon points="402.9,228.0 449.3,218.0 449.3,222.0 402.9,232.7" fill="#1e2126" />
<ellipse cx="410.0" cy="211.0" rx="3" ry="1.6" fill="#11141a"/>
<ellipse cx="420.5" cy="208.8" rx="3" ry="1.6" fill="#11141a"/>
<ellipse cx="431.0" cy="206.6" rx="3" ry="1.6" fill="#11141a"/>
<ellipse cx="441.5" cy="204.4" rx="3" ry="1.6" fill="#11141a"/>
<polygon points="318.6,193.8 401.4,213.8 402.9,226.0 318.6,197.0" fill="#17191d" />
<path d="M418.4,207 v-13 q0,-3.5 3.5,-4.3 l17,-3.6 q3,-0.5 3,2.5 v14" fill="none" stroke="#2a3240" stroke-width="2.6"/>
<rect x="426" y="185" width="5" height="5" fill="#0c0e12"/>
<polygon points="364.3,157.8 391.3,148.5 433.8,162.4 399.8,172.5" fill="#222832" />
<path d="M367.8,158.2 v-1.5 a2.7,1.5 0 0 1 5.4,0 v1.5 a2.7,1.5 0 0 1 -5.4,0z" fill="#0d1015"/>
<ellipse cx="370.5" cy="156.7" rx="2.7" ry="1.5" fill="#2d3440"/>
<path d="M373.1,160.1 v-1.5 a2.7,1.5 0 0 1 5.4,0 v1.5 a2.7,1.5 0 0 1 -5.4,0z" fill="#0d1015"/>
<ellipse cx="375.8" cy="158.6" rx="2.7" ry="1.5" fill="#2d3440"/>
<path d="M378.4,162.1 v-1.5 a2.7,1.5 0 0 1 5.4,0 v1.5 a2.7,1.5 0 0 1 -5.4,0z" fill="#0d1015"/>
<ellipse cx="381.1" cy="160.6" rx="2.7" ry="1.5" fill="#2d3440"/>
<path d="M383.7,164.0 v-1.5 a2.7,1.5 0 0 1 5.4,0 v1.5 a2.7,1.5 0 0 1 -5.4,0z" fill="#0d1015"/>
<ellipse cx="386.4" cy="162.5" rx="2.7" ry="1.5" fill="#2d3440"/>
<path d="M389.0,166.0 v-1.5 a2.7,1.5 0 0 1 5.4,0 v1.5 a2.7,1.5 0 0 1 -5.4,0z" fill="#0d1015"/>
<ellipse cx="391.7" cy="164.5" rx="2.7" ry="1.5" fill="#2d3440"/>
<path d="M394.3,167.9 v-1.5 a2.7,1.5 0 0 1 5.4,0 v1.5 a2.7,1.5 0 0 1 -5.4,0z" fill="#0d1015"/>
<ellipse cx="397.0" cy="166.4" rx="2.7" ry="1.5" fill="#2d3440"/>
<path d="M374.5,155.8 v-1.5 a2.7,1.5 0 0 1 5.4,0 v1.5 a2.7,1.5 0 0 1 -5.4,0z" fill="#0d1015"/>
<ellipse cx="377.2" cy="154.3" rx="2.7" ry="1.5" fill="#2d3440"/>
<path d="M379.8,157.8 v-1.5 a2.7,1.5 0 0 1 5.4,0 v1.5 a2.7,1.5 0 0 1 -5.4,0z" fill="#0d1015"/>
<ellipse cx="382.5" cy="156.3" rx="2.7" ry="1.5" fill="#2d3440"/>
<path d="M385.1,159.8 v-1.5 a2.7,1.5 0 0 1 5.4,0 v1.5 a2.7,1.5 0 0 1 -5.4,0z" fill="#0d1015"/>
<ellipse cx="387.8" cy="158.2" rx="2.7" ry="1.5" fill="#2d3440"/>
<path d="M390.4,161.7 v-1.5 a2.7,1.5 0 0 1 5.4,0 v1.5 a2.7,1.5 0 0 1 -5.4,0z" fill="#0d1015"/>
<ellipse cx="393.1" cy="160.2" rx="2.7" ry="1.5" fill="#2d3440"/>
<path d="M395.7,163.7 v-1.5 a2.7,1.5 0 0 1 5.4,0 v1.5 a2.7,1.5 0 0 1 -5.4,0z" fill="#0d1015"/>
<ellipse cx="398.4" cy="162.2" rx="2.7" ry="1.5" fill="#2d3440"/>
<path d="M401.0,165.6 v-1.5 a2.7,1.5 0 0 1 5.4,0 v1.5 a2.7,1.5 0 0 1 -5.4,0z" fill="#0d1015"/>
<ellipse cx="403.7" cy="164.1" rx="2.7" ry="1.5" fill="#2d3440"/>
<path d="M381.2,153.5 v-1.5 a2.7,1.5 0 0 1 5.4,0 v1.5 a2.7,1.5 0 0 1 -5.4,0z" fill="#0d1015"/>
<ellipse cx="383.9" cy="152.0" rx="2.7" ry="1.5" fill="#2d3440"/>
<path d="M386.5,155.4 v-1.5 a2.7,1.5 0 0 1 5.4,0 v1.5 a2.7,1.5 0 0 1 -5.4,0z" fill="#0d1015"/>
<ellipse cx="389.2" cy="153.9" rx="2.7" ry="1.5" fill="#2d3440"/>
<path d="M391.8,157.4 v-1.5 a2.7,1.5 0 0 1 5.4,0 v1.5 a2.7,1.5 0 0 1 -5.4,0z" fill="#0d1015"/>
<ellipse cx="394.5" cy="155.9" rx="2.7" ry="1.5" fill="#2d3440"/>
<path d="M397.1,159.3 v-1.5 a2.7,1.5 0 0 1 5.4,0 v1.5 a2.7,1.5 0 0 1 -5.4,0z" fill="#0d1015"/>
<ellipse cx="399.8" cy="157.8" rx="2.7" ry="1.5" fill="#2d3440"/>
<path d="M402.4,161.3 v-1.5 a2.7,1.5 0 0 1 5.4,0 v1.5 a2.7,1.5 0 0 1 -5.4,0z" fill="#0d1015"/>
<ellipse cx="405.1" cy="159.8" rx="2.7" ry="1.5" fill="#2d3440"/>
<path d="M407.7,163.2 v-1.5 a2.7,1.5 0 0 1 5.4,0 v1.5 a2.7,1.5 0 0 1 -5.4,0z" fill="#0d1015"/>
<ellipse cx="410.4" cy="161.8" rx="2.7" ry="1.5" fill="#2d3440"/>
<path d="M387.9,151.1 v-1.5 a2.7,1.5 0 0 1 5.4,0 v1.5 a2.7,1.5 0 0 1 -5.4,0z" fill="#0d1015"/>
<ellipse cx="390.6" cy="149.6" rx="2.7" ry="1.5" fill="#2d3440"/>
<path d="M393.2,153.1 v-1.5 a2.7,1.5 0 0 1 5.4,0 v1.5 a2.7,1.5 0 0 1 -5.4,0z" fill="#0d1015"/>
<ellipse cx="395.9" cy="151.6" rx="2.7" ry="1.5" fill="#2d3440"/>
<path d="M398.5,155.0 v-1.5 a2.7,1.5 0 0 1 5.4,0 v1.5 a2.7,1.5 0 0 1 -5.4,0z" fill="#0d1015"/>
<ellipse cx="401.2" cy="153.5" rx="2.7" ry="1.5" fill="#2d3440"/>
<path d="M403.8,157.0 v-1.5 a2.7,1.5 0 0 1 5.4,0 v1.5 a2.7,1.5 0 0 1 -5.4,0z" fill="#0d1015"/>
<ellipse cx="406.5" cy="155.5" rx="2.7" ry="1.5" fill="#2d3440"/>
<path d="M409.1,158.9 v-1.5 a2.7,1.5 0 0 1 5.4,0 v1.5 a2.7,1.5 0 0 1 -5.4,0z" fill="#0d1015"/>
<ellipse cx="411.8" cy="157.4" rx="2.7" ry="1.5" fill="#2d3440"/>
<path d="M414.4,160.9 v-1.5 a2.7,1.5 0 0 1 5.4,0 v1.5 a2.7,1.5 0 0 1 -5.4,0z" fill="#0d1015"/>
<ellipse cx="417.1" cy="159.4" rx="2.7" ry="1.5" fill="#2d3440"/>
<polygon points="393.6,171.7 399.8,172.5 400.5,187.0 395.2,186.4" fill="#7a7a74" />
<polygon points="399.8,172.5 433.0,163.2 434.6,173.2 400.5,187.0" fill="#5c5c57" />
<circle cx="407.5" cy="178.6" r="4.4" fill="#b38d0c"/>
<circle cx="407.2" cy="178.29999999999998" r="3.5" fill="#efc624"/>
<path d="M408.7,176.2 a2.6,2.6 0 0 1 0,4.8" fill="none" stroke="#1a1a1a" stroke-width="1.1"/>
<circle cx="432.2" cy="170.1" r="4.4" fill="#b38d0c"/>
<circle cx="431.9" cy="169.79999999999998" r="3.5" fill="#efc624"/>
<path d="M433.4,167.7 a2.6,2.6 0 0 1 0,4.8" fill="none" stroke="#1a1a1a" stroke-width="1.1"/>
<polygon points="334.4,120.5 363.4,129.8 384.2,125.1 390.0,147.1 364.2,157.8 331.7,144.7" fill="#f7f7f7" stroke="#d6d6d6" stroke-width="0.5" stroke-linejoin="round" />
<polygon points="363.4,129.8 384.2,125.1 390.0,147.1 364.2,157.8" fill="#e4e4e4" />
<polygon points="370.0,129.0 382.0,126.0 388.0,146.5 372.0,153.0" fill="#f0f0f0" />
<polygon points="335.6,113.5 356.4,108.9 384.2,120.5 384.2,125.1 363.4,129.8 335.6,118.2" fill="#222832" />
<polygon points="335.6,118.2 363.4,125.1 363.4,129.8 335.6,122.5" fill="#171a20" />
<polygon points="363.4,125.1 384.2,120.5 384.2,125.1 363.4,129.8" fill="#101318" />
<path d="M338.8,115.5 v-1.4 a2.7,1.5 0 0 1 5.4,0 v1.4 a2.7,1.5 0 0 1 -5.4,0z" fill="#0d1015"/>
<ellipse cx="341.5" cy="114.1" rx="2.7" ry="1.5" fill="#2d3440"/>
<path d="M345.4,117.9 v-1.4 a2.7,1.5 0 0 1 5.4,0 v1.4 a2.7,1.5 0 0 1 -5.4,0z" fill="#0d1015"/>
<ellipse cx="348.1" cy="116.5" rx="2.7" ry="1.5" fill="#2d3440"/>
<path d="M352.0,120.3 v-1.4 a2.7,1.5 0 0 1 5.4,0 v1.4 a2.7,1.5 0 0 1 -5.4,0z" fill="#0d1015"/>
<ellipse cx="354.7" cy="118.9" rx="2.7" ry="1.5" fill="#2d3440"/>
<path d="M358.6,122.7 v-1.4 a2.7,1.5 0 0 1 5.4,0 v1.4 a2.7,1.5 0 0 1 -5.4,0z" fill="#0d1015"/>
<ellipse cx="361.3" cy="121.3" rx="2.7" ry="1.5" fill="#2d3440"/>
<path d="M345.8,112.9 v-1.4 a2.7,1.5 0 0 1 5.4,0 v1.4 a2.7,1.5 0 0 1 -5.4,0z" fill="#0d1015"/>
<ellipse cx="348.5" cy="111.5" rx="2.7" ry="1.5" fill="#2d3440"/>
<path d="M352.4,115.3 v-1.4 a2.7,1.5 0 0 1 5.4,0 v1.4 a2.7,1.5 0 0 1 -5.4,0z" fill="#0d1015"/>
<ellipse cx="355.1" cy="113.9" rx="2.7" ry="1.5" fill="#2d3440"/>
<path d="M359.0,117.7 v-1.4 a2.7,1.5 0 0 1 5.4,0 v1.4 a2.7,1.5 0 0 1 -5.4,0z" fill="#0d1015"/>
<ellipse cx="361.7" cy="116.3" rx="2.7" ry="1.5" fill="#2d3440"/>
<path d="M365.6,120.1 v-1.4 a2.7,1.5 0 0 1 5.4,0 v1.4 a2.7,1.5 0 0 1 -5.4,0z" fill="#0d1015"/>
<ellipse cx="368.3" cy="118.7" rx="2.7" ry="1.5" fill="#2d3440"/>
<polygon points="346.0,101.0 357.6,101.0 357.6,114.7 346.0,114.7" fill="#121418" />
<ellipse cx="351.8" cy="100.5" rx="5.8" ry="2" fill="#262a30"/>
<ellipse cx="351.8" cy="100.5" rx="3" ry="1" fill="#0b0c0e"/>
<ellipse cx="325" cy="144.5" rx="3" ry="1.6" fill="#2a313c"/>
<path d="M321.8,199.5 H335.8 a2.9,8.5 0 0 1 0,17.1 H321.8z" fill="#f0f0f0" stroke="#bdbdbd" stroke-width="0.6"/>
<ellipse cx="321.8" cy="208.1" rx="4.8" ry="8.5" fill="#dedede" stroke="#aaa" stroke-width="0.6"/>
<ellipse cx="321.8" cy="208.1" rx="2.4" ry="4.6" fill="#c6c6c6"/>
<line x1="328.9" y1="200.1" x2="328.9" y2="216.0" stroke="#c8c8c8" stroke-width="0.8"/>
<path d="M404.8,227.3 H417.4 a2.5,6.3 0 0 1 0,12.7 H404.8z" fill="#f0f0f0" stroke="#bdbdbd" stroke-width="0.6"/>
<ellipse cx="404.8" cy="233.7" rx="4.2" ry="6.3" fill="#dedede" stroke="#aaa" stroke-width="0.6"/>
<ellipse cx="404.8" cy="233.7" rx="2.1" ry="3.4" fill="#c6c6c6"/>
<line x1="411.2" y1="227.9" x2="411.2" y2="239.4" stroke="#c8c8c8" stroke-width="0.8"/>
<path d="M442.3,217.3 h6 a3,6.2 0 0 1 0,12.3 h-6z" fill="#f0f0f0" stroke="#bdbdbd" stroke-width="0.6"/>
</svg></body></html>
